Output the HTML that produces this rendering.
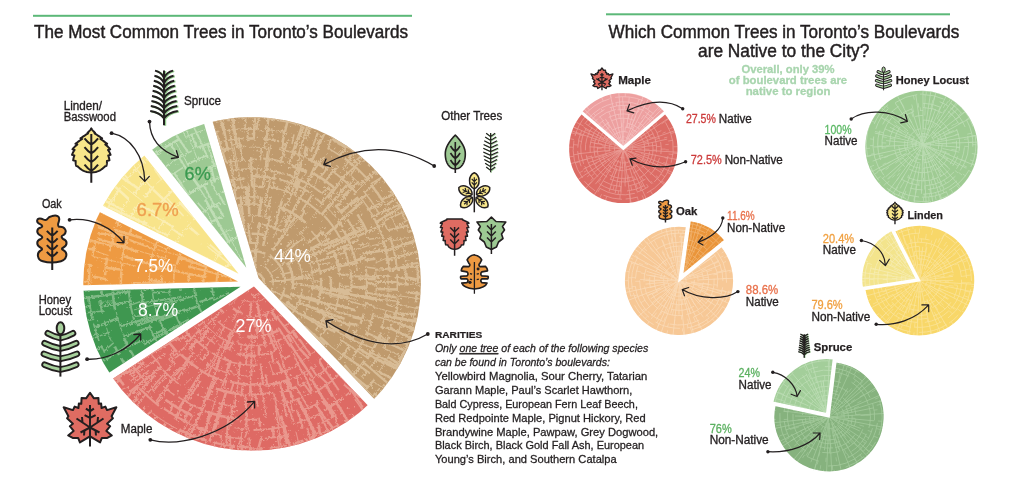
<!DOCTYPE html>
<html><head><meta charset="utf-8"><style>
html,body{margin:0;padding:0;background:#fff;width:1024px;height:482px;overflow:hidden}
svg{will-change:transform}
</style></head><body><svg width="1024" height="482" viewBox="0 0 1024 482" style="position:absolute;left:0;top:0" font-family='"Liberation Sans", sans-serif'><defs><filter id="rough" x="-5%" y="-5%" width="110%" height="110%"><feTurbulence type="fractalNoise" baseFrequency="0.45" numOctaves="2" seed="3"/><feDisplacementMap in="SourceGraphic" scale="3.5"/></filter><clipPath id="lpclip"><ellipse cx="252.1" cy="283.85" rx="168.8" ry="166.75"/></clipPath><clipPath id="ls0"><path d="M258.55,278.12L199.10,75.46L211.01,72.14L229.87,69.25L248.91,68.04L267.99,68.52L286.94,70.70L305.63,74.54L323.91,80.03L341.62,87.12L358.64,95.74L374.83,105.85L390.06,117.35L404.20,130.15L417.16,144.16L428.82,159.26L439.10,175.34L447.91,192.26L455.19,209.90L460.88,228.12L464.92,246.76L467.30,265.69L467.99,284.76L466.99,303.82L464.30,322.71L459.95,341.29L453.97,359.41L446.40,376.92L437.31,393.70L426.77,409.61L414.86,424.51L404.96,431.06Z"/></clipPath><filter id="spk0" x="0" y="0" width="100%" height="100%" color-interpolation-filters="sRGB"><feTurbulence type="fractalNoise" baseFrequency="0.3" numOctaves="3" seed="11" result="n"/><feColorMatrix in="n" type="matrix" values="0 0 0 0 0.847 0 0 0 0 0.737 0 0 0 0 0.588 10 0 0 0 -7.0" result="c"/><feComposite in="c" in2="SourceAlpha" operator="in"/></filter><clipPath id="ls1"><path d="M253.88,286.40L398.39,437.35L387.49,450.74L372.28,461.88L356.14,471.64L339.21,479.96L321.62,486.76L303.50,491.98L284.99,495.61L266.24,497.59L247.38,497.93L228.57,496.61L209.94,493.64L191.65,489.06L173.83,482.89L156.61,475.18L140.14,466.00L124.54,455.40L109.93,443.48L96.41,430.33L84.10,416.04L75.01,403.45Z"/></clipPath><filter id="spk1" x="0" y="0" width="100%" height="100%" color-interpolation-filters="sRGB"><feTurbulence type="fractalNoise" baseFrequency="0.3" numOctaves="3" seed="12" result="n"/><feColorMatrix in="n" type="matrix" values="0 0 0 0 0.918 0 0 0 0 0.596 0 0 0 0 0.557 10 0 0 0 -7.0" result="c"/><feComposite in="c" in2="SourceAlpha" operator="in"/></filter><clipPath id="ls2"><path d="M240.49,286.81L71.18,397.60L62.99,383.60L54.51,365.62L47.73,346.94L42.70,327.70L39.47,308.08L38.13,291.75Z"/></clipPath><filter id="spk2" x="0" y="0" width="100%" height="100%" color-interpolation-filters="sRGB"><feTurbulence type="fractalNoise" baseFrequency="0.3" numOctaves="3" seed="13" result="n"/><feColorMatrix in="n" type="matrix" values="0 0 0 0 0.502 0 0 0 0 0.729 0 0 0 0 0.525 10 0 0 0 -7.7" result="c"/><feComposite in="c" in2="SourceAlpha" operator="in"/></filter><clipPath id="ls3"><path d="M238.10,281.46L38.00,286.35L38.58,267.25L41.14,246.40L45.72,225.91L52.28,205.95L59.14,191.85Z"/></clipPath><filter id="spk3" x="0" y="0" width="100%" height="100%" color-interpolation-filters="sRGB"><feTurbulence type="fractalNoise" baseFrequency="0.3" numOctaves="3" seed="14" result="n"/><feColorMatrix in="n" type="matrix" values="0 0 0 0 0.957 0 0 0 0 0.725 0 0 0 0 0.467 10 0 0 0 -7.7" result="c"/><feComposite in="c" in2="SourceAlpha" operator="in"/></filter><clipPath id="ls4"><path d="M238.56,273.64L62.37,185.41L72.28,166.53L85.91,147.70L101.50,130.44L114.34,118.03Z"/></clipPath><filter id="spk4" x="0" y="0" width="100%" height="100%" color-interpolation-filters="sRGB"><feTurbulence type="fractalNoise" baseFrequency="0.3" numOctaves="3" seed="15" result="n"/><feColorMatrix in="n" type="matrix" values="0 0 0 0 0.984 0 0 0 0 0.933 0 0 0 0 0.702 10 0 0 0 -7.7" result="c"/><feComposite in="c" in2="SourceAlpha" operator="in"/></filter><clipPath id="ls5"><path d="M246.31,267.64L122.00,111.92L135.78,102.76L153.81,92.25L172.76,83.53L190.65,77.93Z"/></clipPath><filter id="spk5" x="0" y="0" width="100%" height="100%" color-interpolation-filters="sRGB"><feTurbulence type="fractalNoise" baseFrequency="0.3" numOctaves="3" seed="16" result="n"/><feColorMatrix in="n" type="matrix" values="0 0 0 0 0.753 0 0 0 0 0.871 0 0 0 0 0.714 10 0 0 0 -7.7" result="c"/><feComposite in="c" in2="SourceAlpha" operator="in"/></filter><clipPath id="rp1a"><path d="M623.30,148.90L665.27,113.05A55.20,55.20 0 1 1 581.33,113.05Z"/></clipPath><clipPath id="rp1b"><path d="M623.30,147.30L581.33,111.45A55.20,55.20 0 0 1 665.27,111.45Z"/></clipPath><clipPath id="hlclip"><circle cx="921.45" cy="146.9" r="56.1"/></clipPath><clipPath id="rp2a"><path d="M679.00,280.80L721.63,246.28A54.85,54.85 0 1 1 686.63,226.48Z"/></clipPath><clipPath id="rp2b"><path d="M682.45,274.71L690.08,220.39A54.85,54.85 0 0 1 725.07,240.19Z"/></clipPath><clipPath id="rp3a"><path d="M919.40,280.60L894.11,230.97A55.70,55.70 0 1 1 864.39,289.31Z"/></clipPath><clipPath id="rp3b"><path d="M916.99,279.37L861.98,288.09A55.70,55.70 0 0 1 891.71,229.75Z"/></clipPath><clipPath id="rp4a"><path d="M829.00,416.80L835.75,361.81A55.40,55.40 0 1 1 774.81,405.28Z"/></clipPath><clipPath id="rp4b"><path d="M826.79,413.71L772.60,402.19A55.40,55.40 0 0 1 833.54,358.72Z"/></clipPath><g id="ic_spruce"><path d="M164,70.6L164,125.3M155.00,70.60Q161.30,72.06 164,77.90M173.00,70.60Q166.70,72.06 164,77.90M154.40,75.66Q161.12,77.12 164,82.96M173.60,75.66Q166.88,77.12 164,82.96M153.80,80.72Q160.94,82.18 164,88.02M174.20,80.72Q167.06,82.18 164,88.02M153.20,85.78Q160.76,87.24 164,93.08M174.80,85.78Q167.24,87.24 164,93.08M152.60,90.84Q160.58,92.30 164,98.14M175.40,90.84Q167.42,92.30 164,98.14M152.00,95.90Q160.40,97.36 164,103.20M176.00,95.90Q167.60,97.36 164,103.20M151.40,100.96Q160.22,102.42 164,108.26M176.60,100.96Q167.78,102.42 164,108.26M150.80,106.02Q160.04,107.48 164,113.32M177.20,106.02Q167.96,107.48 164,113.32M150.20,111.08Q159.86,112.54 164,118.38M177.80,111.08Q168.14,112.54 164,118.38" transform="translate(1.2,0.5)" fill="none" stroke="#93cb8c" style="stroke-width:var(--sw,2px)"/><path d="M164,70.6L164,125.3M155.00,70.60Q161.30,72.06 164,77.90M173.00,70.60Q166.70,72.06 164,77.90M154.40,75.66Q161.12,77.12 164,82.96M173.60,75.66Q166.88,77.12 164,82.96M153.80,80.72Q160.94,82.18 164,88.02M174.20,80.72Q167.06,82.18 164,88.02M153.20,85.78Q160.76,87.24 164,93.08M174.80,85.78Q167.24,87.24 164,93.08M152.60,90.84Q160.58,92.30 164,98.14M175.40,90.84Q167.42,92.30 164,98.14M152.00,95.90Q160.40,97.36 164,103.20M176.00,95.90Q167.60,97.36 164,103.20M151.40,100.96Q160.22,102.42 164,108.26M176.60,100.96Q167.78,102.42 164,108.26M150.80,106.02Q160.04,107.48 164,113.32M177.20,106.02Q167.96,107.48 164,113.32M150.20,111.08Q159.86,112.54 164,118.38M177.80,111.08Q168.14,112.54 164,118.38" fill="none" stroke="#231f20" style="stroke-width:var(--sw,2px)" stroke-linecap="butt"/></g><g id="ic_linden"><path d="M91.30,128.40L91.58,128.95L91.97,129.50L92.41,130.05L92.89,130.61L93.40,131.16L93.93,131.71L94.47,132.26L95.04,132.81L94.57,133.36L95.40,133.91L96.25,134.46L97.10,135.02L97.95,135.57L98.80,136.12L99.65,136.67L100.49,137.22L101.33,137.77L102.16,138.32L100.39,138.87L101.20,139.43L102.00,139.98L102.79,140.53L103.57,141.08L104.33,141.63L105.07,142.18L105.80,142.73L106.51,143.28L107.19,143.84L105.26,144.39L105.91,144.94L106.53,145.49L107.13,146.04L107.70,146.59L108.25,147.14L108.77,147.69L109.27,148.25L109.74,148.80L110.18,149.35L107.99,149.90L108.38,150.45L108.74,151.00L109.07,151.55L109.37,152.10L109.64,152.66L109.89,153.21L110.13,153.76L110.37,154.31L110.59,154.86L108.20,155.41L108.40,155.96L108.58,156.51L108.75,157.06L108.91,157.62L109.05,158.17L109.18,158.72L109.29,159.27L109.38,159.82L109.45,160.37L106.91,160.92L106.94,161.47L106.96,162.03L106.95,162.58L106.92,163.13L106.87,163.68L106.79,164.23L106.68,164.78L106.55,165.33L106.38,165.88L104.82,166.44L104.31,166.99L103.76,167.54L103.16,168.09L102.50,168.64L101.76,169.19L100.94,169.74L100.00,170.30L98.90,170.85L97.56,171.40L95.76,171.95L91.30,172.50L91.30,172.50L86.84,171.95L85.04,171.40L83.70,170.85L82.60,170.30L81.66,169.74L80.84,169.19L80.10,168.64L79.44,168.09L78.84,167.54L78.29,166.99L77.78,166.44L76.22,165.88L76.05,165.33L75.92,164.78L75.81,164.23L75.73,163.68L75.68,163.13L75.65,162.58L75.64,162.03L75.66,161.47L75.69,160.92L73.15,160.37L73.22,159.82L73.31,159.27L73.42,158.72L73.55,158.17L73.69,157.62L73.85,157.06L74.02,156.51L74.20,155.96L74.40,155.41L72.01,154.86L72.23,154.31L72.47,153.76L72.71,153.21L72.96,152.66L73.23,152.10L73.53,151.55L73.86,151.00L74.22,150.45L74.61,149.90L72.42,149.35L72.86,148.80L73.33,148.25L73.83,147.69L74.35,147.14L74.90,146.59L75.47,146.04L76.07,145.49L76.69,144.94L77.34,144.39L75.41,143.84L76.09,143.28L76.80,142.73L77.53,142.18L78.27,141.63L79.03,141.08L79.81,140.53L80.60,139.98L81.40,139.43L82.21,138.87L80.44,138.32L81.27,137.77L82.11,137.22L82.95,136.67L83.80,136.12L84.65,135.57L85.50,135.02L86.35,134.46L87.20,133.91L88.03,133.36L87.56,132.81L88.13,132.26L88.67,131.71L89.20,131.16L89.71,130.61L90.19,130.05L90.63,129.50L91.02,128.95L91.30,128.40Z" fill="#f8e68a" stroke="#231f20" style="stroke-width:var(--sw,2px)" stroke-linejoin="round"/><path d="M91.3,134L91.3,182.7M84.5,138.4Q88,142.8 91.3,144.6M98.1,138.4Q94.6,142.8 91.3,144.6M84.5,147.1Q88,151.5 91.3,153.3M98.1,147.1Q94.6,151.5 91.3,153.3M84.5,155.9Q88,160.3 91.3,162.1M98.1,155.9Q94.6,160.3 91.3,162.1M84.5,164.6Q88,169.0 91.3,170.8M98.1,164.6Q94.6,169.0 91.3,170.8" fill="none" stroke="#231f20" style="stroke-width:var(--sw,2px)"/></g><g id="ic_oak" transform="translate(30,210) scale(0.1348)"><path d="M165,45 C195,35 225,45 215,80 C212,100 200,110 215,125 C260,120 280,160 250,185 C225,195 235,205 245,215 C280,225 280,265 245,280 C230,288 240,295 250,300 C285,320 270,370 230,380 C190,390 130,390 95,380 C55,370 45,320 80,300 C90,295 95,288 80,280 C45,265 45,225 80,215 C95,205 95,198 80,190 C45,175 45,140 80,130 C95,125 95,115 75,105 C40,90 50,55 85,65 C105,72 115,80 125,70 C135,55 145,48 165,45Z" fill="#ee9a42" stroke="#231f20" style="stroke-width:calc(var(--sw,2px)*7.42)" stroke-linejoin="round"/><path d="M165,130L165,445M125,155Q145,178 165,190M205,155Q185,178 165,190M125,210Q145,233 165,245M205,210Q185,233 165,245M125,260Q145,283 165,295M205,260Q185,283 165,295M125,310Q145,333 165,345M205,310Q185,333 165,345" fill="none" stroke="#231f20" style="stroke-width:calc(var(--sw,2px)*7.42)"/></g><g id="ic_hl"><ellipse cx="60.5" cy="328.2" rx="3.8" ry="6.0" fill="#a7d09c" style="stroke-width:var(--sw,2px)" stroke="#231f20"/><path d="M60.4,338.0Q54.10,336.85 47.8,333.3M60.40,338.0Q66.70,336.85 73.00,333.3M60.4,348.6Q52.50,347.10 44.6,343.2M60.40,348.6Q68.30,347.10 76.20,343.2M60.4,358.8Q52.15,357.55 43.9,353.9M60.40,358.8Q68.65,357.55 76.90,353.9M60.4,369.5Q52.50,368.30 44.6,364.7M60.40,369.5Q68.30,368.30 76.20,364.7" fill="none" stroke="#231f20" style="stroke-width:calc(var(--sw,2px)*3.3)" stroke-linecap="round"/><path d="M60.4,338.0Q54.10,336.85 47.8,333.3M60.40,338.0Q66.70,336.85 73.00,333.3M60.4,348.6Q52.50,347.10 44.6,343.2M60.40,348.6Q68.30,347.10 76.20,343.2M60.4,358.8Q52.15,357.55 43.9,353.9M60.40,358.8Q68.65,357.55 76.90,353.9M60.4,369.5Q52.50,368.30 44.6,364.7M60.40,369.5Q68.30,368.30 76.20,364.7" fill="none" stroke="#a7d09c" style="stroke-width:calc(var(--sw,2px)*1.45)" stroke-linecap="round"/><path d="M60.4,334.5L60.4,376.6" stroke="#231f20" style="stroke-width:var(--sw,2px)"/></g><g id="ic_maple"><path d="M90.00,392.76L93.92,398.34L98.43,397.95L98.72,403.83L101.17,403.54L101.56,408.04L105.29,406.57L107.05,410.10L116.36,407.26L111.56,416.28L112.93,418.24L107.05,423.72L110.19,426.17L106.37,430.98L111.85,435.48L107.35,437.93L101.86,437.93L100.09,442.44L90.49,436.56L89.51,436.56L79.91,442.44L78.14,437.93L72.65,437.93L68.15,435.48L73.63,430.98L69.81,426.17L72.95,423.72L67.07,418.24L68.44,416.28L63.64,407.26L72.95,410.10L74.71,406.57L78.44,408.04L78.83,403.54L81.28,403.83L81.57,397.95L86.08,398.34L90.00,392.76Z" fill="#df6c62" stroke="#231f20" style="stroke-width:var(--sw,2px)" stroke-linejoin="round"/><path d="M90,405L90,446.4M85.9,408.6L90,411.2L93.9,408.6M84.6,415.2L90,417.9L95.6,415.2M90,427.5L76.5,418.5M90,427.5L103.5,418.5M82.5,422.5L82,417M97.5,422.5L98,417M90,427.5L80.5,432.5M90,427.5L99.5,432.5M84.5,430.4L84,435.5M95.5,430.4L96,435.5" fill="none" stroke="#231f20" style="stroke-width:var(--sw,2px)"/></g></defs><rect x="33" y="14.8" width="379" height="2" fill="#5cb878"/><rect x="606" y="13.3" width="344" height="2" fill="#5cb878"/><text x="34.0" y="38.4" font-size="17.6" fill="#231f20" font-weight="normal" font-style="normal" text-anchor="start" textLength="374.0" lengthAdjust="spacingAndGlyphs" stroke="#231f20" stroke-width="0.45">The Most Common Trees in Toronto’s Boulevards</text><text x="608.6" y="38.4" font-size="17.6" fill="#231f20" font-weight="normal" font-style="normal" text-anchor="start" textLength="350.6" lengthAdjust="spacingAndGlyphs" stroke="#231f20" stroke-width="0.45">Which Common Trees in Toronto’s Boulevards</text><text x="698.0" y="57.3" font-size="17.6" fill="#231f20" font-weight="normal" font-style="normal" text-anchor="start" textLength="171.3" lengthAdjust="spacingAndGlyphs" stroke="#231f20" stroke-width="0.45">are Native to the City?</text><g clip-path="url(#lpclip)"><path d="M258.55,278.12L199.10,75.46L211.01,72.14L229.87,69.25L248.91,68.04L267.99,68.52L286.94,70.70L305.63,74.54L323.91,80.03L341.62,87.12L358.64,95.74L374.83,105.85L390.06,117.35L404.20,130.15L417.16,144.16L428.82,159.26L439.10,175.34L447.91,192.26L455.19,209.90L460.88,228.12L464.92,246.76L467.30,265.69L467.99,284.76L466.99,303.82L464.30,322.71L459.95,341.29L453.97,359.41L446.40,376.92L437.31,393.70L426.77,409.61L414.86,424.51L404.96,431.06Z" fill="#bf9a6d"/><path d="M258.55,278.12L199.10,75.46L211.01,72.14L229.87,69.25L248.91,68.04L267.99,68.52L286.94,70.70L305.63,74.54L323.91,80.03L341.62,87.12L358.64,95.74L374.83,105.85L390.06,117.35L404.20,130.15L417.16,144.16L428.82,159.26L439.10,175.34L447.91,192.26L455.19,209.90L460.88,228.12L464.92,246.76L467.30,265.69L467.99,284.76L466.99,303.82L464.30,322.71L459.95,341.29L453.97,359.41L446.40,376.92L437.31,393.70L426.77,409.61L414.86,424.51L404.96,431.06Z" fill="#000" filter="url(#spk0)"/><g clip-path="url(#ls0)" fill="none" stroke="#d8bc96" stroke-linecap="butt" filter="url(#rough)"><path d="M249.8,272.7A10.8,10.8 0 0 1 260.2,291.1M243.4,252.6A31.9,31.9 0 0 1 265.3,253.6M288.8,265.1A40.0,40.0 0 0 1 292.5,289.3M251.7,233.7A49.3,49.3 0 0 1 264.3,235.0M320.9,277.9A68.1,68.1 0 0 1 317.4,304.9M278.0,206.8A80.2,80.2 0 0 1 306.6,223.4M330.7,276.6A78.0,78.0 0 0 1 330.0,295.7M329.5,302.3A78.9,78.9 0 0 1 316.1,330.5M315.0,333.8A80.1,80.1 0 0 1 306.4,342.8M334.0,251.1A87.0,87.0 0 0 1 339.6,274.5M251.6,186.4A96.6,96.6 0 0 1 262.7,186.9M220.4,183.3A104.9,104.9 0 0 1 244.4,178.5M251.3,176.2A106.8,106.8 0 0 1 275.9,178.6M343.2,229.8A104.8,104.8 0 0 1 355.3,260.6M335.1,205.1A113.2,113.2 0 0 1 342.4,213.6M347.5,219.4A113.9,113.9 0 0 1 356.4,235.1M363.9,313.6A115.0,115.0 0 0 1 360.6,323.7M350.1,345.2A115.3,115.3 0 0 1 338.8,360.0M313.9,173.6A125.2,125.2 0 0 1 333.8,187.3M357.5,214.4A125.0,125.0 0 0 1 367.4,232.6M338.2,375.1A125.4,125.4 0 0 1 336.5,376.6M212.6,152.4A136.7,136.7 0 0 1 231.5,148.0M307.6,158.8A135.7,135.7 0 0 1 324.4,167.6M383.6,241.9A136.9,136.9 0 0 1 389.3,270.3M381.0,332.5A137.2,137.2 0 0 1 367.3,358.9M364.7,360.5A135.9,135.9 0 0 1 343.6,384.3M247.4,138.6A144.5,144.5 0 0 1 254.8,138.5M398.3,299.4A146.2,146.2 0 0 1 394.7,319.1M366.8,371.4A144.1,144.1 0 0 1 362.0,377.4M371.2,185.0A153.5,153.5 0 0 1 383.6,202.3M349.6,147.7A166.2,166.2 0 0 1 355.8,152.4M417.0,291.1A164.2,164.2 0 0 1 416.0,302.4M409.9,337.9A166.2,166.2 0 0 1 396.5,366.9M420.3,224.4A177.3,177.3 0 0 1 426.3,245.3M427.9,248.8A178.2,178.2 0 0 1 429.9,261.5M402.9,378.5A177.7,177.7 0 0 1 382.5,404.7M377.8,411.4A179.1,179.1 0 0 1 372.3,416.6M261.4,287.7L270.0,292.1M255.2,263.7L255.8,252.2M266.7,295.1L276.1,304.0M256.1,252.6L256.2,242.9M263.1,246.1L269.9,215.7M272.7,250.6L296.5,215.3M286.6,264.4L322.3,243.0M290.1,294.0L329.4,305.1M286.1,302.0L296.3,308.9M244.8,234.3L240.7,197.5M299.6,295.9L318.1,299.8M274.2,228.3L277.6,218.9M310.6,273.0L318.3,270.2M312.2,287.7L349.4,292.4M308.4,306.1L344.6,318.9M298.6,322.0L303.1,327.0M249.2,216.5L248.6,185.5M276.7,218.9L281.8,201.6M310.5,249.0L329.6,238.5M319.7,271.9L330.1,269.0M319.1,291.5L348.8,297.8M317.0,301.6L330.7,304.6M311.0,318.5L326.3,326.5M304.4,326.4L325.8,346.0M246.6,205.4L246.1,186.9M281.8,210.4L285.9,203.7M316.3,237.8L321.4,231.8M321.3,246.4L338.4,238.6M326.6,254.4L358.5,239.8M331.1,288.7L351.2,290.0M321.0,319.4L339.0,331.4M235.4,199.0L233.7,180.5M324.9,235.6L341.1,221.7M339.4,293.1L376.7,298.5M335.8,304.3L355.8,310.5M327.3,328.2L335.4,332.0M319.8,336.9L328.1,344.5M316.0,342.7L324.8,350.4M252.2,186.2L251.1,157.0M285.1,192.5L290.8,183.9M294.7,195.6L300.3,179.2M343.2,249.6L353.0,247.8M349.9,286.3L365.8,288.3M295.9,188.5L297.7,177.7M337.7,222.7L362.3,201.7M358.3,278.4L375.7,279.3M358.5,287.6L365.5,286.6M349.6,323.8L357.5,325.1M345.4,333.7L353.8,339.9M267.3,170.1L267.6,158.1M328.0,198.1L347.8,171.9M336.6,206.5L351.7,188.2M362.6,253.6L386.6,250.0M364.7,260.2L375.4,258.8M365.0,275.5L379.0,277.3M366.0,282.6L377.3,285.0M334.7,360.6L368.0,387.7M225.9,162.3L215.8,131.7M289.0,164.2L303.6,126.4M376.1,289.0L397.8,289.5M366.5,332.8L403.3,349.9M357.8,348.2L384.0,363.5M227.7,150.7L222.6,121.8M237.3,147.9L231.2,107.7M305.5,157.5L307.2,147.3M312.0,160.6L329.1,123.0M366.7,210.0L382.4,203.0M375.2,222.7L411.8,200.3M384.9,251.2L424.9,237.3M385.8,260.3L428.8,248.7M253.7,138.7L255.9,103.7M282.4,142.3L290.1,110.8M396.5,269.3L407.2,265.3M397.3,283.8L408.6,284.3M393.4,313.6L415.7,314.3M389.3,327.9L419.5,342.0M234.0,132.0L233.3,105.8M306.3,139.1L313.8,116.1M339.0,155.8L356.4,137.0M365.0,179.8L376.0,170.7M382.0,199.4L403.1,189.7M406.4,292.2L429.7,294.6M388.0,357.0L407.9,369.6M383.7,362.6L405.6,372.6M377.6,371.0L400.5,383.2M228.6,121.3L227.9,105.0M269.7,119.4L272.9,105.8M345.5,146.8L357.3,137.6M398.9,206.1L408.1,197.8M408.6,231.8L420.2,226.6M416.8,277.8L430.1,275.0M410.8,329.9L424.1,329.6" stroke-width="2.5"/><path d="M264.0,266.1A20.2,20.2 0 0 1 273.0,285.4M267.0,298.4A20.8,20.8 0 0 1 266.8,298.5M290.2,298.0A40.1,40.1 0 0 1 279.7,312.9M292.5,252.4A50.0,50.0 0 0 1 302.9,280.0M302.4,288.1A49.7,49.7 0 0 1 289.2,317.1M286.3,319.2A49.2,49.2 0 0 1 285.7,319.7M312.8,282.6A59.8,59.8 0 0 1 312.3,290.5M309.9,300.6A59.6,59.6 0 0 1 294.2,326.0M310.7,246.7A68.1,68.1 0 0 1 320.6,274.8M231.3,207.0A79.0,79.0 0 0 1 259.9,204.3M264.3,205.4A78.4,78.4 0 0 1 271.0,206.7M311.4,230.9A78.3,78.3 0 0 1 320.8,243.9M227.6,200.5A86.3,86.3 0 0 1 259.3,196.9M339.7,282.5A86.7,86.7 0 0 1 335.0,311.0M268.0,186.8A97.4,97.4 0 0 1 293.2,194.3M356.1,264.3A104.8,104.8 0 0 1 357.2,271.3M232.1,170.6A114.3,114.3 0 0 1 262.2,169.1M286.3,174.3A113.7,113.7 0 0 1 296.2,177.8M357.1,329.6A114.1,114.1 0 0 1 350.7,341.9M225.4,162.8A123.3,123.3 0 0 1 245.2,160.0M249.9,159.4A123.6,123.6 0 0 1 257.0,159.4M344.8,365.2A123.3,123.3 0 0 1 339.5,370.8M237.9,146.8A137.0,137.0 0 0 1 246.1,146.2M278.7,149.0A136.5,136.5 0 0 1 303.1,156.1M362.3,199.6A137.5,137.5 0 0 1 372.6,215.2M386.3,310.3A136.0,136.0 0 0 1 381.3,328.2M210.2,144.6A144.9,144.9 0 0 1 243.5,138.4M363.7,190.9A144.0,144.0 0 0 1 378.8,213.1M383.2,220.3A144.6,144.6 0 0 1 387.1,229.0M397.1,273.9A144.3,144.3 0 0 1 397.1,290.9M327.8,148.2A154.2,154.2 0 0 1 338.9,154.9M403.3,314.4A153.5,153.5 0 0 1 394.1,343.5M207.2,123.0A166.4,166.4 0 0 1 233.6,117.7M237.8,117.8A165.9,165.9 0 0 1 266.8,117.7M270.8,119.3A164.6,164.6 0 0 1 302.5,126.0M396.3,201.3A165.0,165.0 0 0 1 399.6,207.3M401.5,211.2A164.9,164.9 0 0 1 405.8,221.0M381.5,386.1A164.8,164.8 0 0 1 372.8,396.1M418.0,347.3A177.1,177.1 0 0 1 404.1,375.4M264.3,266.7L271.8,255.5M271.3,290.8L290.6,298.3M279.1,266.3L285.0,261.8M281.4,274.5L293.0,271.8M290.7,277.8L311.7,275.0M291.9,284.0L302.5,283.8M294.9,258.7L304.1,254.0M302.2,285.2L323.1,287.0M297.2,242.9L304.1,238.5M308.4,263.8L337.3,255.2M310.5,298.9L347.8,308.6M302.4,314.1L312.4,319.1M299.3,234.5L307.5,226.2M317.6,264.9L330.2,262.8M264.4,205.5L270.8,177.3M294.0,207.9L305.0,190.5M334.4,255.0L345.8,252.8M338.4,265.6L357.9,260.7M339.2,285.9L366.7,287.3M334.4,311.1L362.6,318.4M346.9,300.6L366.1,305.8M336.6,331.2L351.5,339.9M274.1,180.0L274.5,172.6M289.7,185.7L308.4,146.9M303.6,191.0L316.9,160.3M321.0,203.5L334.0,187.9M347.5,240.0L378.1,226.6M352.0,250.6L369.5,245.4M352.5,317.6L362.9,319.8M341.3,340.1L368.2,358.3M236.9,171.0L229.0,129.2M248.2,169.5L250.1,158.5M293.8,178.5L300.6,153.9M359.3,245.2L369.3,242.7M365.1,267.1L376.2,268.5M364.6,302.3L374.5,306.6M351.8,339.7L372.6,348.1M342.3,353.3L366.6,370.9M260.4,160.4L261.5,147.3M300.5,168.4L305.9,146.0M368.9,239.2L380.5,237.8M374.8,299.3L397.8,301.2M372.9,315.4L412.1,327.0M292.1,152.8L305.6,114.9M341.0,179.6L361.8,159.9M381.8,242.1L392.8,238.1M387.3,271.5L407.5,267.6M387.4,304.9L394.7,306.5M380.4,326.7L389.7,328.8M377.9,333.3L385.5,340.1M349.1,377.2L359.8,382.6M235.2,139.4L229.3,105.6M246.7,139.8L248.9,127.2M292.0,144.0L294.0,134.3M349.8,176.4L355.8,167.4M357.9,185.1L367.4,178.3M364.7,192.4L380.2,179.1M382.7,221.5L414.0,207.2M376.6,358.5L397.2,366.3M352.7,386.5L364.8,404.6M213.6,135.1L206.1,122.5M245.1,130.9L246.5,103.9M345.8,161.0L354.6,151.3M370.7,183.9L392.1,171.0M396.3,227.1L415.9,214.7M283.8,120.7L281.7,107.2M314.7,131.7L319.6,119.9M324.0,135.2L328.9,124.0M383.3,182.8L393.9,176.0M403.1,214.5L417.1,212.4M415.9,258.8L428.6,257.1M416.1,267.7L430.0,261.7M416.5,285.1L429.4,289.5" stroke-width="1.5"/><path d="M272.3,287.8A19.9,19.9 0 0 1 269.1,294.6M269.0,255.4A31.9,31.9 0 0 1 284.9,283.8M284.7,286.9A31.9,31.9 0 0 1 276.3,304.8M242.2,244.6A39.9,39.9 0 0 1 256.9,243.3M263.3,224.8A59.1,59.1 0 0 1 282.1,231.6M333.4,314.3A86.3,86.3 0 0 1 322.8,333.7M319.0,341.4A88.2,88.2 0 0 1 311.7,348.8M227.1,190.3A96.2,96.2 0 0 1 246.6,187.0M298.1,197.4A96.8,96.8 0 0 1 320.5,213.7M324.2,215.7A98.0,98.0 0 0 1 340.2,238.3M343.2,246.2A97.4,97.4 0 0 1 348.5,263.8M350.6,270.4A98.4,98.4 0 0 1 351.2,289.2M320.8,351.5A96.3,96.3 0 0 1 317.1,354.9M279.4,179.4A106.9,106.9 0 0 1 309.6,192.3M315.2,198.0A105.3,105.3 0 0 1 323.4,204.6M339.2,221.7A105.7,105.7 0 0 1 342.8,227.2M270.5,170.8A113.5,113.5 0 0 1 283.6,173.7M299.8,179.7A113.4,113.4 0 0 1 322.9,193.8M366.0,268.8A113.9,113.9 0 0 1 365.9,297.9M216.1,164.3A124.3,124.3 0 0 1 221.9,162.7M263.2,158.6A124.8,124.8 0 0 1 283.8,162.1M373.6,312.9A124.3,124.3 0 0 1 365.8,335.1M365.0,337.0A124.4,124.4 0 0 1 349.9,360.9M332.6,171.2A137.2,137.2 0 0 1 356.5,193.0M374.3,218.3A137.5,137.5 0 0 1 383.2,238.9M263.3,139.1A144.3,144.3 0 0 1 276.1,140.6M389.6,235.7A144.6,144.6 0 0 1 396.8,268.1M389.0,336.0A146.0,146.0 0 0 1 383.8,347.7M379.4,353.6A144.7,144.7 0 0 1 369.9,368.3M206.2,135.0A155.2,155.2 0 0 1 218.8,131.6M344.8,158.4A154.8,154.8 0 0 1 368.7,180.2M405.3,268.4A153.0,153.0 0 0 1 406.0,285.2M374.4,379.6A155.2,155.2 0 0 1 362.5,393.0M359.5,395.0A154.6,154.6 0 0 1 355.9,398.3M417.0,264.7A165.0,165.0 0 0 1 418.0,282.7M205.1,110.4A179.1,179.1 0 0 1 211.6,108.7M220.3,108.0A178.0,178.0 0 0 1 237.0,105.7M263.7,105.7A177.6,177.6 0 0 1 292.4,109.8M384.3,162.4A178.3,178.3 0 0 1 396.1,176.7M430.1,307.5A178.8,178.8 0 0 1 422.3,340.4M248.0,264.3L243.2,246.0M271.3,281.3L311.0,277.7M280.7,293.2L290.6,296.9M277.7,299.7L294.5,310.7M250.4,243.9L248.1,223.2M257.1,244.8L259.5,222.0M280.7,256.7L298.2,241.4M282.0,308.8L289.8,316.6M279.0,242.1L285.0,231.7M286.8,246.8L293.6,240.2M299.1,302.9L324.7,312.6M294.2,310.5L326.6,329.8M242.1,225.8L238.9,203.9M283.1,231.1L295.9,205.3M307.1,257.4L331.9,245.5M238.6,216.9L236.2,207.7M265.2,216.3L271.1,196.4M285.0,223.0L301.1,198.4M306.8,243.5L324.1,231.9M314.0,255.3L347.9,239.0M315.2,310.5L350.4,326.0M254.4,204.8L254.5,178.3M299.4,220.5L304.9,210.8M329.1,268.7L358.6,262.4M327.6,306.7L335.4,309.1M311.5,333.7L318.2,338.2M287.4,204.8L300.4,168.1M301.6,211.4L312.6,194.0M330.3,244.1L364.2,229.0M338.4,275.0L349.2,274.4M226.3,190.2L223.8,170.8M235.1,188.4L230.4,159.2M262.7,188.0L268.3,146.9M274.5,188.6L273.5,181.3M333.9,229.5L340.9,223.6M339.0,240.0L364.3,225.4M349.7,276.6L389.4,276.0M348.5,294.1L376.9,300.2M321.6,349.4L328.9,359.4M327.0,209.9L339.0,194.8M307.0,184.1L313.9,173.1M321.3,193.8L329.6,187.1M357.2,236.6L384.3,223.8M364.9,292.4L397.5,297.7M242.5,160.9L238.8,137.3M280.1,163.2L287.3,141.9M311.1,173.7L324.5,156.6M319.2,179.1L331.0,162.9M324.3,183.4L331.6,172.1M341.9,196.8L358.8,181.5M348.5,205.6L362.0,197.8M375.7,269.8L416.5,266.6M376.5,282.1L396.6,282.1M349.2,359.1L369.2,372.9M344.7,364.9L359.2,382.6M219.2,152.3L211.1,135.7M263.7,147.7L269.3,127.9M282.3,151.4L283.9,130.4M298.2,156.0L307.4,125.4M331.1,173.1L338.5,166.5M348.1,187.2L353.9,178.2M360.1,199.9L366.7,194.7M371.4,216.9L411.2,199.7M369.4,351.6L397.3,365.6M363.1,362.0L393.8,388.8M265.9,139.1L268.9,116.5M311.0,151.8L317.8,132.7M342.6,169.5L362.6,141.6M387.9,230.2L408.2,225.5M396.0,276.4L407.9,279.5M370.1,368.0L387.3,382.5M224.1,133.5L220.0,119.0M256.4,130.3L258.8,116.8M266.8,130.0L270.9,106.5M317.2,144.4L323.9,134.5M328.2,149.4L330.9,139.1M350.7,165.8L369.9,148.1M385.3,205.9L406.0,191.2M401.4,245.0L413.6,242.4M406.1,265.2L429.4,260.4M399.8,324.9L426.1,332.4M393.6,341.8L407.8,343.7M363.4,389.7L372.4,397.9M243.5,118.5L239.8,107.1M293.3,123.7L295.0,111.6M332.1,138.4L337.4,127.3M354.2,152.9L359.9,138.6M360.8,158.5L370.0,149.0M368.4,165.8L377.5,153.0M375.2,174.5L386.1,161.9M415.9,307.3L428.4,308.3M394.5,367.4L407.7,370.2M382.7,385.0L395.9,389.6M374.0,392.9L384.0,404.6" stroke-width="2.0"/><path d="M238.1,234.2A51.0,51.0 0 0 1 248.8,232.2M310.3,263.5A60.5,60.5 0 0 1 313.4,280.2M312.0,292.8A59.8,59.8 0 0 1 310.8,298.6M250.8,215.5A67.5,67.5 0 0 1 269.4,217.5M298.8,232.0A68.5,68.5 0 0 1 305.8,239.3M321.1,230.4A86.0,86.0 0 0 1 329.4,243.5M326.2,206.6A105.8,105.8 0 0 1 336.2,217.6M349.8,326.5A106.2,106.2 0 0 1 336.5,348.5M327.2,195.5A114.7,114.7 0 0 1 332.1,199.9M366.1,302.4A114.7,114.7 0 0 1 364.6,309.8M375.6,268.5A123.4,123.4 0 0 1 375.9,293.7M250.3,147.2A135.9,135.9 0 0 1 272.0,148.5M387.9,274.1A135.2,135.2 0 0 1 386.5,304.8M346.1,171.1A145.6,145.6 0 0 1 361.5,186.0M391.8,323.7A144.7,144.7 0 0 1 388.7,333.1M226.8,130.6A154.7,154.7 0 0 1 257.2,128.4M265.4,129.6A153.9,153.9 0 0 1 284.4,132.3M387.9,209.6A153.6,153.6 0 0 1 397.6,231.4M400.3,237.3A154.2,154.2 0 0 1 405.8,262.3M391.0,351.7A154.1,154.1 0 0 1 377.7,373.6M415.4,307.2A164.2,164.2 0 0 1 408.7,334.9M296.4,111.1A177.3,177.3 0 0 1 311.8,115.7M318.9,117.5A178.2,178.2 0 0 1 330.7,122.7M369.5,148.4A178.0,178.0 0 0 1 379.3,157.5M269.5,273.7L278.8,267.8M272.9,238.0L286.5,211.4M252.2,222.8L252.6,215.5M311.2,281.0L320.0,281.3M290.7,227.3L298.3,218.8M290.3,214.6L298.9,198.5M329.4,296.3L357.1,299.4M280.7,202.3L288.7,182.1M310.6,219.3L327.8,196.0M241.7,188.1L234.1,146.4M341.5,321.2L357.4,326.2M327.6,343.9L348.7,359.6M257.3,178.7L257.0,166.9M264.1,179.0L270.6,145.9M332.5,213.9L339.4,210.5M345.2,231.5L360.0,221.2M300.4,181.1L306.9,172.1M314.5,187.1L318.0,176.1M360.6,318.0L370.6,321.8M353.9,333.2L377.4,342.6M370.3,246.1L385.3,242.4M375.5,262.9L386.7,258.1M373.0,307.2L393.8,312.4M354.1,193.8L367.4,180.9M388.2,283.7L396.8,282.3M388.3,294.5L395.4,296.5M273.4,140.5L271.8,128.1M300.5,147.7L311.2,113.8M390.9,241.2L412.6,236.9M397.2,295.5L431.4,300.7M396.0,303.7L418.1,308.8M391.7,321.5L425.6,331.7M382.4,347.4L411.8,361.5M357.9,380.9L374.5,397.4M403.8,254.9L429.2,250.0M406.7,285.1L429.4,281.0M370.4,380.2L391.9,393.1M250.8,118.3L255.1,103.5M305.1,126.4L307.3,111.5M411.4,241.1L424.2,237.2M408.5,338.6L420.3,345.6M398.9,357.1L410.6,362.0M370.2,399.1L379.1,406.6" stroke-width="1.0"/><path d="M291.2,165.6A123.4,123.4 0 0 1 306.8,171.9M332.2,138.9A164.4,164.4 0 0 1 346.6,147.8M254.3,273.7L255.2,263.7M258.7,216.8L261.5,197.4M321.5,215.0L347.0,185.3M355.1,261.3L365.7,256.7M340.6,212.2L358.3,197.3M385.2,316.1L427.1,323.3M374.3,341.7L383.6,342.1M406.2,277.5L416.7,279.7M339.5,143.6L343.8,130.3M389.9,192.8L402.3,185.4M414.1,318.6L425.1,322.2" stroke-width="3.0"/></g><path d="M253.88,286.40L398.39,437.35L387.49,450.74L372.28,461.88L356.14,471.64L339.21,479.96L321.62,486.76L303.50,491.98L284.99,495.61L266.24,497.59L247.38,497.93L228.57,496.61L209.94,493.64L191.65,489.06L173.83,482.89L156.61,475.18L140.14,466.00L124.54,455.40L109.93,443.48L96.41,430.33L84.10,416.04L75.01,403.45Z" fill="#de6a64"/><path d="M253.88,286.40L398.39,437.35L387.49,450.74L372.28,461.88L356.14,471.64L339.21,479.96L321.62,486.76L303.50,491.98L284.99,495.61L266.24,497.59L247.38,497.93L228.57,496.61L209.94,493.64L191.65,489.06L173.83,482.89L156.61,475.18L140.14,466.00L124.54,455.40L109.93,443.48L96.41,430.33L84.10,416.04L75.01,403.45Z" fill="#000" filter="url(#spk1)"/><g clip-path="url(#ls1)" fill="none" stroke="#ea988e" stroke-linecap="butt" filter="url(#rough)"><path d="M261.7,291.7A12.3,12.3 0 0 1 252.1,295.3M273.0,352.6A72.4,72.4 0 0 1 259.3,355.1M290.1,355.6A81.5,81.5 0 0 1 283.8,358.5M207.4,349.5A80.6,80.6 0 0 1 196.0,340.0M191.7,338.8A82.9,82.9 0 0 1 182.1,325.9M324.8,355.2A101.8,101.8 0 0 1 318.7,360.8M228.2,382.1A102.1,102.1 0 0 1 200.1,370.4M273.2,392.6A111.5,111.5 0 0 1 250.9,394.5M161.2,349.2A113.2,113.2 0 0 1 156.2,341.6M341.2,372.4A125.6,125.6 0 0 1 315.2,392.1M257.2,419.8A136.9,136.9 0 0 1 244.3,419.6M138.2,354.4A135.2,135.2 0 0 1 137.4,353.0M287.4,425.9A147.0,147.0 0 0 1 253.5,430.0M221.8,435.8A156.0,156.0 0 0 1 208.3,432.4M189.7,423.3A153.9,153.9 0 0 1 164.0,408.6M158.9,405.9A154.8,154.8 0 0 1 140.0,388.8M234.9,446.3A164.3,164.3 0 0 1 213.3,442.5M374.0,410.0A175.5,175.5 0 0 1 352.6,427.5M346.0,432.6A176.1,176.1 0 0 1 333.2,439.8M321.2,444.4A175.2,175.2 0 0 1 303.5,450.8M133.9,411.3A175.0,175.0 0 0 1 124.7,402.1M251.3,302.8L249.7,316.5M264.5,312.5L272.4,331.6M276.7,316.6L289.0,333.0M237.8,320.2L226.1,349.5M278.3,327.5L290.3,346.4M251.6,334.8L251.3,376.5M231.3,330.7L217.1,367.0M224.6,326.4L219.8,335.6M233.5,341.5L229.2,349.3M298.6,338.3L311.2,355.7M270.8,350.7L273.6,363.6M247.4,353.7L245.8,365.3M200.0,329.4L185.2,345.3M260.6,363.5L263.1,385.0M189.9,333.7L178.3,340.5M265.5,374.4L267.6,386.3M227.8,370.8L220.9,390.5M217.7,366.9L201.6,409.7M193.5,352.1L166.6,387.1M310.5,366.5L316.7,375.8M302.9,370.7L311.7,391.3M279.8,381.5L286.5,417.0M242.9,384.0L240.9,396.4M233.7,382.8L230.5,392.7M175.3,349.8L169.4,356.1M329.2,363.4L340.8,373.9M324.6,369.3L338.8,390.3M317.9,374.4L328.2,384.3M302.7,382.1L311.4,393.8M282.1,391.5L293.6,421.6M255.2,394.4L258.0,406.6M245.6,394.2L246.6,428.0M200.7,380.4L186.0,402.5M317.0,389.7L334.7,414.1M167.7,374.0L161.7,381.7M343.9,384.6L360.1,397.4M228.3,416.0L226.3,443.9M192.4,404.8L188.1,413.3M160.8,381.4L153.0,391.3M155.0,375.2L142.0,389.5M350.6,389.6L362.8,407.3M319.2,412.6L332.5,440.4M187.1,411.6L184.3,423.0M172.7,403.5L170.3,414.1M162.7,397.0L155.4,404.2M147.9,381.3L135.5,398.5M307.3,427.8L311.8,446.5M249.3,437.5L250.8,458.8M230.1,435.5L230.2,457.7M203.0,427.9L193.2,446.8M320.1,433.7L327.6,439.6M305.6,438.8L312.3,445.8M151.6,410.9L141.9,419.8M145.4,406.2L139.7,416.4M121.3,379.4L109.9,387.0M117.2,373.6L109.0,379.7" stroke-width="2.0"/><path d="M246.3,291.6A10.9,10.9 0 0 1 243.7,288.6M242.9,313.6A32.2,32.2 0 0 1 232.9,308.2M223.7,313.2A42.1,42.1 0 0 1 217.2,305.1M278.5,330.4A53.8,53.8 0 0 1 260.8,336.2M257.8,336.5A53.7,53.7 0 0 1 247.2,336.4M255.9,355.7A72.8,72.8 0 0 1 236.6,353.9M229.1,360.7A81.2,81.2 0 0 1 223.3,358.6M285.2,381.0A103.2,103.2 0 0 1 265.3,385.5M261.7,384.1A101.5,101.5 0 0 1 230.3,381.9M198.4,368.5A101.5,101.5 0 0 1 180.8,354.3M176.8,351.9A102.7,102.7 0 0 1 166.2,337.9M306.2,382.6A112.9,112.9 0 0 1 299.5,385.9M296.4,386.8A112.5,112.5 0 0 1 280.5,392.1M243.5,394.5A111.9,111.9 0 0 1 215.9,388.5M319.2,403.0A137.0,137.0 0 0 1 306.0,409.4M237.6,418.9A136.7,136.7 0 0 1 204.9,411.0M343.2,397.6A145.8,145.8 0 0 1 324.1,410.3M192.3,415.6A145.9,145.9 0 0 1 165.4,399.7M204.0,429.9A154.9,154.9 0 0 1 196.4,427.1M303.5,440.8A165.7,165.7 0 0 1 294.6,443.4M248.8,446.9A164.0,164.0 0 0 1 236.9,446.2M206.5,440.4A164.1,164.1 0 0 1 180.6,430.3M123.8,385.2A164.7,164.7 0 0 1 115.5,373.8M267.7,458.7A176.3,176.3 0 0 1 248.0,459.2M242.4,457.4A174.7,174.7 0 0 1 230.0,456.2M192.7,446.9A174.7,174.7 0 0 1 180.2,441.8M177.7,441.0A175.0,175.0 0 0 1 169.6,436.8M257.1,302.7L265.6,346.8M271.0,310.6L276.6,319.2M254.4,316.0L255.0,327.0M256.9,324.8L257.7,335.3M268.1,332.0L275.5,349.7M259.0,345.9L258.8,355.5M247.9,345.5L245.8,353.0M209.0,328.0L203.8,335.5M290.3,344.1L311.8,376.6M205.2,334.6L199.7,342.4M299.6,348.6L308.9,358.5M277.3,360.5L282.5,372.7M240.2,361.8L238.3,374.3M209.8,351.1L201.4,360.3M284.3,369.5L291.9,389.5M178.8,337.3L167.8,342.3M318.7,360.2L324.4,370.1M286.1,379.2L288.6,389.6M259.4,384.4L262.2,394.7M216.5,378.1L206.8,399.7M202.6,370.1L179.0,408.5M311.1,378.1L333.7,417.0M289.4,388.7L293.3,402.1M226.2,391.7L213.7,433.2M161.8,346.5L124.8,370.1M232.3,405.1L230.7,426.4M222.2,402.4L209.6,441.5M161.6,366.6L129.8,392.1M315.2,403.9L325.7,419.4M304.6,408.0L314.1,435.8M297.3,410.9L301.4,422.6M281.0,415.5L292.3,454.9M259.6,417.6L260.0,426.8M209.9,411.9L202.8,440.4M202.8,408.0L185.7,445.1M143.9,361.9L130.4,375.9M336.1,402.3L351.8,427.0M283.3,425.5L286.9,443.9M272.8,426.0L273.8,437.2M135.4,368.1L108.8,382.5M326.4,419.6L332.9,428.3M318.7,422.6L319.8,434.1M261.7,436.4L258.7,447.4M139.0,387.5L132.4,394.0M127.2,371.4L106.2,381.5M352.3,414.8L357.0,422.2M344.7,419.6L350.5,427.7M336.9,425.0L343.6,433.8M293.7,442.3L297.7,452.5M261.3,447.2L258.8,457.8M241.2,446.3L243.8,457.4M232.4,445.0L230.3,455.3M224.9,443.8L223.2,455.6M214.1,441.8L213.4,454.7M180.8,429.6L173.8,438.2M165.8,422.9L161.0,430.3M157.5,416.9L148.3,424.7M131.5,392.7L124.8,399.7" stroke-width="2.5"/><path d="M266.2,296.9A19.2,19.2 0 0 1 244.6,300.3M215.2,333.8A63.3,63.3 0 0 1 198.9,315.9M231.3,350.2A70.6,70.6 0 0 1 218.4,344.5M202.1,334.8A72.6,72.6 0 0 1 192.3,322.9M308.8,341.6A80.9,80.9 0 0 1 294.0,352.8M316.5,349.7A92.1,92.1 0 0 1 300.0,362.2M249.8,376.2A93.2,93.2 0 0 1 232.1,373.8M316.3,364.6A103.2,103.2 0 0 1 288.1,380.1M216.2,402.0A124.5,124.5 0 0 1 200.4,395.9M247.1,428.9A146.0,146.0 0 0 1 234.4,427.8M177.3,429.0A164.5,164.5 0 0 1 152.3,413.1M330.9,441.1A176.3,176.3 0 0 1 324.9,444.0M295.0,453.2A175.3,175.3 0 0 1 272.8,457.2M243.7,300.2L232.5,322.0M238.6,296.6L229.5,306.1M237.5,310.2L231.6,320.3M228.9,316.2L209.5,342.1M240.5,332.4L237.5,342.5M216.1,319.8L196.2,340.1M217.5,334.4L211.6,341.0M253.9,354.2L255.9,363.9M220.4,346.3L205.0,373.4M211.1,339.3L184.7,371.9M308.6,341.7L317.7,348.3M269.5,362.4L273.5,375.1M226.2,381.3L223.7,392.8M218.3,388.9L206.2,431.5M193.0,376.7L184.0,385.2M331.6,392.9L343.0,411.6M218.4,413.9L218.7,424.7M327.9,406.2L332.1,417.1M241.4,428.0L241.7,456.4M210.7,422.1L205.6,429.2M193.1,415.5L176.7,441.1M295.9,431.5L300.3,449.6M221.3,433.8L221.3,455.1M283.9,443.5L282.9,454.3M206.1,440.4L203.2,450.7M126.5,387.5L114.0,392.8" stroke-width="1.0"/><path d="M237.5,295.8A20.1,20.1 0 0 1 235.8,293.4M276.9,306.8A33.7,33.7 0 0 1 245.8,315.9M282.6,311.9A41.4,41.4 0 0 1 260.2,323.8M291.0,320.8A53.6,53.6 0 0 1 284.4,326.4M240.0,333.5A52.2,52.2 0 0 1 217.8,321.5M297.5,327.4A62.9,62.9 0 0 1 269.2,343.7M262.8,344.8A62.6,62.6 0 0 1 237.9,343.8M233.4,343.7A63.7,63.7 0 0 1 217.8,336.2M215.1,343.6A71.4,71.4 0 0 1 206.9,337.5M257.6,365.0A82.1,82.1 0 0 1 231.4,362.2M219.9,357.1A81.2,81.2 0 0 1 211.9,353.0M298.7,364.7A93.6,93.6 0 0 1 272.2,374.6M229.2,373.6A93.7,93.7 0 0 1 206.4,364.3M178.5,339.8A93.7,93.7 0 0 1 172.9,331.5M331.9,363.9A113.0,113.0 0 0 1 309.8,380.6M308.8,394.2A124.5,124.5 0 0 1 279.5,404.6M235.6,406.8A125.0,125.0 0 0 1 218.5,403.2M178.5,383.7A125.2,125.2 0 0 1 162.7,369.8M160.4,365.6A124.1,124.1 0 0 1 146.8,347.3M202.3,409.6A136.4,136.4 0 0 1 178.3,397.1M174.5,395.1A136.8,136.8 0 0 1 163.8,386.8M352.7,389.6A145.9,145.9 0 0 1 345.7,395.7M322.8,412.2A146.9,146.9 0 0 1 292.8,424.4M145.6,381.8A145.9,145.9 0 0 1 128.4,359.0M335.7,415.4A156.1,156.1 0 0 1 321.5,423.2M289.8,434.4A155.8,155.8 0 0 1 264.9,438.4M244.0,438.8A156.1,156.1 0 0 1 224.0,436.4M339.2,424.3A165.6,165.6 0 0 1 310.3,438.3M286.9,445.4A165.9,165.9 0 0 1 269.8,448.0M262.8,448.8A166.0,166.0 0 0 1 252.8,449.0M221.4,454.5A174.4,174.4 0 0 1 200.0,449.2M163.6,433.8A175.3,175.3 0 0 1 138.7,415.9M118.6,395.8A175.5,175.5 0 0 1 102.9,373.9M267.5,322.3L278.2,348.1M222.8,310.0L198.7,332.9M284.0,324.8L299.7,348.8M277.8,339.3L281.3,349.8M241.3,344.2L240.3,354.5M224.6,339.6L207.6,376.1M204.7,321.0L197.9,326.6M279.3,349.0L285.0,369.0M293.3,353.3L302.8,374.4M219.4,357.4L215.8,368.4M316.5,349.7L346.5,382.8M250.9,375.7L249.4,396.4M239.4,373.4L236.2,396.3M208.8,363.2L204.4,373.6M186.1,346.7L168.6,359.6M296.6,375.0L298.6,385.5M250.7,384.8L252.6,409.0M188.6,360.9L177.0,380.0M181.0,353.7L170.4,361.7M170.2,343.0L150.8,353.6M295.7,386.1L307.8,407.1M273.7,393.5L281.5,427.3M262.8,393.7L266.2,417.9M235.6,392.6L235.1,407.3M180.5,367.2L170.2,378.2M174.5,362.0L146.3,394.7M165.5,353.6L153.5,361.4M290.4,402.1L292.8,412.6M275.5,405.1L281.0,447.2M173.2,378.8L155.4,402.1M156.1,360.2L136.5,373.4M168.9,388.9L159.0,395.3M148.9,370.3L134.0,383.1M248.7,427.4L244.8,437.9M139.7,374.5L130.7,381.1M354.9,399.1L367.1,416.3M335.5,414.1L336.6,423.8M277.2,435.8L280.6,454.3M240.7,436.6L236.9,455.9M191.6,423.6L183.4,442.4M145.8,394.1L132.0,412.3M361.0,406.6L368.4,416.2M327.5,429.5L334.3,436.7M312.6,436.4L319.3,444.0M272.0,445.9L269.0,456.8M173.0,425.7L163.8,433.9" stroke-width="1.5"/><path d="M292.4,330.3L297.2,338.3M287.7,335.5L291.5,341.9M230.7,360.5L227.1,371.2M196.0,340.6L189.3,350.1M325.3,383.7L332.1,395.6M297.4,398.2L315.4,433.8M321.8,399.7L333.3,413.5M301.7,419.0L301.8,428.7M180.3,408.7L175.4,419.5M251.5,447.3L246.9,459.9M137.6,398.8L129.3,404.7" stroke-width="3.0"/></g><path d="M240.49,286.81L71.18,397.60L62.99,383.60L54.51,365.62L47.73,346.94L42.70,327.70L39.47,308.08L38.13,291.75Z" fill="#3f9750"/><path d="M240.49,286.81L71.18,397.60L62.99,383.60L54.51,365.62L47.73,346.94L42.70,327.70L39.47,308.08L38.13,291.75Z" fill="#000" filter="url(#spk2)"/><g clip-path="url(#ls2)" fill="none" stroke="#80ba86" stroke-linecap="butt" filter="url(#rough)"><path d="M244.7,288.3A9.9,9.9 0 0 1 243.1,282.9M157.0,314.4A101.0,101.0 0 0 1 152.6,293.5M158.7,344.4A112.5,112.5 0 0 1 149.8,327.9M141.1,283.1A111.9,111.9 0 0 1 141.1,281.8M128.1,284.7A124.9,124.9 0 0 1 128.1,281.7M104.6,352.7A164.0,164.0 0 0 1 102.0,346.8M99.0,340.9A164.5,164.5 0 0 1 93.6,323.9M73.4,289.6A179.7,179.7 0 0 1 73.3,281.1M243.8,284.2L227.3,285.8M229.1,292.8L213.3,300.2M212.3,284.1L168.9,283.6M197.2,295.3L155.2,306.6M170.8,291.7L152.5,292.7M154.1,288.8L139.9,289.9M146.9,315.7L134.9,316.3M143.5,300.5L129.8,305.4M143.7,340.0L118.0,351.0M116.8,351.1L106.8,359.8M113.7,342.8L103.8,351.5M109.7,332.1L81.4,342.9M103.8,311.1L75.5,313.9M107.2,358.1L95.4,369.4M97.9,333.0L84.2,339.4M94.2,319.3L78.6,321.2M89.5,288.7L73.8,292.3" stroke-width="1.5"/><path d="M213.5,296.1A41.6,41.6 0 0 1 211.4,284.5M180.6,290.8A72.8,72.8 0 0 1 180.2,282.2M147.9,320.3A111.6,111.6 0 0 1 141.5,287.6M138.0,362.9A140.0,140.0 0 0 1 129.9,349.8M128.3,347.2A140.2,140.2 0 0 1 124.0,337.8M115.0,309.6A140.6,140.6 0 0 1 112.7,291.9M127.2,367.9A151.8,151.8 0 0 1 121.3,358.5M119.1,354.9A152.0,152.0 0 0 1 114.9,346.4M102.3,312.6A153.6,153.6 0 0 1 100.3,300.0M101.9,296.9A151.7,151.7 0 0 1 101.3,281.4M89.6,282.3A163.4,163.4 0 0 1 89.6,281.3M100.0,379.6A180.9,180.9 0 0 1 87.2,355.4M199.9,305.3L183.8,311.4M189.2,319.6L143.7,344.3M185.6,309.4L136.7,325.2M159.1,315.3L119.8,326.4M154.8,300.3L141.5,304.2M141.8,287.3L111.3,289.9M130.5,291.6L74.6,299.3M118.5,317.8L95.5,327.3M102.7,346.4L89.3,354.1" stroke-width="2.5"/><path d="M203.6,315.6A59.2,59.2 0 0 1 194.0,287.3M183.2,329.2A83.7,83.7 0 0 1 170.8,298.5M168.9,338.3A100.7,100.7 0 0 1 160.2,321.9M152.6,291.3A100.7,100.7 0 0 1 152.3,281.9M134.0,319.8A124.5,124.5 0 0 1 128.8,291.9M92.1,318.5A164.7,164.7 0 0 1 88.9,297.2M88.8,291.9A164.4,164.4 0 0 1 88.6,285.6M75.7,319.2A181.0,181.0 0 0 1 74.5,313.1M214.2,297.4L199.2,302.0M205.5,313.7L159.4,342.4M181.4,296.9L154.1,301.3M175.8,314.7L158.7,320.7M165.8,328.6L152.0,335.5M151.3,326.5L123.7,336.5M132.0,301.3L103.7,306.2M127.1,345.0L117.0,353.6M115.6,370.9L102.4,382.2M90.9,305.0L76.5,310.8" stroke-width="2.0"/><path d="M170.0,296.5A84.1,84.1 0 0 1 168.9,282.1M123.5,335.4A139.8,139.8 0 0 1 116.2,311.8M111.3,341.3A153.2,153.2 0 0 1 104.4,320.3M85.5,351.6A181.0,181.0 0 0 1 76.4,322.4M74.8,308.6A180.1,180.1 0 0 1 73.2,292.4M171.6,300.6L133.9,309.9M169.5,336.8L147.0,350.9M135.6,358.3L123.0,363.2M115.5,302.2L101.3,302.2M124.4,364.8L116.7,372.9" stroke-width="1.0"/><path d="M111.4,289.2A141.7,141.7 0 0 1 111.3,281.5" stroke-width="3.0"/></g><path d="M238.10,281.46L38.00,286.35L38.58,267.25L41.14,246.40L45.72,225.91L52.28,205.95L59.14,191.85Z" fill="#ee9a42"/><path d="M238.10,281.46L38.00,286.35L38.58,267.25L41.14,246.40L45.72,225.91L52.28,205.95L59.14,191.85Z" fill="#000" filter="url(#spk3)"/><g clip-path="url(#ls3)" fill="none" stroke="#f4b977" stroke-linecap="butt" filter="url(#rough)"><path d="M240.5,283.6A12.6,12.6 0 0 1 242.0,277.0M216.5,283.4A36.5,36.5 0 0 1 221.0,265.6M203.5,284.8A49.5,49.5 0 0 1 209.5,259.3M161.0,284.3A92.0,92.0 0 0 1 161.3,275.5M121.6,259.8A133.4,133.4 0 0 1 127.7,237.3M128.8,234.9A133.2,133.2 0 0 1 136.0,219.2M109.7,251.3A146.7,146.7 0 0 1 114.4,234.8M92.4,255.9A162.8,162.8 0 0 1 95.2,242.7M77.5,287.3A175.6,175.6 0 0 1 77.6,276.5M231.4,277.6L188.2,266.2M219.6,269.9L206.1,263.7M189.3,274.0L149.0,265.5M155.9,249.9L129.0,239.8M158.3,241.1L143.7,231.8M106.3,214.6L92.5,206.8" stroke-width="2.0"/><path d="M230.1,283.8A22.9,22.9 0 0 1 232.9,272.0M192.4,257.6A65.7,65.7 0 0 1 195.3,251.5M173.6,284.3A79.4,79.4 0 0 1 175.3,266.6M162.5,268.5A91.7,91.7 0 0 1 165.7,255.2M166.5,251.2A92.2,92.2 0 0 1 172.1,238.9M151.1,259.4A104.6,104.6 0 0 1 160.2,234.7M176.6,265.8L162.4,262.2M111.0,245.7L81.3,237.3M91.5,280.5L77.1,283.2M101.4,223.0L90.4,219.5" stroke-width="1.5"/><path d="M188.5,283.7A64.5,64.5 0 0 1 189.0,274.8M176.9,264.5A78.4,78.4 0 0 1 184.2,245.5M120.9,285.2A132.1,132.1 0 0 1 122.3,263.8M105.1,275.3A148.1,148.1 0 0 1 107.2,257.5M89.1,290.7A164.1,164.1 0 0 1 90.0,263.8M77.7,272.2A175.6,175.6 0 0 1 78.5,263.4M206.3,277.0L188.9,274.0M207.1,267.1L178.9,257.5M189.1,283.7L131.6,283.2M163.1,281.8L148.0,279.7M151.7,264.5L123.7,256.4M133.4,285.7L105.3,289.1M138.5,251.8L96.9,238.4M141.9,238.0L114.9,230.0M120.2,285.4L91.1,286.4M122.8,269.7L107.2,268.1M128.4,237.6L98.1,227.0M107.1,279.5L91.9,276.1M114.2,235.6L98.0,233.2M122.1,218.1L107.3,212.9M95.2,249.3L80.8,248.6" stroke-width="2.5"/><path d="M189.4,270.3A64.9,64.9 0 0 1 191.9,261.2M149.3,284.8A103.7,103.7 0 0 1 150.9,265.0M83.1,236.6A176.1,176.1 0 0 1 87.2,223.8M96.7,200.4A176.8,176.8 0 0 1 97.8,198.4M243.4,279.8L233.0,276.3M191.8,260.2L181.0,256.4M181.2,256.1L153.6,248.6M162.5,269.6L150.1,267.4M164.6,258.4L137.1,250.5M168.0,249.7L140.0,238.1M135.8,266.0L92.6,256.4M126.6,248.6L82.8,239.9M108.5,255.6L78.8,245.4M91.9,264.8L79.3,263.7" stroke-width="1.0"/><path d="M116.9,226.5A147.4,147.4 0 0 1 123.6,212.4M217.7,282.7L205.4,283.6" stroke-width="3.0"/></g><path d="M238.56,273.64L62.37,185.41L72.28,166.53L85.91,147.70L101.50,130.44L114.34,118.03Z" fill="#f8e48a"/><path d="M238.56,273.64L62.37,185.41L72.28,166.53L85.91,147.70L101.50,130.44L114.34,118.03Z" fill="#000" filter="url(#spk4)"/><g clip-path="url(#ls4)" fill="none" stroke="#fbeeb3" stroke-linecap="butt" filter="url(#rough)"><path d="M225.3,270.1A30.6,30.6 0 0 1 234.8,258.5M215.8,239.3A57.4,57.4 0 0 1 218.8,236.9M207.1,225.5A73.5,73.5 0 0 1 209.2,224.0M146.3,160.2A162.7,162.7 0 0 1 156.0,152.4M127.5,154.7A179.5,179.5 0 0 1 138.6,144.8M144.8,140.8A178.7,178.7 0 0 1 146.5,139.6M241.3,277.1L203.1,257.2M198.9,235.1L189.5,227.3M196.1,219.5L179.1,201.9M173.5,209.0L153.2,189.7M154.5,212.1L138.4,204.6M124.1,210.5L96.1,196.2M129.2,199.5L108.0,180.1M139.1,189.1L111.8,170.6M120.2,191.1L105.3,178.6M144.3,162.9L133.2,150.4" stroke-width="2.5"/><path d="M213.0,263.4A44.5,44.5 0 0 1 221.3,251.7M193.4,220.1A86.6,86.6 0 0 1 201.4,213.5M159.7,203.6A122.6,122.6 0 0 1 179.9,184.6M144.5,197.4A138.3,138.3 0 0 1 154.0,186.5M133.7,194.4A148.6,148.6 0 0 1 149.7,176.3M156.3,170.5A148.3,148.3 0 0 1 164.6,163.9M105.3,213.2A163.4,163.4 0 0 1 120.4,187.6M103.7,184.1A179.1,179.1 0 0 1 122.6,160.2M221.6,254.9L209.1,244.1M182.4,235.8L172.3,229.0M167.9,235.3L158.3,231.5M174.8,227.6L162.7,220.8M147.4,223.5L133.0,217.9M133.2,218.2L110.5,207.4M109.1,210.2L95.9,199.9M128.7,179.4L117.4,167.8" stroke-width="2.0"/><path d="M174.4,246.0A86.8,86.8 0 0 1 190.7,222.5M165.5,239.4A97.8,97.8 0 0 1 173.9,225.5M156.4,183.8A138.5,138.5 0 0 1 161.8,178.9M192.3,207.1L185.2,200.2M142.6,201.3L122.2,185.1M114.6,201.7L98.1,194.0M136.7,170.0L126.7,154.0" stroke-width="1.0"/><path d="M194.0,203.8A98.8,98.8 0 0 1 194.1,203.7M155.4,234.9A108.8,108.8 0 0 1 164.6,219.6M168.5,216.1A107.8,107.8 0 0 1 188.8,196.5M126.9,224.7A138.9,138.9 0 0 1 139.3,203.2M167.5,175.8A137.1,137.1 0 0 1 171.2,172.9M119.4,214.8A150.0,150.0 0 0 1 128.9,198.6M125.2,181.8A163.0,163.0 0 0 1 143.0,162.7M230.3,264.3L207.2,246.5M215.9,263.6L178.2,244.3M183.6,215.9L166.9,198.3M158.3,230.9L109.1,207.2M164.3,221.8L150.2,213.3M152.7,189.4L137.4,170.2M162.7,181.1L154.1,168.5" stroke-width="1.5"/></g><path d="M246.31,267.64L122.00,111.92L135.78,102.76L153.81,92.25L172.76,83.53L190.65,77.93Z" fill="#9dc993"/><path d="M246.31,267.64L122.00,111.92L135.78,102.76L153.81,92.25L172.76,83.53L190.65,77.93Z" fill="#000" filter="url(#spk5)"/><g clip-path="url(#ls5)" fill="none" stroke="#c0deb6" stroke-linecap="butt" filter="url(#rough)"><path d="M246.5,275.2A10.2,10.2 0 0 1 250.5,273.1M223.4,245.0A48.2,48.2 0 0 1 241.1,236.3M197.3,216.5A86.7,86.7 0 0 1 219.9,202.8M186.9,164.7A135.5,135.5 0 0 1 208.0,155.1M232.5,254.1L201.3,212.4M223.7,217.0L217.4,205.4M215.3,207.6L202.9,183.8M224.2,204.0L218.4,193.4M188.3,195.2L173.7,172.1M178.6,185.8L147.0,146.7M191.0,176.3L171.4,145.7M214.4,166.0L207.6,144.2M207.9,157.8L190.6,119.2M188.0,152.1L171.0,127.4" stroke-width="2.0"/><path d="M236.9,263.1A25.6,25.6 0 0 1 246.6,258.2M217.3,237.3A58.0,58.0 0 0 1 238.6,226.8M186.4,136.7A160.7,160.7 0 0 1 205.4,129.5M241.9,260.4L225.9,230.2M212.9,223.9L207.4,212.0M188.8,166.5L175.1,140.9M198.0,161.3L183.9,122.6M164.3,149.8L157.2,138.0M186.4,138.6L180.1,125.9" stroke-width="1.0"/><path d="M207.6,225.4A73.4,73.4 0 0 1 221.4,216.7M228.6,201.7A84.9,84.9 0 0 1 232.0,200.8M220.2,193.0A95.8,95.8 0 0 1 229.3,190.2M185.3,196.5A109.9,109.9 0 0 1 207.9,182.8M198.4,147.4A146.2,146.2 0 0 1 216.8,141.4M154.3,155.1A161.6,161.6 0 0 1 179.0,139.4M145.6,146.9A173.4,173.4 0 0 1 156.4,139.0M228.7,241.8L205.2,199.3M214.8,182.5L210.5,165.8M170.7,178.2L144.3,149.0M197.0,148.4L191.2,133.7" stroke-width="2.5"/><path d="M210.0,181.4A110.4,110.4 0 0 1 225.6,176.1M175.4,187.5A123.1,123.1 0 0 1 200.2,171.8M168.8,177.3A135.1,135.1 0 0 1 184.1,166.8M163.3,168.4A145.5,145.5 0 0 1 191.6,151.1M163.3,133.7A174.1,174.1 0 0 1 170.8,129.5M206.4,212.6L197.1,202.1M193.6,206.9L161.7,166.0M206.5,198.9L191.4,176.5M217.3,194.9L205.2,169.5M200.8,187.9L191.3,175.2M162.8,168.0L145.6,146.4" stroke-width="1.5"/><path d="M207.5,168.5A123.3,123.3 0 0 1 222.5,163.6" stroke-width="3.0"/></g></g><text x="274.1" y="261.8" font-size="18" fill="#fff" font-weight="normal" font-style="normal" text-anchor="start" textLength="36.7" lengthAdjust="spacingAndGlyphs">44%</text><text x="235.5" y="331.8" font-size="18" fill="#fff" font-weight="normal" font-style="normal" text-anchor="start" textLength="36.0" lengthAdjust="spacingAndGlyphs">27%</text><text x="138.0" y="316.3" font-size="18" fill="#fff" font-weight="normal" font-style="normal" text-anchor="start" textLength="40.1" lengthAdjust="spacingAndGlyphs">8.7%</text><text x="134.3" y="272.4" font-size="18" fill="#fff" font-weight="normal" font-style="normal" text-anchor="start" textLength="38.8" lengthAdjust="spacingAndGlyphs">7.5%</text><text x="136.6" y="216.0" font-size="18" fill="#efa050" font-weight="normal" font-style="normal" text-anchor="start" textLength="42.2" lengthAdjust="spacingAndGlyphs" stroke="#efa050" stroke-width="0.3">6.7%</text><text x="184.6" y="180.0" font-size="18" fill="#3a9a50" font-weight="normal" font-style="normal" text-anchor="start" textLength="26.1" lengthAdjust="spacingAndGlyphs" stroke="#3a9a50" stroke-width="0.3">6%</text><text x="184.0" y="104.8" font-size="12.5" fill="#231f20" font-weight="normal" font-style="normal" text-anchor="start" textLength="37.0" lengthAdjust="spacingAndGlyphs" stroke="#231f20" stroke-width="0.35">Spruce</text><text x="63.7" y="109.8" font-size="12.5" fill="#231f20" font-weight="normal" font-style="normal" text-anchor="start" textLength="38.3" lengthAdjust="spacingAndGlyphs" stroke="#231f20" stroke-width="0.35">Linden/</text><text x="63.7" y="121.0" font-size="12.5" fill="#231f20" font-weight="normal" font-style="normal" text-anchor="start" textLength="52.3" lengthAdjust="spacingAndGlyphs" stroke="#231f20" stroke-width="0.35">Basswood</text><text x="41.9" y="208.1" font-size="12.5" fill="#231f20" font-weight="normal" font-style="normal" text-anchor="start" textLength="19.9" lengthAdjust="spacingAndGlyphs" stroke="#231f20" stroke-width="0.35">Oak</text><text x="38.7" y="304.1" font-size="12.5" fill="#231f20" font-weight="normal" font-style="normal" text-anchor="start" textLength="32.3" lengthAdjust="spacingAndGlyphs" stroke="#231f20" stroke-width="0.35">Honey</text><text x="38.7" y="314.9" font-size="12.5" fill="#231f20" font-weight="normal" font-style="normal" text-anchor="start" textLength="33.6" lengthAdjust="spacingAndGlyphs" stroke="#231f20" stroke-width="0.35">Locust</text><text x="120.8" y="433.4" font-size="12.5" fill="#231f20" font-weight="normal" font-style="normal" text-anchor="start" textLength="31.6" lengthAdjust="spacingAndGlyphs" stroke="#231f20" stroke-width="0.35">Maple</text><text x="441.3" y="119.6" font-size="12" fill="#231f20" font-weight="normal" font-style="normal" text-anchor="start" textLength="60.9" lengthAdjust="spacingAndGlyphs" stroke="#231f20" stroke-width="0.35">Other Trees</text><text x="434.9" y="338.1" font-size="9.9" fill="#231f20" font-weight="bold" font-style="normal" text-anchor="start" textLength="47.4" lengthAdjust="spacingAndGlyphs" stroke="#231f20" stroke-width="0.2">RARITIES</text><text x="434.9" y="352.1" font-size="11.8" fill="#231f20" textLength="213.3" lengthAdjust="spacingAndGlyphs" stroke="#231f20" stroke-width="0.3"><tspan font-style="italic">Only <tspan text-decoration="underline">one tree</tspan> of each of the following species</tspan></text><text x="434.9" y="366.0" font-size="11.8" fill="#231f20" textLength="175.0" lengthAdjust="spacingAndGlyphs" stroke="#231f20" stroke-width="0.3"><tspan font-style="italic">can be found in Toronto’s boulevards:</tspan></text><text x="434.9" y="379.9" font-size="11.8" fill="#231f20" textLength="212.3" lengthAdjust="spacingAndGlyphs" stroke="#231f20" stroke-width="0.3">Yellowbird Magnolia, Sour Cherry, Tatarian</text><text x="434.9" y="393.8" font-size="11.8" fill="#231f20" textLength="197.4" lengthAdjust="spacingAndGlyphs" stroke="#231f20" stroke-width="0.3">Garann Maple, Paul’s Scarlet Hawthorn,</text><text x="434.9" y="407.7" font-size="11.8" fill="#231f20" textLength="203.0" lengthAdjust="spacingAndGlyphs" stroke="#231f20" stroke-width="0.3">Bald Cypress, European Fern Leaf Beech,</text><text x="434.9" y="421.6" font-size="11.8" fill="#231f20" textLength="210.8" lengthAdjust="spacingAndGlyphs" stroke="#231f20" stroke-width="0.3">Red Redpointe Maple, Pignut Hickory, Red</text><text x="434.9" y="435.5" font-size="11.8" fill="#231f20" textLength="223.3" lengthAdjust="spacingAndGlyphs" stroke="#231f20" stroke-width="0.3">Brandywine Maple, Pawpaw, Grey Dogwood,</text><text x="434.9" y="449.4" font-size="11.8" fill="#231f20" textLength="209.2" lengthAdjust="spacingAndGlyphs" stroke="#231f20" stroke-width="0.3">Black Birch, Black Gold Fall Ash, European</text><text x="434.9" y="463.3" font-size="11.8" fill="#231f20" textLength="181.8" lengthAdjust="spacingAndGlyphs" stroke="#231f20" stroke-width="0.3">Young’s Birch, and Southern Catalpa</text><text x="788.0" y="72.6" font-size="11" fill="#a8d5ae" font-weight="bold" font-style="normal" text-anchor="middle" textLength="93.2" lengthAdjust="spacingAndGlyphs" stroke="#a8d5ae" stroke-width="0.3">Overall, only 39%</text><text x="788.0" y="84.0" font-size="11" fill="#a8d5ae" font-weight="bold" font-style="normal" text-anchor="middle" textLength="118.3" lengthAdjust="spacingAndGlyphs" stroke="#a8d5ae" stroke-width="0.3">of boulevard trees are</text><text x="788.0" y="95.1" font-size="11" fill="#a8d5ae" font-weight="bold" font-style="normal" text-anchor="middle" textLength="84.7" lengthAdjust="spacingAndGlyphs" stroke="#a8d5ae" stroke-width="0.3">native to region</text><path d="M623.30,148.90L665.27,113.05A55.20,55.20 0 1 1 581.33,113.05Z" fill="#dc6c65"/><g clip-path="url(#rp1a)" fill="none" stroke="#eea7a1" opacity="0.8"><path d="M623.3,142.9L623.3,103.9M624.8,137.0L628.9,104.3M628.2,129.5L638.9,86.6M623.3,148.9L636.5,117.9M623.3,148.9L653.2,92.1M634.8,132.5L660.2,96.3M623.3,148.9L668.5,103.3M623.3,148.9L649.2,127.3M623.3,148.9L676.4,112.8M623.3,148.9L653.3,133.6M623.3,148.9L683.8,127.5M629.2,147.6L667.2,139.1M623.3,148.9L656.8,145.2M623.3,148.9L687.4,152.8M635.1,151.2L686.3,161.4M628.9,151.0L683.5,171.3M623.3,148.9L681.1,176.8M633.5,155.2L661.5,172.6M627.8,152.9L671.6,191.2M623.3,148.9L651.6,183.8M623.3,148.9L645.5,188.0M623.3,148.9L650.2,207.2M629.5,167.9L637.2,191.7M625.0,160.8L632.4,212.5M623.3,148.9L625.7,182.5M623.3,148.9L620.9,193.8M623.3,148.9L615.2,193.1M617.0,167.9L609.0,191.5M618.6,160.0L610.2,180.0M623.3,148.9L589.1,203.2M623.3,148.9L595.4,184.2M623.3,148.9L578.9,195.2M623.3,148.9L597.0,170.0M623.3,148.9L570.2,184.9M623.3,148.9L583.2,169.3M623.3,148.9L592.1,161.7M623.3,148.9L561.5,166.2M611.4,150.2L578.6,153.7M623.3,148.9L589.6,146.8M623.3,148.9L590.3,142.2M612.0,144.9L562.7,127.7M623.3,148.9L564.5,123.0M618.0,146.0L583.8,127.4M618.3,145.6L585.9,123.9M623.3,148.9L574.4,107.4M615.5,139.8L581.4,100.3M619.8,144.0L585.6,96.9M623.3,148.9L602.4,109.1M623.3,148.9L610.8,117.6M623.3,148.9L605.4,87.2M623.3,148.9L616.3,85.1M623.3,145.2A3.7,3.7 0 0 1 624.6,145.5M625.4,145.0A4.4,4.4 0 0 1 626.4,145.8M626.4,146.8A3.7,3.7 0 0 1 627.0,149.4M627.3,149.9A4.1,4.1 0 0 1 626.3,151.7M625.8,151.5A3.7,3.7 0 0 1 624.0,152.5M620.5,152.3A4.4,4.4 0 0 1 619.0,149.9M619.8,147.8A3.7,3.7 0 0 1 621.7,145.6M622.1,145.2A3.9,3.9 0 0 1 623.3,145.0M623.3,139.6A9.3,9.3 0 0 1 626.6,140.2M628.0,141.2A9.1,9.1 0 0 1 631.4,144.7M632.2,146.1A9.3,9.3 0 0 1 632.6,148.9M632.0,149.7A8.8,8.8 0 0 1 631.5,151.9M624.5,157.9A9.1,9.1 0 0 1 620.3,157.4M614.7,151.1A8.9,8.9 0 0 1 615.4,144.9M615.2,144.1A9.4,9.4 0 0 1 619.7,140.2M623.3,134.9A14.0,14.0 0 0 1 633.1,138.8M631.2,160.7A14.2,14.2 0 0 1 621.7,163.0M621.2,162.6A13.9,13.9 0 0 1 613.5,158.7M609.4,151.4A14.1,14.1 0 0 1 610.0,144.2M611.0,141.7A14.2,14.2 0 0 1 616.2,136.6M616.8,136.6A13.9,13.9 0 0 1 623.3,135.0M623.3,130.7A18.2,18.2 0 0 1 636.1,135.9M632.2,164.9A18.3,18.3 0 0 1 626.0,167.0M623.2,167.5A18.6,18.6 0 0 1 613.4,164.6M611.6,163.0A18.3,18.3 0 0 1 607.8,158.6M606.8,156.1A18.0,18.0 0 0 1 605.7,152.4M605.0,151.3A18.5,18.5 0 0 1 609.6,136.4M610.9,135.2A18.5,18.5 0 0 1 621.7,130.5M623.0,130.9A18.0,18.0 0 0 1 623.3,130.9M635.2,130.8A21.6,21.6 0 0 1 639.1,134.1M640.0,135.5A21.4,21.4 0 0 1 644.4,152.1M644.9,153.4A22.0,22.0 0 0 1 639.0,164.3M637.8,164.6A21.4,21.4 0 0 1 624.9,170.2M623.7,170.7A21.8,21.8 0 0 1 608.0,164.5M606.4,162.7A21.8,21.8 0 0 1 602.6,155.7M603.0,140.3A22.0,22.0 0 0 1 616.4,128.0M617.9,127.5A22.0,22.0 0 0 1 623.3,126.9M623.3,122.6A26.3,26.3 0 0 1 640.9,129.4M643.5,132.8A25.8,25.8 0 0 1 649.0,146.2M649.6,151.6A26.4,26.4 0 0 1 641.7,167.9M640.3,168.7A26.1,26.1 0 0 1 633.3,173.0M611.5,172.1A26.0,26.0 0 0 1 598.7,157.2M598.0,154.9A26.0,26.0 0 0 1 597.4,146.9M598.1,143.4A25.8,25.8 0 0 1 606.5,129.3M623.3,119.0A29.9,29.9 0 0 1 645.5,128.8M645.7,130.0A29.3,29.3 0 0 1 650.6,138.4M652.2,142.2A29.6,29.6 0 0 1 649.1,163.6M632.2,177.0A29.5,29.5 0 0 1 609.4,174.9M594.9,156.0A29.3,29.3 0 0 1 599.4,132.1M601.2,129.6A29.3,29.3 0 0 1 607.6,124.2M610.3,122.7A29.2,29.2 0 0 1 623.3,119.7M623.3,115.8A33.1,33.1 0 0 1 643.3,122.5M647.3,125.8A33.2,33.2 0 0 1 656.4,152.3M655.7,154.5A32.9,32.9 0 0 1 652.1,164.8M649.6,169.3A33.3,33.3 0 0 1 638.9,178.3M637.5,178.7A33.0,33.0 0 0 1 611.0,179.5M607.2,177.2A32.6,32.6 0 0 1 591.4,155.6M590.2,152.5A33.3,33.3 0 0 1 598.3,126.9M600.9,124.8A32.9,32.9 0 0 1 621.5,116.0M623.3,111.0A37.9,37.9 0 0 1 635.1,112.8M641.0,115.9A37.5,37.5 0 0 1 659.5,139.4M660.6,141.9A37.9,37.9 0 0 1 660.9,154.0M659.5,157.9A37.3,37.3 0 0 1 650.2,174.7M645.5,179.1A37.5,37.5 0 0 1 628.9,185.9M621.3,186.6A37.8,37.8 0 0 1 603.5,181.1M598.0,176.7A37.6,37.6 0 0 1 586.2,154.9M585.4,150.4A37.9,37.9 0 0 1 592.1,127.4M594.1,124.7A37.9,37.9 0 0 1 610.4,113.2M614.6,112.5A37.4,37.4 0 0 1 623.3,111.5M623.3,107.1A41.8,41.8 0 0 1 643.9,112.5M647.5,114.5A42.0,42.0 0 0 1 656.8,123.5M644.2,185.6A42.2,42.2 0 0 1 627.0,191.0M621.3,191.1A42.2,42.2 0 0 1 599.4,183.7M593.4,178.9A42.3,42.3 0 0 1 584.7,166.2M583.6,163.9A42.5,42.5 0 0 1 586.2,128.1M588.6,125.2A42.1,42.1 0 0 1 603.7,111.7M608.4,109.7A42.0,42.0 0 0 1 622.5,107.0M623.3,102.9A46.0,46.0 0 0 1 653.0,113.8M668.0,155.9A45.3,45.3 0 0 1 654.1,182.1M648.2,186.9A45.4,45.4 0 0 1 636.9,192.2M634.9,193.3A45.9,45.9 0 0 1 599.9,188.4M581.1,166.3A45.7,45.7 0 0 1 577.7,151.1M577.8,147.7A45.5,45.5 0 0 1 581.6,130.7M584.7,124.0A45.9,45.9 0 0 1 609.4,105.2M613.2,104.1A45.9,45.9 0 0 1 623.3,103.0M623.3,98.6A50.3,50.3 0 0 1 659.9,114.4M665.5,122.4A49.8,49.8 0 0 1 671.2,162.7M670.3,166.1A50.0,50.0 0 0 1 646.7,193.1M637.7,197.0A50.2,50.2 0 0 1 625.6,199.0M621.9,199.3A50.4,50.4 0 0 1 603.4,195.2M595.0,190.8A50.6,50.6 0 0 1 584.4,181.2M582.6,178.0A50.1,50.1 0 0 1 573.9,140.6M575.0,136.1A49.9,49.9 0 0 1 585.7,116.0M592.9,109.0A50.2,50.2 0 0 1 614.6,99.5M623.3,94.0A54.9,54.9 0 0 1 638.4,96.1M676.2,132.8A55.3,55.3 0 0 1 678.6,147.7M678.5,150.9A55.3,55.3 0 0 1 669.5,179.3M662.9,186.7A54.7,54.7 0 0 1 651.3,195.9M646.4,199.0A55.1,55.1 0 0 1 623.2,204.0M616.0,203.3A54.9,54.9 0 0 1 603.2,200.0M568.8,154.8A54.8,54.8 0 0 1 570.3,134.7M572.8,126.5A55.3,55.3 0 0 1 578.7,116.3M584.6,110.1A54.8,54.8 0 0 1 623.3,94.1M623.3,90.5A58.4,58.4 0 0 1 665.9,108.9M680.1,163.4A58.6,58.6 0 0 1 672.0,181.5M670.3,183.2A58.2,58.2 0 0 1 659.2,194.8M651.3,200.2A58.5,58.5 0 0 1 629.1,207.1M622.9,207.8A58.9,58.9 0 0 1 593.4,199.7M591.2,198.1A58.7,58.7 0 0 1 571.3,176.2M568.7,169.9A58.5,58.5 0 0 1 565.0,143.4M565.7,140.9A58.2,58.2 0 0 1 587.4,103.1M590.0,100.7A58.6,58.6 0 0 1 623.3,90.3M623.3,85.5A63.4,63.4 0 0 1 669.4,105.4M682.6,126.0A63.6,63.6 0 0 1 682.3,172.5M680.9,176.0A63.6,63.6 0 0 1 665.4,196.7M660.8,200.0A63.4,63.4 0 0 1 625.5,212.2M613.5,211.7A63.6,63.6 0 0 1 589.4,202.7M584.9,199.4A63.4,63.4 0 0 1 566.5,177.1M563.3,170.5A63.8,63.8 0 0 1 564.2,125.0M569.6,114.5A63.7,63.7 0 0 1 587.8,96.0M594.5,92.5A63.4,63.4 0 0 1 623.3,85.5" stroke-width="0.8"/><path d="M626.8,146.9L631.2,144.5M625.4,152.3L628.0,156.6M622.6,152.8L621.7,157.8M619.6,150.3L614.9,152.1M619.8,147.0L615.3,144.7M623.1,144.9L622.8,139.9M623.8,139.9L624.1,135.0M628.8,141.8L631.8,137.9M631.3,144.7L635.6,142.4M621.9,140.0L621.2,135.2M637.2,148.9L641.5,148.9M615.5,160.4L613.1,164.0M609.5,150.8L605.3,151.4M623.5,130.7L623.6,127.2M629.0,131.6L630.1,128.3M633.9,134.1L635.9,131.2M639.6,140.9L642.8,139.3M641.5,147.7L645.0,147.4M640.9,153.4L644.3,154.3M633.7,163.9L635.6,166.8M620.7,166.9L620.2,170.4M606.0,154.6L602.7,155.7M605.3,146.3L601.8,145.8M607.7,139.4L604.7,137.6M617.3,131.7L616.1,128.4M624.9,127.2L625.2,122.8M641.1,136.5L644.8,134.0M644.2,142.9L648.4,141.6M645.0,149.1L649.5,149.2M644.2,154.7L648.5,155.9M642.4,159.3L646.3,161.5M616.8,169.6L615.4,173.9M611.1,166.9L608.6,170.5M605.2,160.9L601.5,163.4M602.7,155.7L598.4,157.1M601.6,148.7L597.1,148.7M602.1,144.1L597.8,143.1M603.8,139.2L599.9,137.3M615.9,128.5L614.4,124.3M629.6,123.5L630.4,120.3M635.2,125.6L636.8,122.6M639.6,128.4L641.6,125.8M646.0,162.0L648.9,163.6M639.6,169.4L641.7,172.0M628.0,174.7L628.6,177.9M608.3,170.3L606.3,173.0M598.3,156.6L595.1,157.6M597.2,151.1L593.9,151.4M597.6,143.9L594.3,143.3M605.8,129.5L603.5,127.0M610.2,126.2L608.5,123.3M629.6,120.1L630.3,116.8M637.6,123.1L639.2,120.1M643.4,127.3L645.7,124.8M646.6,130.8L649.3,128.8M650.8,138.2L654.0,137.0M652.8,150.0L656.2,150.1M633.6,176.5L634.8,179.7M628.8,177.9L629.4,181.2M624.1,178.4L624.2,181.8M597.3,162.8L594.3,164.4M594.9,140.9L591.6,140.0M607.6,123.9L605.8,121.0M623.9,116.0L624.0,111.3M641.7,121.7L644.4,117.7M647.6,126.7L651.1,123.5M654.8,139.6L659.4,138.2M656.1,146.7L660.8,146.4M653.1,162.9L657.3,164.9M641.1,176.6L643.7,180.5M624.9,181.7L625.2,186.5M620.0,181.6L619.5,186.3M597.6,169.4L593.9,172.4M592.7,161.0L588.3,162.8M591.3,156.3L586.6,157.3M593.3,135.5L588.9,133.6M598.2,127.6L594.6,124.6M605.3,121.4L602.7,117.4M618.0,116.4L617.2,111.8M626.1,111.4L626.4,106.9M632.7,112.5L633.9,108.1M638.5,114.5L640.3,110.3M643.3,117.0L645.7,113.2M649.8,122.2L653.0,119.0M653.6,126.5L657.2,123.8M657.2,132.5L661.3,130.6M660.9,149.1L665.5,149.1M657.7,164.1L661.8,166.0M646.7,178.3L649.6,181.9M640.5,182.4L642.6,186.4M636.0,184.3L637.5,188.6M630.8,185.8L631.7,190.2M620.8,186.4L620.5,191.0M614.2,185.4L613.1,189.8M600.8,179.1L598.1,182.7M594.6,173.3L591.2,176.2M587.1,159.0L582.7,160.2M589.8,131.8L585.7,129.8M594.3,124.9L590.9,122.0M606.4,115.3L604.4,111.2M625.4,106.8L625.5,103.3M631.0,107.4L631.6,104.0M648.5,115.1L650.5,112.3M655.7,121.9L658.3,119.7M662.5,133.3L665.7,132.0M664.0,138.0L667.3,137.1M665.3,144.7L668.7,144.3M665.5,149.8L668.9,149.9M664.6,157.6L667.9,158.4M663.3,162.4L666.5,163.5M660.3,169.2L663.3,170.9M655.9,175.6L658.6,177.8M650.7,180.9L652.9,183.6M646.5,184.1L648.3,187.0M639.7,187.7L641.1,190.9M618.5,190.8L618.2,194.2M593.1,178.3L590.6,180.7M589.9,174.6L587.2,176.8M587.0,170.4L584.0,172.1M581.4,153.4L577.9,153.7M581.8,141.5L578.4,140.8M583.2,135.9L579.9,134.9M594.3,118.3L591.9,115.8M620.9,106.8L620.7,103.4M623.9,103.3L623.9,98.7M639.6,106.3L641.2,102.0M652.1,113.5L655.0,110.0M661.5,123.9L665.3,121.4M668.2,141.1L672.8,140.3M668.6,154.0L673.2,154.5M666.5,163.7L670.8,165.2M661.2,174.3L665.0,176.9M629.4,194.1L630.0,198.7M620.2,194.4L619.9,199.0M600.1,188.2L597.8,192.2M591.6,181.7L588.4,185.0M583.2,170.7L579.2,172.9M579.5,161.7L575.1,163.0M578.0,154.2L573.4,154.8M577.9,145.0L573.3,144.6M580.0,134.6L575.6,133.2M583.7,126.2L579.7,123.9M606.2,106.6L604.4,102.4M614.4,104.2L613.5,99.7M620.1,103.4L619.8,98.8M624.2,98.7L624.3,93.9M631.8,99.4L632.6,94.6M638.8,101.1L640.3,96.5M647.2,104.7L649.5,100.5M651.6,107.4L654.3,103.4M655.6,110.5L658.7,106.8M661.6,116.5L665.3,113.3M665.2,121.2L669.2,118.5M669.4,128.9L673.8,127.0M671.1,133.5L675.7,132.0M673.5,146.8L678.3,146.6M673.3,153.1L678.2,153.5M667.6,172.5L671.9,174.8M662.0,180.9L665.7,184.0M650.5,191.1L653.1,195.2M642.2,195.4L644.1,199.9M637.3,197.1L638.7,201.8M629.9,198.7L630.5,203.5M606.8,196.3L605.2,200.9M601.6,194.2L599.5,198.6M573.6,156.3L568.8,157.0M573.1,147.3L568.3,147.1M574.0,139.5L569.2,138.6M575.4,134.0L570.7,132.5M577.3,128.9L572.8,126.9M579.7,124.1L575.4,121.7M586.1,115.2L582.5,111.9M591.8,109.8L588.7,106.1M612.7,99.8L611.7,95.1M625.8,93.9L625.9,90.4M635.8,95.3L636.6,91.9M641.3,96.9L642.4,93.5M647.1,99.3L648.6,96.1M654.3,103.4L656.3,100.5M664.9,112.8L667.5,110.5M669.0,118.1L671.9,116.2M672.2,123.6L675.3,122.0M674.5,128.7L677.8,127.4M676.9,136.5L680.4,135.7M677.9,141.8L681.4,141.4M678.4,149.0L681.9,149.0M676.2,164.1L679.6,165.0M671.5,175.4L674.6,177.1M666.4,183.2L669.1,185.4M636.8,202.3L637.7,205.7M631.7,203.3L632.2,206.8M622.1,203.9L622.0,207.5M605.5,201.0L604.4,204.3M596.0,196.7L594.3,199.8M572.6,170.3L569.3,171.6M570.1,162.9L566.6,163.8M568.6,154.9L565.1,155.3M581.7,112.9L579.0,110.6M594.3,102.1L592.4,99.1M602.1,98.1L600.8,94.8M610.8,95.3L610.0,91.9M620.4,93.9L620.3,90.4M625.0,90.3L625.1,85.2M641.4,93.2L642.9,88.3M657.1,101.1L660.1,96.9M670.5,114.2L674.7,111.1M674.0,119.5L678.5,117.0M678.1,128.2L682.9,126.4M681.9,147.7L687.0,147.6M669.4,185.1L673.4,188.2M664.3,190.7L668.0,194.4M658.1,196.0L661.1,200.2M652.2,199.9L654.7,204.4M647.3,202.3L649.4,207.0M633.7,206.5L634.6,211.6M617.6,207.2L617.1,212.3M610.2,206.0L609.0,211.0M600.4,202.8L598.4,207.6M583.8,192.1L580.3,196.0M573.1,179.0L568.6,181.7M566.8,164.3L561.8,165.7M564.8,151.1L559.6,151.3M565.9,137.1L560.9,136.0M575.5,115.1L571.2,112.1M578.4,111.3L574.4,108.0M581.8,107.6L578.1,104.0M588.6,101.7L585.5,97.6M593.9,98.2L591.3,93.8M603.2,93.9L601.4,89.0M609.0,92.1L607.8,87.1M616.7,90.7L616.1,85.6" stroke-width="0.7"/></g><path d="M623.30,147.30L581.33,111.45A55.20,55.20 0 0 1 665.27,111.45Z" fill="#eda0a0"/><g clip-path="url(#rp1b)" fill="none" stroke="#f6c8c6" opacity="0.8"><path d="M618.4,143.8L571.0,110.0M623.3,147.3L577.4,102.4M615.8,138.0L602.2,121.0M623.3,147.3L605.3,118.8M620.9,141.8L609.8,116.4M623.3,147.3L607.6,85.0M623.3,147.3L618.0,83.3M623.3,147.3L623.0,102.3M626.5,127.6L628.6,114.0M628.8,128.1L632.6,114.9M623.3,147.3L646.7,87.5M623.3,147.3L652.8,90.3M623.3,147.3L649.7,110.9M627.3,142.8L665.7,99.1M637.5,133.3L669.0,102.2M623.3,147.3L674.4,108.4M621.6,143.3A4.4,4.4 0 0 1 624.2,143.0M624.6,143.8A3.7,3.7 0 0 1 626.3,145.1M617.7,143.3A6.8,6.8 0 0 1 620.8,140.9M621.2,140.7A6.9,6.9 0 0 1 626.7,141.3M627.9,142.0A7.0,7.0 0 0 1 629.0,143.2M614.7,141.2A10.6,10.6 0 0 1 621.0,137.0M622.0,136.9A10.5,10.5 0 0 1 624.5,136.8M625.7,137.4A10.2,10.2 0 0 1 631.6,141.4M610.6,138.2A15.7,15.7 0 0 1 619.0,132.2M619.7,132.0A15.7,15.7 0 0 1 627.7,132.2M629.8,133.7A15.1,15.1 0 0 1 635.6,138.5M612.8,129.9A20.3,20.3 0 0 1 621.4,127.1M625.4,127.0A20.4,20.4 0 0 1 637.1,132.2M638.6,134.2A20.1,20.1 0 0 1 639.7,135.6M603.4,133.1A24.4,24.4 0 0 1 609.6,127.1M627.3,123.2A24.4,24.4 0 0 1 639.3,128.9M599.8,130.5A28.9,28.9 0 0 1 609.1,122.1M611.8,120.6A29.0,29.0 0 0 1 634.4,120.5M638.0,122.0A29.2,29.2 0 0 1 647.1,130.3M596.0,127.9A33.5,33.5 0 0 1 604.0,120.0M608.7,117.4A33.3,33.3 0 0 1 629.8,114.6M592.1,125.1A38.3,38.3 0 0 1 597.7,118.8M598.9,117.4A38.6,38.6 0 0 1 615.7,109.5M617.6,109.8A38.0,38.0 0 0 1 638.0,112.3M644.4,115.7A38.0,38.0 0 0 1 654.3,125.2M589.0,122.8A42.2,42.2 0 0 1 604.4,109.6M609.6,107.7A41.9,41.9 0 0 1 643.8,110.7M644.8,111.8A41.5,41.5 0 0 1 657.1,123.2M586.6,121.1A45.1,45.1 0 0 1 600.0,108.7M601.6,107.9A45.0,45.0 0 0 1 613.5,103.4M615.6,102.5A45.5,45.5 0 0 1 639.2,104.7M640.9,105.7A45.1,45.1 0 0 1 653.4,113.7M659.5,120.4A45.1,45.1 0 0 1 660.0,121.1M582.3,118.1A50.3,50.3 0 0 1 609.7,98.8M615.2,97.4A50.6,50.6 0 0 1 642.9,100.6M619.0,92.9A54.6,54.6 0 0 1 643.7,96.7M650.7,100.1A54.5,54.5 0 0 1 660.3,107.3M664.4,110.6A55.1,55.1 0 0 1 668.2,115.3M574.1,112.2A60.4,60.4 0 0 1 616.5,87.2M659.1,98.6A60.4,60.4 0 0 1 672.5,112.2M571.6,110.4A63.5,63.5 0 0 1 598.9,88.7" stroke-width="0.8"/><path d="M620.1,144.9L617.7,143.0M622.9,143.3L622.6,140.2M626.3,144.7L628.7,142.7M615.0,141.1L610.9,138.0M628.3,138.3L630.8,133.8M624.9,131.9L625.4,127.2M631.5,134.2L634.0,130.1M622.1,127.1L621.9,123.1M627.1,127.5L627.9,123.5M631.6,128.9L633.2,125.2M639.0,134.6L642.1,132.1M604.2,132.5L600.5,129.7M609.7,127.3L607.1,123.4M623.9,123.1L624.0,118.5M632.0,124.7L633.6,120.4M638.1,128.2L640.9,124.5M641.4,131.2L644.8,128.1M619.3,118.8L618.6,114.3M628.3,118.9L629.1,114.5M633.9,120.5L635.5,116.3M640.2,123.9L642.8,120.3M597.8,125.8L594.1,122.6M603.1,120.8L600.1,116.9M610.7,116.5L608.8,111.9M620.7,114.1L620.3,109.2M633.1,115.5L634.6,110.7M641.2,119.2L643.9,115.0M648.5,125.5L652.3,122.3M612.0,110.7L611.0,107.4M619.2,109.3L618.8,105.7M624.5,109.1L624.6,105.5M633.1,110.3L634.0,106.9M638.2,112.1L639.5,108.8M649.7,119.6L652.1,117.0M591.5,120.2L589.0,118.1M595.7,115.9L593.6,113.4M602.4,111.1L600.7,108.3M616.6,106.0L616.1,102.8M629.9,106.0L630.4,102.8M654.7,119.7L657.1,117.5M588.5,118.6L584.3,115.1M622.7,102.2L622.7,96.8M628.7,102.5L629.3,97.1M637.3,104.4L639.0,99.3M642.3,106.4L644.6,101.5M647.7,109.4L650.7,104.8M584.4,115.1L581.1,112.4M589.4,109.8L586.5,106.7M603.2,101.0L601.5,97.0M611.4,98.2L610.4,94.0M625.2,96.8L625.4,92.5M650.2,104.5L652.4,100.9M658.0,110.5L660.9,107.4M662.2,115.1L665.5,112.4M580.2,113.5L576.0,110.1M600.2,97.6L597.9,92.7M604.7,95.8L602.8,90.7M612.1,93.7L611.0,88.4M619.7,92.6L619.4,87.3M634.4,93.6L635.5,88.4M642.5,96.0L644.4,90.9M590.1,97.1L588.4,94.4M598.2,92.6L596.9,89.7M605.5,89.8L604.6,86.7M614.2,87.8L613.7,84.7M639.0,89.2L639.9,86.1M646.4,91.7L647.6,88.8M654.9,96.1L656.6,93.3M660.1,99.7L662.1,97.2M666.5,105.4L668.8,103.1" stroke-width="0.7"/></g><path d="M623.30,148.90L665.27,113.05A55.20,55.20 0 1 1 581.33,113.05Z" fill="none" stroke="#fff" stroke-width="2.0"/><path d="M623.30,147.30L581.33,111.45A55.20,55.20 0 0 1 665.27,111.45Z" fill="none" stroke="#fff" stroke-width="2.0"/><circle cx="921.45" cy="146.9" r="56.1" fill="#9fcb93"/><g clip-path="url(#hlclip)" fill="none" stroke="#c6e2bf" opacity="0.8"><path d="M923.0,132.2L923.0,74.2M923.9,138.3L933.2,74.9M927.8,124.8L939.9,76.3M923.0,144.2L935.6,109.2M923.0,144.2L953.3,81.1M934.1,127.6L961.9,86.0M926.8,139.5L966.9,89.7M931.4,135.6L957.7,108.8M932.5,136.9L978.6,101.6M933.5,138.4L984.3,110.3M941.5,136.6L957.4,130.0M923.0,144.2L958.9,134.4M923.0,144.2L992.1,133.1M935.0,143.7L993.0,141.6M923.0,144.2L960.1,147.3M942.5,148.5L959.3,152.2M923.0,144.2L987.8,170.8M923.0,144.2L966.3,168.3M923.0,144.2L954.1,164.7M923.0,144.2L950.2,169.6M930.9,153.2L969.1,196.8M923.0,144.2L944.3,174.7M923.0,144.2L941.7,176.3M925.6,149.6L944.1,189.1M926.6,155.6L944.3,210.9M923.0,144.2L934.7,213.2M923.3,150.2L926.7,214.1M923.0,144.2L921.4,193.8M920.0,164.0L912.5,213.4M917.8,163.5L904.7,211.8M923.0,144.2L896.8,209.1M923.0,144.2L886.7,204.0M911.2,160.3L881.7,200.7M923.0,144.2L888.1,179.4M907.9,157.3L885.6,176.8M923.0,144.2L881.1,170.7M905.4,153.7L861.4,177.4M911.6,148.0L875.9,159.8M923.0,144.2L854.6,158.9M917.0,144.5L873.5,147.0M923.0,144.2L886.0,140.6M917.2,142.8L874.7,133.0M923.0,144.2L888.5,130.3M923.0,144.2L889.9,127.2M906.2,133.4L881.3,117.3M908.0,131.0L870.4,98.0M910.4,128.7L899.5,115.4M923.0,144.2L895.2,103.1M923.0,144.2L890.2,82.4M923.0,144.2L911.5,108.8M923.0,144.2L915.8,95.1M923.0,140.3A3.9,3.9 0 0 1 923.8,140.4M924.6,140.4A4.2,4.2 0 0 1 925.7,141.0M925.9,141.7A3.9,3.9 0 0 1 926.6,142.8M926.6,146.3A4.1,4.1 0 0 1 924.8,147.9M924.1,148.2A4.2,4.2 0 0 1 923.2,148.4M919.7,146.2A3.8,3.8 0 0 1 919.2,144.0M919.3,143.6A3.8,3.8 0 0 1 920.9,141.0M921.2,140.7A4.0,4.0 0 0 1 923.0,140.2M923.0,136.4A7.8,7.8 0 0 1 927.2,137.7M930.4,142.9A7.5,7.5 0 0 1 929.3,148.2M924.2,151.8A7.7,7.7 0 0 1 922.4,151.9M921.4,151.3A7.2,7.2 0 0 1 918.6,150.0M917.3,149.4A7.7,7.7 0 0 1 915.3,143.9M915.9,143.6A7.1,7.1 0 0 1 916.6,141.1M916.3,140.6A7.6,7.6 0 0 1 918.0,138.5M918.6,137.7A7.8,7.8 0 0 1 922.0,136.4M922.6,136.4A7.8,7.8 0 0 1 923.0,136.4M923.0,133.5A10.7,10.7 0 0 1 929.5,135.7M931.3,136.5A11.4,11.4 0 0 1 934.1,142.0M930.9,151.9A11.0,11.0 0 0 1 923.8,155.2M922.5,155.6A11.4,11.4 0 0 1 915.3,152.6M914.6,150.8A10.6,10.6 0 0 1 912.4,144.1M911.6,143.6A11.4,11.4 0 0 1 914.6,136.5M916.7,135.5A10.8,10.8 0 0 1 919.9,133.9M921.3,133.4A10.9,10.9 0 0 1 923.0,133.3M923.0,128.6A15.6,15.6 0 0 1 930.4,130.4M932.1,131.5A15.6,15.6 0 0 1 936.7,136.7M937.6,137.4A16.1,16.1 0 0 1 938.3,149.3M936.6,151.5A15.5,15.5 0 0 1 927.7,158.9M926.7,159.3A15.5,15.5 0 0 1 922.4,159.7M921.0,159.7A15.6,15.6 0 0 1 910.6,153.8M910.0,153.3A15.9,15.9 0 0 1 908.1,149.7M907.7,147.7A15.7,15.7 0 0 1 907.6,141.4M907.9,140.6A15.6,15.6 0 0 1 914.6,131.1M915.7,130.4A15.6,15.6 0 0 1 920.3,128.8M938.5,133.0A19.1,19.1 0 0 1 941.7,140.3M942.1,144.2A19.1,19.1 0 0 1 935.9,158.2M933.7,159.5A18.6,18.6 0 0 1 923.9,162.8M920.4,163.1A19.1,19.1 0 0 1 907.5,155.4M906.5,152.4A18.5,18.5 0 0 1 904.8,141.0M905.0,138.3A18.9,18.9 0 0 1 908.4,132.2M923.0,120.0A24.2,24.2 0 0 1 941.0,127.9M943.0,131.2A23.9,23.9 0 0 1 946.7,147.0M946.0,151.0A24.0,24.0 0 0 1 938.9,162.2M936.5,164.1A24.0,24.0 0 0 1 923.1,168.2M920.5,168.3A24.2,24.2 0 0 1 903.2,158.1M901.6,155.6A24.3,24.3 0 0 1 898.8,146.4M938.5,119.7A29.1,29.1 0 0 1 949.9,133.1M947.9,157.8A28.4,28.4 0 0 1 934.8,170.1M930.7,171.6A28.5,28.5 0 0 1 909.3,169.2M904.9,166.7A28.8,28.8 0 0 1 899.6,161.1M898.7,159.8A28.8,28.8 0 0 1 894.8,150.5M894.7,149.1A28.7,28.7 0 0 1 900.2,126.9M915.2,116.5A28.8,28.8 0 0 1 923.0,115.4M956.5,140.7A33.7,33.7 0 0 1 950.0,164.3M889.5,145.1A33.5,33.5 0 0 1 894.4,126.7M898.2,121.8A33.4,33.4 0 0 1 904.0,116.8M905.1,115.7A33.7,33.7 0 0 1 913.5,111.9M920.1,110.5A33.8,33.8 0 0 1 923.0,110.4M923.0,107.5A36.7,36.7 0 0 1 942.3,113.0M956.5,129.1A36.7,36.7 0 0 1 959.1,150.8M957.7,156.3A36.8,36.8 0 0 1 952.6,166.0M948.5,170.6A36.7,36.7 0 0 1 939.9,176.8M938.1,177.5A36.6,36.6 0 0 1 908.1,177.6M897.5,117.3A37.1,37.1 0 0 1 912.1,108.7M923.0,103.3A40.9,40.9 0 0 1 940.4,107.2M947.8,111.1A41.4,41.4 0 0 1 958.9,123.7M964.4,147.4A41.5,41.5 0 0 1 956.4,168.9M954.1,171.8A41.6,41.6 0 0 1 925.6,185.7M919.7,185.3A41.2,41.2 0 0 1 901.1,179.1M882.2,148.7A41.0,41.0 0 0 1 891.7,117.7M939.6,101.7A45.6,45.6 0 0 1 948.4,106.3M950.1,107.7A45.5,45.5 0 0 1 965.1,127.0M967.8,136.0A45.5,45.5 0 0 1 960.2,170.5M955.4,176.2A45.5,45.5 0 0 1 927.9,189.5M922.7,189.9A45.7,45.7 0 0 1 909.9,188.0M880.6,160.0A45.3,45.3 0 0 1 879.8,130.6M882.6,124.4A45.0,45.0 0 0 1 898.7,106.3M923.0,94.6A49.6,49.6 0 0 1 943.7,99.1M950.6,103.2A49.4,49.4 0 0 1 961.7,113.5M966.7,120.2A49.9,49.9 0 0 1 972.8,146.7M957.1,180.7A50.0,50.0 0 0 1 923.2,194.2M883.9,175.3A49.9,49.9 0 0 1 873.7,136.5M875.8,128.9A49.6,49.6 0 0 1 888.1,108.9M895.2,102.7A49.9,49.9 0 0 1 917.2,94.6M920.1,94.2A50.1,50.1 0 0 1 923.0,94.1M923.0,90.8A53.4,53.4 0 0 1 944.9,95.5M951.2,99.2A53.1,53.1 0 0 1 973.1,126.7M975.2,135.3A53.0,53.0 0 0 1 970.8,167.0M969.0,170.1A52.8,52.8 0 0 1 948.9,190.2M946.8,191.6A53.0,53.0 0 0 1 921.8,197.2M919.1,197.0A53.0,53.0 0 0 1 881.8,177.5M874.2,124.0A52.9,52.9 0 0 1 888.0,104.6M923.0,86.7A57.5,57.5 0 0 1 955.2,96.5M962.3,103.0A56.9,56.9 0 0 1 979.9,144.4M979.4,152.3A56.9,56.9 0 0 1 975.7,165.7M971.1,175.4A57.4,57.4 0 0 1 939.9,199.0M929.5,201.2A57.3,57.3 0 0 1 914.3,200.9M905.9,198.6A57.0,57.0 0 0 1 886.9,188.3M879.0,180.6A57.2,57.2 0 0 1 870.2,166.2M867.4,156.1A56.8,56.8 0 0 1 878.1,109.4M884.5,101.7A57.3,57.3 0 0 1 923.0,86.9M923.0,81.9A62.3,62.3 0 0 1 967.0,100.2M973.3,108.6A61.6,61.6 0 0 1 984.6,141.8M985.2,145.6A62.2,62.2 0 0 1 978.8,171.9M977.0,174.4A61.8,61.8 0 0 1 951.4,199.1M944.7,202.6A62.3,62.3 0 0 1 916.5,206.2M908.7,204.5A62.0,62.0 0 0 1 885.6,193.7M883.0,191.6A62.0,62.0 0 0 1 873.8,181.9M867.0,171.3A62.2,62.2 0 0 1 860.9,140.9M862.3,132.6A61.8,61.8 0 0 1 891.1,91.3M894.2,89.1A62.2,62.2 0 0 1 908.8,83.7M956.1,86.6A66.4,66.4 0 0 1 980.3,110.6M982.5,114.5A66.5,66.5 0 0 1 988.5,155.9M985.2,166.5A66.1,66.1 0 0 1 972.4,188.2M969.7,191.7A66.6,66.6 0 0 1 920.4,210.8M912.7,209.9A66.5,66.5 0 0 1 897.8,205.8M894.0,204.2A66.6,66.6 0 0 1 873.5,188.8M891.6,85.7A66.4,66.4 0 0 1 919.6,77.9M923.0,74.1A70.1,70.1 0 0 1 951.0,79.9M960.9,85.4A69.9,69.9 0 0 1 988.6,120.0M991.6,132.1A69.6,69.6 0 0 1 983.3,178.9M978.9,186.1A69.9,69.9 0 0 1 952.7,207.4M945.0,210.5A69.8,69.8 0 0 1 911.0,213.0M906.5,212.2A69.9,69.9 0 0 1 868.6,188.1M861.5,177.4A69.9,69.9 0 0 1 857.1,121.0M912.7,75.0A70.0,70.0 0 0 1 923.0,74.2" stroke-width="0.8"/><path d="M923.1,140.2L923.1,136.7M927.0,143.9L930.5,143.6M920.2,147.0L917.7,149.5M922.2,140.3L921.5,136.9M923.0,136.7L923.0,133.2M930.5,144.2L934.0,144.3M924.8,151.5L925.7,154.9M916.8,148.4L913.9,150.4M915.5,144.2L912.0,144.2M922.7,136.7L922.6,133.2M932.0,137.9L935.8,135.1M933.0,148.7L937.3,150.6M922.6,155.2L922.4,159.9M918.0,154.0L915.9,158.2M914.4,137.4L910.7,134.5M923.2,128.5L923.3,125.4M928.3,129.4L929.4,126.5M935.1,134.2L937.4,132.2M937.7,138.8L940.6,137.7M938.7,143.5L941.8,143.4M934.9,154.5L937.2,156.5M925.0,159.8L925.4,162.8M916.4,158.4L915.2,161.3M910.3,153.4L907.8,155.2M907.8,148.1L904.8,148.9M910.1,135.2L907.6,133.5M914.4,131.1L912.8,128.5M923.2,125.4L923.3,120.3M932.2,127.8L934.7,123.4M937.8,132.7L941.9,129.5M941.2,139.6L946.2,138.4M941.8,143.9L946.9,143.8M940.7,150.4L945.5,152.1M936.9,156.9L940.6,160.3M912.0,159.4L909.0,163.5M906.6,153.3L902.1,155.8M904.7,148.2L899.7,149.3M908.0,133.0L903.9,129.9M931.2,121.8L932.8,117.2M942.3,130.1L946.2,127.2M944.8,134.3L949.2,132.3M945.4,152.5L950.0,154.2M943.4,156.7L947.5,159.2M939.2,161.8L942.5,165.4M931.7,166.5L933.4,171.0M923.1,168.1L923.1,173.0M908.8,163.4L905.9,167.3M903.4,157.8L899.4,160.6M901.1,153.8L896.6,155.7M900.2,137.2L895.5,135.7M902.1,132.6L897.8,130.3M911.9,123.0L909.6,118.7M924.8,115.5L925.1,110.6M937.1,119.1L939.4,114.8M949.2,132.4L953.7,130.4M951.7,142.5L956.6,142.2M951.3,149.3L956.1,150.2M944.2,163.6L947.8,166.9M938.4,168.5L941.0,172.6M922.4,173.0L922.2,177.8M899.3,160.5L895.3,163.3M894.7,139.1L889.9,138.3M899.5,127.6L895.5,124.8M904.9,121.9L901.8,118.1M913.2,117.2L911.5,112.6M925.0,110.6L925.2,107.4M931.1,111.5L931.9,108.4M938.8,114.5L940.4,111.7M951.4,126.1L954.1,124.4M955.3,134.8L958.4,133.9M956.5,147.4L959.7,147.7M939.0,173.8L940.5,176.6M932.2,176.6L933.1,179.7M923.5,177.9L923.6,181.1M908.9,174.8L907.6,177.7M900.5,169.2L898.3,171.6M889.4,145.9L886.2,146.0M891.6,132.0L888.7,130.8M896.5,123.4L894.0,121.5M899.7,119.9L897.4,117.6M905.8,115.3L904.1,112.5M913.7,111.9L912.8,108.8M920.5,110.6L920.3,107.4M924.4,107.4L924.5,103.0M930.9,108.2L931.9,103.9M938.6,110.8L940.5,106.8M942.8,113.1L945.1,109.4M948.0,117.1L951.0,113.9M954.3,124.7L958.0,122.4M954.3,163.7L958.0,166.0M944.5,174.2L947.0,177.8M936.7,178.4L938.4,182.5M931.0,180.2L932.0,184.5M919.1,180.9L918.7,185.2M912.4,179.5L911.1,183.7M903.9,175.7L901.6,179.5M899.7,172.8L897.0,176.2M890.6,161.7L886.7,163.8M888.2,156.3L884.0,157.8M886.3,147.7L881.9,148.1M886.2,143.0L881.8,142.8M886.7,137.5L882.4,136.7M888.8,130.5L884.7,128.9M912.9,108.7L911.8,104.5M918.7,107.6L918.2,103.2M924.9,103.0L925.1,98.9M932.0,103.9L932.9,100.0M943.1,108.1L945.0,104.6M951.3,114.1L954.0,111.2M955.9,119.3L959.1,116.8M958.9,123.8L962.4,121.8M964.0,139.4L968.0,138.9M964.2,146.3L968.3,146.5M961.3,159.5L965.1,161.0M954.8,170.4L958.0,173.0M943.8,179.8L945.9,183.3M939.6,182.0L941.2,185.7M932.8,184.3L933.7,188.2M924.6,185.4L924.8,189.5M916.3,184.9L915.7,188.9M904.3,181.0L902.5,184.6M898.8,177.6L896.4,180.9M895.1,174.6L892.3,177.6M888.9,167.4L885.6,169.7M886.2,162.9L882.6,164.7M883.2,155.2L879.3,156.2M881.8,146.0L877.7,146.1M883.4,132.8L879.4,131.7M889.1,120.7L885.7,118.4M894.8,114.1L892.1,111.1M904.2,107.5L902.3,103.9M925.0,98.9L925.2,94.6M933.7,100.2L934.7,95.9M945.8,105.0L948.0,101.3M951.8,109.2L954.6,105.9M958.2,115.7L961.6,113.0M967.2,134.2L971.5,133.2M968.3,142.4L972.6,142.3M963.2,165.2L967.0,167.2M958.5,172.3L962.0,175.0M939.2,186.5L940.8,190.6M929.8,189.0L930.4,193.3M916.3,189.0L915.7,193.3M902.2,184.5L900.2,188.4M890.6,175.9L887.5,179.0M884.5,168.1L880.8,170.4M879.2,132.5L875.0,131.4M884.8,119.8L881.1,117.5M888.6,114.7L885.3,111.8M902.1,104.0L900.1,100.1M914.3,99.7L913.4,95.5M926.1,94.6L926.3,91.1M948.8,101.7L950.6,98.7M955.3,106.4L957.5,103.8M962.1,113.6L964.8,111.4M966.2,119.7L969.2,118.0M972.0,135.9L975.4,135.3M972.7,144.7L976.2,144.7M971.8,153.5L975.2,154.2M970.1,159.9L973.4,161.0M962.8,173.9L965.6,176.0M942.8,189.8L944.2,193.0M935.6,192.3L936.4,195.6M929.6,193.4L930.0,196.9M924.2,193.9L924.3,197.4M906.0,190.9L904.8,194.2M897.7,187.0L896.0,190.0M889.4,180.8L887.1,183.4M885.1,176.3L882.4,178.6M880.4,169.8L877.4,171.6M875.9,160.0L872.6,161.1M874.2,153.7L870.8,154.3M873.3,145.6L869.9,145.7M873.6,139.3L870.1,138.9M888.6,108.4L886.2,105.9M927.1,91.2L927.4,87.2M934.1,92.2L935.0,88.3M940.5,94.0L941.8,90.2M947.3,96.9L949.1,93.3M953.6,100.7L955.9,97.4M962.8,108.9L965.8,106.2M975.2,154.1L979.2,154.9M972.4,163.7L976.2,165.2M969.1,170.7L972.6,172.7M956.7,185.3L959.3,188.4M950.9,189.4L953.0,192.9M946.4,191.9L948.2,195.6M940.1,194.5L941.4,198.4M935.2,196.0L936.1,199.9M928.7,197.1L929.1,201.1M923.6,197.4L923.6,201.4M914.5,196.7L913.8,200.7M904.5,194.1L903.1,197.9M900.1,192.2L898.4,195.9M886.4,182.8L883.7,185.8M880.7,176.3L877.4,178.8M877.8,172.1L874.3,174.3M874.1,165.2L870.4,166.8M871.1,155.7L867.1,156.6M870.0,148.2L865.9,148.5M874.6,122.3L870.9,120.6M879.4,113.7L876.1,111.4M884.8,107.2L881.9,104.4M903.3,94.8L901.8,91.0M911.6,92.3L910.8,88.3M924.6,87.0L924.8,82.3M932.9,87.8L933.7,83.2M938.4,89.1L939.7,84.6M951.1,94.4L953.5,90.3M963.1,103.4L966.5,100.1M969.2,110.5L973.1,107.7M973.6,117.5L977.8,115.3M975.7,121.9L980.0,120.1M979.6,135.5L984.2,134.8M980.1,140.8L984.8,140.5M980.0,149.2L984.7,149.6M979.3,154.3L984.0,155.1M960.6,187.3L963.7,190.9M952.4,193.3L954.8,197.3M939.5,199.0L940.8,203.5M930.4,200.9L931.0,205.6M907.1,199.2L905.7,203.7M901.6,197.3L899.9,201.7M894.8,194.0L892.5,198.1M880.3,182.3L876.8,185.5M872.0,170.2L867.9,172.4M868.7,162.2L864.2,163.7M867.0,155.8L862.4,156.7M866.1,149.8L861.4,150.3M865.8,145.1L861.1,145.1M866.0,138.8L861.3,138.4M866.8,133.7L862.1,132.8M868.7,126.1L864.2,124.7M876.3,111.1L872.5,108.4M879.4,107.2L875.8,104.1M884.1,102.2L880.9,98.8M904.0,90.2L902.5,85.8M912.3,88.0L911.4,83.4M924.9,82.3L925.1,77.9M947.4,87.3L949.2,83.2M960.1,94.6L962.8,91.1M969.3,103.0L972.6,100.1M975.4,111.2L979.1,108.8M980.0,119.9L984.1,118.2M982.6,127.4L986.9,126.2M984.8,140.3L989.2,140.1M984.7,149.9L989.1,150.3M976.1,176.0L979.9,178.3M972.4,181.5L976.0,184.2M961.2,192.9L964.0,196.4M944.8,202.2L946.4,206.3M937.9,204.3L939.0,208.6M932.9,205.3L933.6,209.7M925.2,206.1L925.3,210.5M915.5,205.7L915.0,210.1M894.8,199.3L892.8,203.3M887.6,195.0L885.1,198.7M882.6,191.1L879.7,194.5M875.6,184.1L872.2,186.9M872.6,180.1L868.9,182.7M869.1,174.6L865.2,176.8M866.6,169.7L862.5,171.6M864.2,163.6L860.0,165.0M861.9,154.1L857.5,154.8M866.6,118.7L862.5,116.9M869.4,113.2L865.5,111.0M878.9,100.7L875.8,97.6M892.6,90.3L890.4,86.4M898.4,87.4L896.6,83.3M905.3,84.9L904.0,80.6M922.1,82.3L922.0,77.8M926.0,77.9L926.2,74.3M932.4,78.5L932.9,74.9M948.1,82.8L949.4,79.4M952.5,84.7L954.1,81.5M967.6,95.1L970.1,92.4M971.2,98.5L973.8,96.1M979.0,108.5L982.0,106.6M985.0,120.6L988.4,119.3M989.3,141.0L992.9,140.8M989.3,146.4L992.9,146.5M988.9,151.9L992.5,152.3M964.7,195.8L967.0,198.6M958.7,200.2L960.6,203.2M953.6,203.1L955.3,206.3M940.2,208.3L941.1,211.8M924.8,210.5L924.9,214.1M915.0,210.1L914.6,213.7M906.5,208.5L905.6,212.0M900.7,206.7L899.5,210.1M891.2,202.4L889.5,205.6M884.5,198.2L882.4,201.1M879.5,194.3L877.2,197.1M873.6,188.5L870.9,190.9M868.5,182.0L865.5,184.1M863.3,173.3L860.1,174.9M860.2,165.5L856.7,166.7M858.2,158.7L854.7,159.5M857.5,133.4L854.0,132.9M859.4,125.4L855.9,124.3M861.8,118.4L858.5,117.0M864.9,112.1L861.8,110.4M899.0,82.3L897.7,79.0M905.5,80.2L904.5,76.7M911.5,78.8L910.9,75.3M918.2,78.0L918.0,74.4" stroke-width="0.7"/></g><path d="M679.00,280.80L721.63,246.28A54.85,54.85 0 1 1 686.63,226.48Z" fill="#f7c896"/><g clip-path="url(#rp2a)" fill="none" stroke="#fbe0c0" opacity="0.8"><path d="M679.0,274.8L679.0,247.1M679.8,268.8L682.2,236.0M680.5,275.0L689.9,237.3M679.0,280.8L701.0,220.6M687.4,262.6L705.8,222.6M679.0,280.8L712.1,225.9M679.0,280.8L706.7,245.5M683.3,276.6L724.5,235.6M679.0,280.8L704.8,259.2M688.8,273.8L715.6,254.8M679.0,280.8L719.0,260.5M679.0,280.8L721.0,264.9M684.9,279.6L741.8,268.0M699.0,279.9L743.0,277.8M690.9,282.3L712.4,285.0M679.0,280.8L741.4,295.3M698.1,286.7L740.3,299.7M679.0,280.8L737.4,307.3M679.0,280.8L716.1,306.1M679.0,280.8L725.3,325.1M683.0,285.3L701.4,305.9M690.1,297.4L697.7,308.8M679.0,280.8L706.1,338.9M683.0,292.1L690.3,312.5M679.0,280.8L696.1,342.6M679.0,280.8L685.5,344.6M679.0,286.8L679.0,314.5M676.8,300.7L672.0,344.5M679.0,280.8L670.7,313.4M679.0,280.8L658.1,341.4M679.0,280.8L652.2,339.0M679.0,280.8L656.4,319.6M679.0,280.8L651.3,316.1M670.6,289.4L655.5,304.9M670.0,288.7L630.8,323.0M679.0,280.8L650.6,298.8M679.0,280.8L648.5,295.0M660.3,288.0L619.2,303.8M667.3,283.4L616.4,294.5M667.1,282.0L645.5,284.1M679.0,280.8L645.3,280.5M679.0,280.8L645.9,274.8M667.5,277.4L646.7,271.4M660.4,273.3L619.5,256.9M679.0,280.8L622.9,249.9M679.0,280.8L626.8,243.5M679.0,280.8L629.9,239.5M666.0,265.6L637.2,232.2M667.1,264.7L640.9,229.2M676.0,275.6L662.0,251.8M679.0,280.8L661.6,239.4M674.1,261.4L663.4,218.6M679.0,280.8L669.0,217.5M679.0,280.8L673.8,216.9M679.0,276.7A4.1,4.1 0 0 1 680.1,276.8M680.4,276.9A4.2,4.2 0 0 1 682.8,279.0M683.0,281.7A4.1,4.1 0 0 1 682.2,283.5M681.7,283.8A4.1,4.1 0 0 1 679.3,284.8M678.6,285.0A4.2,4.2 0 0 1 676.0,283.7M675.9,283.1A3.9,3.9 0 0 1 675.3,281.9M675.4,281.7A3.7,3.7 0 0 1 675.3,280.6M675.3,280.2A3.7,3.7 0 0 1 676.4,278.1M676.3,277.4A4.3,4.3 0 0 1 677.8,276.6M678.1,276.8A4.1,4.1 0 0 1 679.0,276.7M679.0,273.3A7.5,7.5 0 0 1 682.3,274.1M683.2,274.9A7.3,7.3 0 0 1 685.1,276.8M685.2,277.3A7.1,7.1 0 0 1 686.0,282.0M686.3,282.4A7.5,7.5 0 0 1 683.1,287.1M682.1,287.4A7.3,7.3 0 0 1 679.8,288.1M671.3,279.8A7.8,7.8 0 0 1 674.4,274.5M679.0,269.4A11.4,11.4 0 0 1 683.6,270.3M685.0,270.6A11.8,11.8 0 0 1 690.4,277.6M688.7,287.4A11.8,11.8 0 0 1 681.7,292.3M681.1,292.2A11.6,11.6 0 0 1 673.0,290.7M672.3,290.2A11.6,11.6 0 0 1 670.4,288.5M669.1,286.5A11.5,11.5 0 0 1 668.0,277.7M668.6,275.9A11.5,11.5 0 0 1 676.0,269.7M677.3,269.4A11.5,11.5 0 0 1 679.0,269.3M679.0,265.3A15.5,15.5 0 0 1 687.0,267.5M688.7,268.3A15.9,15.9 0 0 1 692.9,273.2M693.3,274.3A15.7,15.7 0 0 1 694.3,277.5M694.4,279.9A15.5,15.5 0 0 1 692.2,288.9M690.5,291.5A15.7,15.7 0 0 1 685.2,295.2M683.0,295.8A15.6,15.6 0 0 1 670.5,293.9M669.8,293.2A15.4,15.4 0 0 1 663.7,282.6M663.6,281.8A15.5,15.5 0 0 1 664.6,275.1M665.2,272.8A16.0,16.0 0 0 1 675.1,265.3M679.0,261.5A19.3,19.3 0 0 1 693.3,267.9M697.5,276.1A19.1,19.1 0 0 1 698.1,281.4M691.3,295.7A19.3,19.3 0 0 1 675.7,299.8M675.1,299.4A18.9,18.9 0 0 1 665.9,294.5M660.6,278.2A18.6,18.6 0 0 1 662.3,272.6M670.7,264.1A18.6,18.6 0 0 1 674.8,262.6M678.4,261.5A19.3,19.3 0 0 1 679.0,261.5M679.0,256.6A24.2,24.2 0 0 1 687.6,258.2M688.7,258.5A24.3,24.3 0 0 1 700.1,268.7M702.0,272.7A24.4,24.4 0 0 1 703.4,279.6M703.3,282.3A24.4,24.4 0 0 1 699.8,293.5M686.7,303.5A24.0,24.0 0 0 1 670.4,303.2M666.6,301.4A24.1,24.1 0 0 1 660.1,295.8M657.4,292.7A24.7,24.7 0 0 1 655.2,274.3M656.4,271.1A24.6,24.6 0 0 1 667.8,258.9M669.4,258.4A24.4,24.4 0 0 1 679.0,256.4M679.0,251.1A29.7,29.7 0 0 1 688.2,252.6M689.8,253.3A29.5,29.5 0 0 1 698.1,258.3M706.4,269.8A29.5,29.5 0 0 1 706.7,291.0M705.6,293.1A29.3,29.3 0 0 1 697.8,303.3M694.1,306.2A29.6,29.6 0 0 1 671.2,309.3M666.8,308.0A29.9,29.9 0 0 1 651.9,293.3M650.4,287.9A29.5,29.5 0 0 1 649.8,277.2M670.3,252.4A29.7,29.7 0 0 1 679.0,251.1M679.0,246.0A34.8,34.8 0 0 1 700.0,253.0M714.1,278.5A35.2,35.2 0 0 1 705.5,304.0M703.7,305.1A34.6,34.6 0 0 1 686.4,314.6M683.1,315.4A34.8,34.8 0 0 1 661.4,310.9M658.5,309.1A34.9,34.9 0 0 1 644.6,286.6M644.0,281.7A35.0,35.0 0 0 1 646.1,268.8M665.8,248.7A34.7,34.7 0 0 1 679.0,246.1M679.0,242.0A38.8,38.8 0 0 1 696.6,246.2M709.6,257.0A38.7,38.7 0 0 1 717.1,287.7M715.2,295.4A39.1,39.1 0 0 1 693.3,317.2M649.7,306.9A39.3,39.3 0 0 1 639.7,280.5M656.0,249.9A38.5,38.5 0 0 1 679.0,242.3M679.0,236.7A44.1,44.1 0 0 1 704.3,244.6M709.5,249.2A43.9,43.9 0 0 1 722.9,281.2M722.7,287.3A44.2,44.2 0 0 1 705.6,316.1M699.4,320.0A44.2,44.2 0 0 1 669.7,324.0M663.4,321.6A43.7,43.7 0 0 1 647.8,311.4M646.5,310.5A44.1,44.1 0 0 1 635.3,286.2M635.5,278.7A43.5,43.5 0 0 1 638.1,265.8M679.0,233.1A47.7,47.7 0 0 1 706.3,241.7M711.2,245.8A47.5,47.5 0 0 1 726.5,282.7M725.8,291.1A48.0,48.0 0 0 1 710.8,316.7M709.4,317.8A47.9,47.9 0 0 1 687.0,328.0M679.9,328.3A47.5,47.5 0 0 1 655.4,322.0M649.0,317.3A47.3,47.3 0 0 1 633.3,292.8M632.4,289.5A47.4,47.4 0 0 1 638.0,256.9M638.8,254.5A48.0,48.0 0 0 1 646.0,245.9M649.0,243.6A47.7,47.7 0 0 1 679.0,233.1M679.0,229.9A50.9,50.9 0 0 1 700.0,234.4M728.8,290.7A50.8,50.8 0 0 1 725.0,302.2M723.2,305.8A50.8,50.8 0 0 1 691.5,330.0M653.6,324.7A50.7,50.7 0 0 1 634.6,305.3M630.7,296.0A50.7,50.7 0 0 1 631.9,262.0M651.4,238.2A50.8,50.8 0 0 1 679.0,230.0M679.0,224.3A56.5,56.5 0 0 1 716.5,238.6M733.5,295.2A56.4,56.4 0 0 1 715.7,323.6M712.9,325.2A55.9,55.9 0 0 1 668.4,335.7M666.5,335.2A55.8,55.8 0 0 1 632.5,311.7M629.2,307.6A56.6,56.6 0 0 1 625.1,263.5M663.9,227.1A55.8,55.8 0 0 1 679.0,225.0M679.0,220.4A60.4,60.4 0 0 1 706.8,227.2M716.2,232.9A60.6,60.6 0 0 1 728.7,246.0M739.5,279.7A60.6,60.6 0 0 1 735.4,302.8M630.7,318.0A61.0,61.0 0 0 1 619.0,269.8M621.8,261.2A60.4,60.4 0 0 1 642.0,233.0M652.7,226.3A60.5,60.5 0 0 1 679.0,220.3" stroke-width="0.8"/><path d="M679.2,276.8L679.3,273.4M682.9,280.0L686.3,279.3M682.5,282.8L685.5,284.5M676.3,283.8L674.0,286.3M675.8,278.4L673.0,276.4M679.6,273.4L679.9,269.2M685.1,276.6L688.6,274.2M686.1,283.0L690.1,284.2M680.9,288.0L681.9,292.1M675.7,287.5L673.9,291.3M671.8,282.7L667.7,283.8M673.4,275.9L670.2,273.2M686.6,271.9L689.3,268.8M689.6,276.0L693.4,274.4M690.6,281.8L694.7,282.2M680.5,292.4L681.0,296.5M676.0,292.1L674.9,296.1M670.0,288.2L666.8,290.9M669.2,274.5L665.7,272.3M680.1,265.0L680.3,261.9M694.2,276.4L697.2,275.5M694.5,283.8L697.6,284.4M691.9,290.0L694.4,291.8M672.3,295.1L671.0,298.0M666.2,290.0L663.6,291.9M664.0,285.7L661.0,286.6M663.3,278.7L660.2,278.3M680.1,261.9L680.4,256.5M692.9,267.9L696.9,264.2M697.2,275.6L702.4,274.2M697.7,284.0L703.0,284.9M695.6,290.0L700.3,292.6M690.1,296.2L693.2,300.6M681.9,299.5L682.7,304.9M661.3,287.7L656.3,289.6M660.1,280.2L654.7,280.0M662.4,271.6L657.7,269.0M666.6,266.5L663.0,262.4M672.4,263.1L670.5,258.0M677.7,261.9L677.3,256.5M680.0,256.5L680.2,251.2M685.7,257.4L687.2,252.3M701.3,271.0L706.1,268.8M703.2,277.9L708.5,277.3M703.2,283.3L708.5,283.9M701.6,289.8L706.6,291.8M696.3,297.9L700.1,301.6M692.5,301.0L695.5,305.5M677.3,305.1L676.9,310.4M671.3,303.9L669.6,308.9M666.5,301.7L663.7,306.2M660.2,296.3L656.1,299.7M657.2,291.7L652.5,294.1M655.3,286.3L650.1,287.5M654.7,281.6L649.3,281.8M655.1,276.3L649.8,275.3M658.2,268.2L653.6,265.5M668.9,258.6L666.7,253.8M686.3,252.0L687.6,247.0M703.2,263.7L707.5,260.7M707.2,271.6L712.1,270.0M705.8,293.6L710.4,295.9M701.9,299.7L705.9,303.0M688.8,308.8L690.5,313.7M673.5,310.0L672.5,315.0M668.0,308.3L666.0,313.1M662.2,305.2L659.2,309.5M656.0,299.5L652.0,302.8M652.2,293.4L647.5,295.7M649.4,279.3L644.2,279.1M660.0,258.0L656.7,254.0M664.7,254.8L662.2,250.3M671.6,252.1L670.3,247.0M681.5,246.0L681.8,242.0M690.9,248.0L692.3,244.3M696.9,250.9L699.0,247.5M701.0,253.8L703.6,250.7M707.5,260.7L710.8,258.4M713.3,274.9L717.3,274.2M713.6,284.6L717.6,285.1M711.1,294.3L714.8,295.9M707.7,300.6L711.0,302.9M701.9,307.1L704.5,310.1M697.5,310.3L699.7,313.7M681.4,315.6L681.6,319.6M662.2,311.3L660.3,314.9M644.2,279.7L640.1,279.5M644.9,273.7L640.9,272.9M648.0,264.8L644.5,263.0M680.9,242.0L681.2,237.0M701.7,249.3L704.6,245.2M710.8,258.4L714.9,255.6M714.0,263.9L718.5,261.7M716.9,272.2L721.7,271.1M716.7,290.5L721.5,291.7M713.5,298.8L717.9,301.1M700.6,313.2L703.3,317.3M693.5,316.9L695.4,321.5M687.6,318.7L688.7,323.6M674.9,319.5L674.3,324.4M665.3,317.2L663.6,321.8M656.6,312.6L653.7,316.6M645.3,300.1L641.0,302.6M640.1,281.3L635.2,281.3M641.1,272.0L636.3,270.9M643.4,265.1L638.9,263.1M647.4,258.1L643.4,255.2M653.2,251.8L649.9,248.0M658.4,247.8L655.7,243.6M664.4,244.8L662.5,240.2M671.9,242.6L671.0,237.7M680.8,237.0L680.9,233.2M689.2,238.2L690.1,234.5M706.2,246.4L708.5,243.4M712.6,252.6L715.5,250.2M721.6,270.6L725.3,269.8M722.8,278.6L726.6,278.4M721.8,290.2L725.5,291.1M719.3,298.1L722.8,299.6M716.6,303.3L719.9,305.3M706.7,314.8L709.1,317.7M687.2,323.9L687.9,327.6M668.5,323.3L667.5,327.0M658.6,319.6L656.8,323.0M653.1,316.2L650.9,319.3M645.0,308.4L642.0,310.8M637.5,294.9L633.9,296.1M635.5,286.3L631.7,286.8M635.3,277.8L631.5,277.5M638.2,264.8L634.6,263.4M646.9,251.0L644.1,248.4M656.0,243.5L654.0,240.2M665.3,239.2L664.1,235.5M674.5,237.2L674.1,233.4M682.8,233.3L683.1,230.2M690.6,234.6L691.4,231.6M703.6,240.0L705.3,237.4M720.5,257.5L723.3,255.9M723.1,262.7L726.0,261.5M724.4,295.1L727.4,296.1M706.5,319.7L708.3,322.2M698.1,324.4L699.4,327.3M690.3,327.1L691.0,330.1M682.4,328.3L682.6,331.4M658.9,324.0L657.6,326.9M647.2,316.3L645.1,318.6M633.6,295.3L630.6,296.3M631.9,288.2L628.8,288.7M631.4,277.9L628.3,277.7M634.3,264.2L631.4,263.1M637.7,257.0L635.0,255.4M648.5,244.2L646.5,241.8M678.5,233.2L678.4,230.0M689.9,231.2L691.0,225.9M701.2,235.1L703.5,230.2M714.1,244.1L717.8,240.2M717.4,247.5L721.5,244.0M721.6,253.1L726.1,250.2M724.2,257.7L729.0,255.2M729.0,272.1L734.4,271.1M728.7,291.1L734.0,292.2M727.0,297.5L732.1,299.3M722.6,306.9L727.2,309.6M712.5,319.0L716.1,323.1M691.3,330.1L692.6,335.3M683.3,331.4L683.8,336.8M667.7,330.3L666.5,335.6M649.1,321.8L645.9,326.2M628.7,287.8L623.3,288.5M628.2,280.7L622.8,280.7M629.1,271.7L623.7,270.7M633.0,259.2L628.1,256.9M642.5,245.5L638.6,241.7M662.2,232.9L660.4,227.8M697.3,227.7L698.8,223.4M704.0,230.4L706.0,226.4M714.6,237.4L717.5,233.8M720.3,242.6L723.6,239.6M729.9,256.9L734.0,254.9M732.2,262.6L736.5,261.1M733.7,267.8L738.1,266.7M734.9,275.0L739.4,274.5M735.2,283.1L739.7,283.3M734.5,289.9L739.0,290.6M733.3,295.2L737.7,296.3M728.2,307.9L732.2,310.1M722.6,316.2L726.2,319.1M717.8,321.4L721.0,324.7M712.3,326.1L714.9,329.8M690.0,335.9L690.9,340.4M665.7,335.4L664.6,339.8M656.7,332.4L654.9,336.6M647.8,327.5L645.2,331.3M641.0,322.2L637.9,325.6M636.5,317.6L633.1,320.6M630.6,309.4L626.7,311.7M628.1,304.6L624.0,306.6M626.0,299.6L621.7,301.1M622.8,280.4L618.3,280.4M623.8,270.4L619.3,269.5M624.9,265.5L620.5,264.3M626.6,260.4L622.4,258.8M634.3,246.7L630.7,243.9M652.3,231.4L650.1,227.4M660.4,227.8L658.9,223.5M668.3,225.6L667.4,221.2M678.5,224.6L678.5,220.1" stroke-width="0.7"/></g><path d="M682.45,274.71L690.08,220.39A54.85,54.85 0 0 1 725.07,240.19Z" fill="#ea953a"/><g clip-path="url(#rp2b)" fill="none" stroke="#f3bd80" opacity="0.8"><path d="M682.4,274.7L685.8,210.7M682.4,274.7L695.4,211.9M685.9,263.2L700.7,213.3M682.4,274.7L705.4,214.9M682.4,274.7L702.0,234.3M682.4,274.7L719.2,222.2M696.5,260.4L727.3,228.9M682.4,274.7L707.7,252.5M682.4,274.7L709.4,254.6M684.2,271.5A3.7,3.7 0 0 1 685.5,272.7M682.9,266.0A8.7,8.7 0 0 1 689.4,269.4M683.1,261.8A12.9,12.9 0 0 1 692.2,266.2M692.9,267.6A12.6,12.6 0 0 1 692.9,267.7M683.3,258.3A16.5,16.5 0 0 1 687.3,259.0M689.6,260.0A16.3,16.3 0 0 1 696.0,265.6M683.6,253.5A21.2,21.2 0 0 1 691.1,255.3M692.6,255.8A21.4,21.4 0 0 1 698.9,261.0M683.8,248.8A25.9,25.9 0 0 1 694.7,251.9M697.9,253.6A26.2,26.2 0 0 1 704.2,260.1M684.0,244.8A29.9,29.9 0 0 1 690.7,245.9M691.8,246.4A29.8,29.8 0 0 1 704.2,254.4M684.3,239.5A35.2,35.2 0 0 1 694.1,241.5M695.6,242.1A35.2,35.2 0 0 1 707.4,249.9M710.6,253.4A35.3,35.3 0 0 1 711.7,255.0M684.8,230.6A44.1,44.1 0 0 1 712.8,242.7M715.8,245.9A44.0,44.0 0 0 1 718.9,250.1M685.0,226.9A47.9,47.9 0 0 1 705.1,232.6M709.8,235.2A48.0,48.0 0 0 1 722.3,247.9M685.1,223.3A51.5,51.5 0 0 1 715.3,235.1M720.8,240.6A51.3,51.3 0 0 1 725.0,246.0M685.4,218.7A56.1,56.1 0 0 1 725.6,238.8M729.0,243.0A56.3,56.3 0 0 1 729.1,243.2M685.6,214.3A60.5,60.5 0 0 1 722.4,229.2M724.4,232.0A59.9,59.9 0 0 1 732.1,241.2" stroke-width="0.8"/><path d="M682.8,270.7L683.3,266.1M683.1,266.1L683.4,261.9M683.5,261.9L683.8,258.7M684.5,258.8L685.2,253.7M692.8,262.4L696.1,258.5M683.6,253.5L683.8,248.9M685.9,249.1L686.4,245.0M692.1,250.7L693.6,246.9M697.1,253.4L699.5,250.1M701.7,257.5L704.8,254.7M684.0,244.8L684.3,239.5M691.2,246.1L692.8,241.0M698.7,249.6L701.6,245.1M705.2,255.2L709.2,251.8M685.2,239.6L685.6,235.2M690.6,240.4L691.6,236.1M695.7,242.1L697.4,238.0M704.3,247.1L707.0,243.6M691.2,236.0L692.2,231.8M705.5,242.5L708.0,239.0M711.9,248.2L715.1,245.3M686.0,230.9L686.3,226.9M697.0,233.2L698.3,229.5M704.9,236.9L707.0,233.5M718.4,249.4L721.6,247.1M698.8,229.7L700.0,226.4M706.1,233.0L707.8,230.0M718.3,242.9L720.9,240.6M688.5,223.7L689.0,219.1M697.0,225.4L698.3,221.0M703.5,227.8L705.3,223.6M708.1,230.1L710.4,226.2M688.5,219.1L689.0,214.9M695.8,220.3L696.8,216.3M702.6,222.5L704.1,218.6M723.2,236.3L726.2,233.5M727.1,240.9L730.4,238.4" stroke-width="0.7"/></g><path d="M679.00,280.80L721.63,246.28A54.85,54.85 0 1 1 686.63,226.48Z" fill="none" stroke="#fff" stroke-width="1.5"/><path d="M682.45,274.71L690.08,220.39A54.85,54.85 0 0 1 725.07,240.19Z" fill="none" stroke="#fff" stroke-width="1.5"/><path d="M919.40,280.60L894.11,230.97A55.70,55.70 0 1 1 864.39,289.31Z" fill="#f8d768"/><g clip-path="url(#rp3a)" fill="none" stroke="#fbe7a6" opacity="0.8"><path d="M919.4,260.6L919.4,246.6M919.4,280.6L922.8,246.8M919.4,280.6L926.9,247.4M923.9,269.5L936.5,238.6M925.2,270.1L950.5,223.9M919.4,280.6L947.8,245.2M933.3,266.2L964.3,234.0M919.4,280.6L967.5,237.3M929.0,273.4L955.7,253.4M919.4,280.6L975.5,248.3M919.4,280.6L977.9,253.0M919.4,280.6L952.2,271.5M919.4,280.6L953.1,276.3M919.4,280.6L953.4,280.4M939.4,282.0L983.9,285.1M931.1,283.1L982.7,294.0M938.0,287.9L979.6,304.4M924.8,283.3L977.2,309.8M919.4,280.6L947.8,299.3M928.7,288.2L954.4,309.4M927.2,289.7L941.6,306.4M919.4,280.6L952.6,336.2M926.9,299.1L943.6,340.6M919.4,280.6L933.6,343.7M919.4,280.6L923.3,345.2M919.1,286.6L916.7,345.2M918.2,286.5L906.9,344.1M915.4,291.9L908.2,312.7M911.2,298.8L892.9,339.6M919.4,280.6L902.0,309.8M919.4,280.6L880.0,331.9M910.8,289.0L873.1,325.8M914.5,284.0L891.5,300.1M902.0,290.5L863.1,312.5M908.2,284.9L877.1,296.9M913.6,282.3L857.3,298.6M919.4,280.6L886.1,287.3M919.4,280.6L854.7,282.7M919.4,280.6L874.4,274.5M907.8,277.4L857.1,263.2M908.3,276.0L877.5,263.2M919.4,280.6L864.2,246.8M904.4,267.4L893.9,258.1M919.4,280.6L897.4,254.6M919.4,280.6L884.2,226.3M911.1,262.4L892.7,221.7M919.4,280.6L897.5,219.7M919.4,280.6L905.3,217.4M919.4,280.6L914.3,235.5M921.3,277.3A3.8,3.8 0 0 1 922.3,278.2M922.7,278.6A3.9,3.9 0 0 1 923.2,281.5M923.2,282.0A4.0,4.0 0 0 1 922.2,283.4M918.5,284.7A4.2,4.2 0 0 1 917.4,284.3M915.6,281.3A3.8,3.8 0 0 1 915.6,279.9M915.4,279.4A4.2,4.2 0 0 1 917.2,277.1M917.6,276.7A4.3,4.3 0 0 1 918.6,276.4M919.2,276.2A4.4,4.4 0 0 1 919.4,276.2M919.4,272.7A7.9,7.9 0 0 1 922.0,273.2M923.2,273.4A8.2,8.2 0 0 1 926.8,277.2M927.1,277.9A8.2,8.2 0 0 1 927.6,280.9M927.1,281.4A7.7,7.7 0 0 1 924.8,286.1M916.0,287.9A8.1,8.1 0 0 1 912.0,284.0M913.0,275.8A8.0,8.0 0 0 1 915.0,273.9M916.3,273.5A7.7,7.7 0 0 1 919.4,272.9M927.1,271.8A11.7,11.7 0 0 1 930.5,276.8M930.8,278.9A11.5,11.5 0 0 1 930.1,284.9M929.3,285.9A11.2,11.2 0 0 1 925.8,289.8M925.3,290.3A11.3,11.3 0 0 1 918.3,291.9M916.5,291.4A11.2,11.2 0 0 1 911.3,288.4M910.1,287.5A11.6,11.6 0 0 1 907.8,280.4M908.3,279.3A11.2,11.2 0 0 1 911.9,272.3M919.4,264.4A16.2,16.2 0 0 1 930.5,268.8M931.6,269.7A16.4,16.4 0 0 1 935.8,281.5M935.3,283.5A16.2,16.2 0 0 1 934.3,287.0M932.9,289.4A16.2,16.2 0 0 1 923.6,296.2M920.3,297.1A16.5,16.5 0 0 1 915.1,296.5M912.1,295.6A16.6,16.6 0 0 1 904.2,287.4M903.0,279.6A16.5,16.5 0 0 1 905.6,271.6M911.9,266.2A16.2,16.2 0 0 1 916.1,264.8M917.9,264.5A16.2,16.2 0 0 1 919.4,264.4M919.4,258.7A21.9,21.9 0 0 1 932.3,262.8M933.3,264.2A21.5,21.5 0 0 1 937.1,268.3M940.6,284.0A21.5,21.5 0 0 1 933.4,296.9M933.2,298.0A22.2,22.2 0 0 1 929.0,300.6M928.1,300.6A21.8,21.8 0 0 1 921.6,302.3M911.2,301.0A22.0,22.0 0 0 1 900.8,292.3M897.2,282.4A22.2,22.2 0 0 1 899.1,271.4M900.7,269.0A22.0,22.0 0 0 1 904.8,264.2M917.6,258.5A22.2,22.2 0 0 1 919.4,258.4M919.4,255.2A25.4,25.4 0 0 1 930.7,257.9M931.7,258.6A25.2,25.2 0 0 1 944.1,275.8M935.3,300.6A25.6,25.6 0 0 1 921.2,306.1M916.7,305.8A25.4,25.4 0 0 1 908.3,303.4M905.3,301.6A25.3,25.3 0 0 1 894.5,285.1M894.4,281.1A25.1,25.1 0 0 1 895.4,273.4M896.2,270.1A25.5,25.5 0 0 1 906.0,258.9M907.6,258.1A25.4,25.4 0 0 1 916.0,255.5M919.1,255.0A25.6,25.6 0 0 1 919.4,255.0M919.4,251.2A29.4,29.4 0 0 1 926.5,252.1M939.5,259.0A29.6,29.6 0 0 1 946.5,268.8M946.0,294.3A29.9,29.9 0 0 1 932.6,307.5M929.5,308.7A29.9,29.9 0 0 1 920.7,310.5M919.3,310.4A29.8,29.8 0 0 1 909.7,308.8M906.5,307.4A29.7,29.7 0 0 1 893.0,294.4M889.8,275.3A30.1,30.1 0 0 1 894.8,263.3M914.3,251.5A29.5,29.5 0 0 1 919.4,251.1M938.1,251.5A34.6,34.6 0 0 1 953.2,273.2M927.3,314.7A35.0,35.0 0 0 1 913.0,315.0M907.1,313.3A34.9,34.9 0 0 1 891.6,301.8M888.7,297.4A35.0,35.0 0 0 1 885.3,288.2M885.1,284.1A34.4,34.4 0 0 1 887.6,267.5M906.3,248.9A34.3,34.3 0 0 1 919.4,246.3M919.4,242.3A38.3,38.3 0 0 1 943.2,250.5M957.6,285.7A38.5,38.5 0 0 1 953.8,298.0M951.0,302.2A38.2,38.2 0 0 1 933.1,316.3M927.6,318.3A38.6,38.6 0 0 1 898.4,313.0M892.3,308.2A38.7,38.7 0 0 1 884.0,296.3M882.1,290.8A38.7,38.7 0 0 1 880.8,282.8M887.4,258.8A38.7,38.7 0 0 1 904.2,245.0M908.5,243.8A38.4,38.4 0 0 1 919.4,242.2M919.4,238.8A41.8,41.8 0 0 1 929.5,240.0M958.2,264.1A42.2,42.2 0 0 1 961.4,277.1M961.6,279.6A42.2,42.2 0 0 1 951.1,308.5M948.7,311.0A42.2,42.2 0 0 1 924.8,322.4M917.1,322.4A41.9,41.9 0 0 1 908.0,320.9M900.7,318.8A42.5,42.5 0 0 1 881.3,299.5M880.4,296.9A42.3,42.3 0 0 1 877.5,274.8M877.6,272.8A42.6,42.6 0 0 1 880.6,263.0M884.9,256.1A42.3,42.3 0 0 1 897.5,244.4M954.2,248.6A47.3,47.3 0 0 1 966.6,278.0M966.4,283.3A47.1,47.1 0 0 1 948.0,318.0M941.5,321.8A46.7,46.7 0 0 1 914.5,327.1M911.0,327.3A47.5,47.5 0 0 1 894.2,320.9M889.1,316.3A46.9,46.9 0 0 1 873.1,287.8M872.5,284.2A47.1,47.1 0 0 1 878.5,257.2M882.8,251.3A46.9,46.9 0 0 1 898.4,238.7M902.8,236.1A47.5,47.5 0 0 1 919.4,233.1M945.4,235.7A51.9,51.9 0 0 1 954.8,242.7M961.1,249.4A52.1,52.1 0 0 1 971.5,281.1M970.8,289.1A52.1,52.1 0 0 1 962.7,309.6M958.3,315.0A51.9,51.9 0 0 1 948.9,323.3M946.7,324.6A51.8,51.8 0 0 1 919.2,332.4M910.7,331.9A52.0,52.0 0 0 1 879.7,314.3M868.6,270.7A51.8,51.8 0 0 1 875.2,253.6M876.6,250.6A52.2,52.2 0 0 1 890.7,237.0M898.6,232.9A52.1,52.1 0 0 1 910.3,229.3M919.4,224.6A56.0,56.0 0 0 1 941.8,229.3M974.6,276.5A55.3,55.3 0 0 1 973.9,290.1M973.2,293.0A55.2,55.2 0 0 1 967.2,308.3M964.9,312.6A55.6,55.6 0 0 1 929.5,335.3M919.3,336.2A55.6,55.6 0 0 1 907.2,334.9M905.1,334.0A55.3,55.3 0 0 1 871.1,307.5M866.6,297.3A55.4,55.4 0 0 1 866.3,265.0M867.0,262.9A55.3,55.3 0 0 1 889.6,233.9M891.5,232.6A55.5,55.5 0 0 1 919.4,225.1M919.4,220.4A60.2,60.2 0 0 1 936.5,222.9M944.0,225.7A60.1,60.1 0 0 1 976.7,262.4M977.3,265.0A60.0,60.0 0 0 1 978.7,289.4M976.9,296.5A59.7,59.7 0 0 1 970.1,312.1M967.6,316.1A59.9,59.9 0 0 1 939.3,337.1M929.0,339.6A59.7,59.7 0 0 1 889.1,332.1M880.9,326.5A59.9,59.9 0 0 1 859.7,285.8M859.2,277.9A60.3,60.3 0 0 1 873.8,241.2M919.4,216.0A64.6,64.6 0 0 1 945.0,221.3M955.2,226.3A65.0,65.0 0 0 1 979.7,256.3M982.1,264.1A64.9,64.9 0 0 1 972.9,317.3M969.2,322.2A64.8,64.8 0 0 1 919.9,345.4M913.1,344.9A64.6,64.6 0 0 1 880.1,331.9M875.0,327.3A64.4,64.4 0 0 1 855.3,287.5M900.3,218.9A64.6,64.6 0 0 1 919.4,216.0" stroke-width="0.8"/><path d="M922.5,278.1L925.7,275.6M918.5,284.5L917.6,288.5M915.6,281.9L911.8,283.3M917.4,277.1L915.4,273.6M919.5,272.5L919.6,269.2M923.6,273.7L925.4,270.9M926.4,276.7L929.3,275.0M927.3,282.4L930.5,283.2M922.2,288.2L923.3,291.3M917.3,288.4L916.4,291.6M913.2,285.8L910.7,287.9M911.4,279.6L908.1,279.1M919.8,269.2L920.0,264.2M930.7,281.7L935.8,282.2M929.6,285.6L934.2,287.8M926.5,289.5L929.6,293.5M910.0,287.0L905.8,289.8M908.9,276.2L904.3,274.3M914.0,270.6L911.6,266.1M920.4,264.2L920.8,258.8M927.2,266.2L929.8,261.4M931.2,269.2L935.1,265.4M935.5,277.2L940.8,276.0M935.8,281.4L941.2,281.7M933.9,288.3L938.7,290.9M906.8,291.1L902.6,294.6M907.6,269.2L903.7,265.4M914.6,264.9L913.0,259.7M935.2,265.5L937.8,263.0M938.3,269.7L941.4,267.8M940.9,277.0L944.5,276.4M940.8,284.8L944.4,285.5M939.1,289.9L942.4,291.5M927.2,301.0L928.5,304.4M907.5,298.9L905.6,302.0M902.8,294.8L900.1,297.1M899.3,289.1L895.9,290.5M902.6,266.7L899.8,264.4M917.5,258.8L917.2,255.3M921.1,255.2L921.4,251.0M928.0,256.6L929.4,252.7M943.9,273.7L948.0,272.5M944.8,281.6L949.0,281.8M944.0,287.1L948.1,288.2M935.9,299.9L938.7,303.1M930.2,303.6L932.0,307.5M925.3,305.3L926.3,309.5M910.2,304.3L908.7,308.3M898.4,294.9L894.9,297.3M896.3,270.0L892.4,268.3M898.6,266.0L895.1,263.6M901.5,262.5L898.5,259.5M908.5,257.6L906.7,253.8M915.0,255.5L914.3,251.4M925.4,251.5L926.4,246.6M938.8,258.2L942.1,254.4M943.9,263.9L948.1,261.1M946.2,268.0L950.8,265.8M948.7,275.7L953.6,274.8M948.7,285.4L953.6,286.2M944.6,296.3L948.8,298.9M940.1,301.8L943.6,305.4M935.2,305.7L937.9,309.9M926.3,309.5L927.5,314.3M921.6,310.2L921.9,315.2M912.5,309.4L911.3,314.3M907.8,307.9L905.9,312.5M902.8,305.2L900.0,309.3M893.1,294.3L888.6,296.6M900.2,257.9L897.0,254.1M925.8,246.5L926.5,242.8M930.7,247.8L931.9,244.3M938.2,251.4L940.2,248.3M946.9,259.5L949.9,257.2M950.7,265.7L954.1,264.1M953.8,284.8L957.6,285.3M946.3,302.5L949.2,304.8M942.5,306.4L945.1,309.2M934.3,311.9L935.9,315.3M913.5,314.8L912.8,318.5M893.5,303.7L890.7,306.2M889.3,297.9L886.1,299.8M886.3,290.9L882.7,292.0M889.7,262.7L886.5,260.8M894.8,256.2L892.1,253.6M908.7,247.6L907.5,244.0M915.9,246.1L915.5,242.4M921.4,242.2L921.6,238.5M930.8,243.9L931.9,240.3M946.9,253.7L949.5,251.1M954.6,265.1L958.0,263.6M947.7,306.7L950.4,309.2M936.1,315.2L937.7,318.6M927.0,318.3L927.8,322.0M917.5,319.0L917.3,322.7M909.0,317.6L908.0,321.2M903.5,315.6L901.9,319.0M898.2,312.7L896.2,315.8M893.4,308.9L890.8,311.6M889.2,304.3L886.2,306.6M884.7,297.1L881.3,298.7M881.6,287.7L877.9,288.4M881.9,272.1L878.3,271.2M884.8,263.8L881.4,262.2M890.4,255.4L887.6,252.9M893.8,251.9L891.3,249.1M905.6,244.7L904.2,241.2M912.2,242.8L911.5,239.2M917.9,242.2L917.7,238.4M925.6,238.9L926.3,234.0M937.8,242.6L940.0,238.2M943.8,246.2L946.6,242.1M952.6,254.6L956.5,251.5M957.5,262.5L962.0,260.4M960.5,271.1L965.3,270.0M961.4,276.4L966.3,275.9M961.5,282.6L966.5,282.8M952.7,306.6L956.6,309.6M949.1,310.6L952.6,314.1M937.9,318.5L940.1,322.9M915.0,322.6L914.5,327.5M907.9,321.2L906.6,326.0M898.9,317.5L896.5,321.8M890.8,311.6L887.4,315.2M886.1,306.6L882.2,309.6M881.1,298.2L876.6,300.3M877.5,285.7L872.6,286.3M886.0,254.8L882.1,251.8M891.9,248.6L888.7,244.8M898.7,243.8L896.3,239.5M904.6,241.1L902.9,236.4M918.4,238.4L918.3,233.5M919.5,233.5L919.5,228.6M931.5,235.0L932.7,230.4M941.6,239.0L943.9,234.8M956.4,251.4L960.2,248.4M960.4,257.4L964.6,255.0M962.9,262.4L967.3,260.5M965.3,269.9L970.0,268.8M966.3,275.5L971.1,275.0M966.5,282.7L971.3,283.0M965.3,291.1L970.0,292.2M964.0,295.7L968.6,297.3M957.2,308.7L961.1,311.6M943.4,321.1L945.9,325.3M902.5,324.6L900.7,329.1M896.2,321.6L893.8,325.8M889.5,317.0L886.4,320.8M885.6,313.5L882.2,316.9M877.3,301.9L873.0,304.1M872.5,285.7L867.7,286.2M872.6,275.1L867.8,274.6M873.6,269.4L868.9,268.3M876.2,261.7L871.8,259.7M879.8,255.0L875.8,252.4M885.1,248.3L881.6,244.9M891.7,242.5L888.9,238.5M897.6,238.8L895.3,234.6M915.4,233.6L915.0,228.8M921.2,228.7L921.3,225.0M931.1,230.0L932.0,226.4M945.3,235.6L947.1,232.4M955.6,243.3L958.2,240.7M969.2,265.8L972.7,264.7M970.3,270.4L973.9,269.6M971.1,286.2L974.7,286.5M964.3,306.8L967.4,308.6M961.7,310.8L964.7,312.9M951.2,321.7L953.4,324.6M942.7,327.1L944.3,330.3M937.3,329.4L938.5,332.8M930.3,331.4L931.1,335.0M914.1,332.3L913.7,335.9M907.8,331.3L907.0,334.8M890.9,324.0L888.9,327.1M886.2,320.5L883.8,323.3M879.1,313.4L876.2,315.6M871.0,299.4L867.6,300.8M867.4,280.4L863.8,280.4M868.5,270.3L864.9,269.6M877.6,249.7L874.7,247.5M891.0,237.1L889.0,234.0M913.1,229.0L912.7,225.4M927.7,225.6L928.4,221.3M933.7,226.9L934.9,222.6M948.0,232.9L950.2,229.1M974.6,273.7L978.9,273.2M974.3,289.4L978.7,290.1M970.7,302.1L974.8,303.8M966.2,310.6L969.9,313.0M961.2,317.3L964.5,320.2M935.9,333.7L937.2,337.9M920.4,336.2L920.5,340.6M910.7,335.5L910.0,339.9M895.9,331.0L894.0,335.0M888.9,327.1L886.5,330.8M881.9,321.6L878.9,324.9M872.2,309.9L868.4,312.2M868.1,302.1L864.1,303.8M865.7,294.9L861.4,296.0M864.3,288.3L860.0,289.0M863.9,283.1L859.4,283.3M864.0,276.4L859.6,276.0M867.9,259.7L863.8,258.0M870.2,254.7L866.3,252.6M887.0,235.4L884.4,231.9M891.4,232.6L889.2,228.8M899.6,228.6L898.0,224.5M906.5,226.5L905.5,222.2M912.4,225.4L911.8,221.1M924.3,220.8L924.7,216.1M930.4,221.6L931.2,217.0M936.0,222.9L937.3,218.4M940.6,224.4L942.2,220.1M947.7,227.7L949.9,223.6M956.0,233.1L958.9,229.4M960.1,236.5L963.2,233.0M971.2,250.3L975.2,247.9M974.3,256.3L978.5,254.4M976.8,263.0L981.3,261.7M978.2,268.5L982.8,267.6M978.9,288.5L983.5,289.2M977.1,297.0L981.6,298.3M975.4,302.2L979.8,303.9M968.6,314.9L972.5,317.6M964.0,320.8L967.5,323.9M959.8,324.9L963.0,328.4M951.9,331.1L954.4,335.0M929.0,339.8L929.8,344.5M917.4,340.6L917.2,345.3M911.8,340.1L911.2,344.8M901.7,337.9L900.3,342.4M881.9,327.4L879.0,331.1M869.7,314.3L865.9,316.9M866.4,308.8L862.3,311.0M864.2,304.2L859.9,306.1M860.2,290.3L855.6,291.1M859.9,272.6L855.3,272.0M860.9,267.2L856.3,266.2M863.7,258.3L859.3,256.6M870.4,246.0L866.6,243.3M878.9,236.3L875.7,232.9M891.7,227.4L889.6,223.2M900.9,223.5L899.5,219.0M909.9,221.3L909.1,216.7M917.6,220.6L917.5,215.9" stroke-width="0.7"/></g><path d="M916.99,279.37L861.98,288.09A55.70,55.70 0 0 1 891.71,229.75Z" fill="#f3e48c"/><g clip-path="url(#rp3b)" fill="none" stroke="#f8efbc" opacity="0.8"><path d="M917.0,279.4L854.2,295.0M917.0,279.4L852.9,288.5M917.0,279.4L852.3,278.4M917.0,279.4L852.8,271.4M897.6,274.6L872.9,268.6M917.0,279.4L885.0,267.8M917.0,279.4L886.8,263.6M900.8,267.6L889.4,259.4M902.2,265.9L869.1,235.9M908.9,270.5L894.0,254.3M913.4,274.6L878.3,227.5M906.5,262.4L883.0,224.3M914.3,274.0L887.6,221.7M913.2,280.3A3.9,3.9 0 0 1 913.2,278.6M913.5,277.9A3.8,3.8 0 0 1 915.5,275.9M909.5,281.2A7.7,7.7 0 0 1 909.4,277.9M909.0,277.5A8.2,8.2 0 0 1 909.8,275.4M911.3,274.6A7.5,7.5 0 0 1 914.2,272.4M905.8,282.2A11.6,11.6 0 0 1 906.0,275.7M901.7,283.2A15.8,15.8 0 0 1 901.7,275.6M902.4,272.8A16.0,16.0 0 0 1 904.9,268.8M897.3,284.3A20.3,20.3 0 0 1 896.9,276.6M904.3,263.2A20.5,20.5 0 0 1 909.3,260.3M895.4,266.6A25.1,25.1 0 0 1 902.1,259.2M904.7,257.5A25.1,25.1 0 0 1 907.6,256.1M887.9,286.6A30.0,30.0 0 0 1 888.0,271.6M889.8,266.2A30.2,30.2 0 0 1 905.7,251.4M884.2,268.5A34.5,34.5 0 0 1 892.9,254.7M896.4,252.0A34.2,34.2 0 0 1 902.6,248.3M879.1,288.8A39.1,39.1 0 0 1 883.3,259.5M887.8,253.5A39.0,39.0 0 0 1 902.4,243.2M875.2,289.8A43.1,43.1 0 0 1 879.5,258.3M880.8,255.4A43.4,43.4 0 0 1 900.7,239.1M870.9,290.9A47.5,47.5 0 0 1 871.3,266.4M866.5,292.0A52.0,52.0 0 0 1 867.6,263.0M870.3,257.0A51.8,51.8 0 0 1 897.4,231.4M861.3,293.3A57.4,57.4 0 0 1 859.7,276.2M860.2,270.2A57.5,57.5 0 0 1 866.1,252.6M868.8,247.7A57.7,57.7 0 0 1 889.5,228.7M858.1,294.1A60.7,60.7 0 0 1 859.2,260.9M863.6,250.7A60.6,60.6 0 0 1 875.7,235.0M881.7,229.7A60.9,60.9 0 0 1 894.2,222.9" stroke-width="0.8"/><path d="M913.1,280.0L909.3,280.7M914.7,276.1L912.4,273.0M909.3,280.9L905.4,281.6M911.5,273.7L908.8,270.9M905.4,281.6L901.4,282.4M905.5,276.9L901.5,276.0M909.6,270.2L907.0,267.0M901.4,282.2L897.0,283.0M902.0,274.1L897.8,272.6M905.8,268.1L902.7,264.9M897.2,284.1L892.5,285.3M896.7,278.5L891.8,278.3M898.4,271.0L894.0,269.0M901.5,266.2L897.8,263.0M905.3,262.8L902.5,258.8M892.2,284.0L887.3,284.9M892.1,275.4L887.2,274.7M895.2,266.8L890.9,264.3M898.7,262.0L895.1,258.6M902.3,258.9L899.3,254.9M906.5,256.5L904.4,252.0M887.6,286.1L883.7,287.0M886.8,279.5L882.8,279.5M887.1,274.9L883.2,274.3M892.3,262.0L889.0,259.7M898.3,255.7L895.9,252.5M903.8,252.2L902.1,248.6M886.2,264.6L881.8,262.4M888.7,260.2L884.7,257.4M892.4,255.7L888.8,252.3M900.3,249.5L898.0,245.3M878.5,272.9L874.2,272.2M897.7,245.4L895.6,241.6M874.1,286.2L870.1,286.9M873.6,279.4L869.5,279.4M873.9,274.0L869.8,273.5M874.7,269.4L870.8,268.5M882.5,252.9L879.3,250.5M889.4,245.8L886.9,242.6M895.7,241.5L893.7,237.9M870.9,290.7L866.3,291.8M869.8,284.7L865.1,285.2M869.5,278.1L864.8,278.0M871.9,264.5L867.4,263.1M883.0,246.2L879.6,243.0M890.0,240.3L887.3,236.4M865.8,289.5L860.7,290.5M864.8,281.2L859.7,281.3M865.0,275.1L859.8,274.7M867.9,261.7L863.0,259.9M870.5,255.7L865.9,253.3M881.7,240.9L878.2,237.1M886.4,237.1L883.3,232.9M891.1,234.0L888.6,229.6M860.5,269.5L857.3,268.9M862.8,260.7L859.7,259.6M867.1,251.2L864.2,249.6M870.7,245.5L868.1,243.6M883.3,233.0L881.4,230.3" stroke-width="0.7"/></g><path d="M919.40,280.60L894.11,230.97A55.70,55.70 0 1 1 864.39,289.31Z" fill="none" stroke="#fff" stroke-width="2.0"/><path d="M916.99,279.37L861.98,288.09A55.70,55.70 0 0 1 891.71,229.75Z" fill="none" stroke="#fff" stroke-width="2.0"/><path d="M829.00,416.80L835.75,361.81A55.40,55.40 0 1 1 774.81,405.28Z" fill="#86b27e"/><g clip-path="url(#rp4a)" fill="none" stroke="#acd0a5" opacity="0.8"><path d="M829.0,404.8L829.0,352.2M829.0,416.8L834.6,371.9M834.6,397.6L847.1,354.8M829.0,416.8L855.9,358.1M832.3,411.8L847.6,388.4M833.1,412.4L872.9,369.4M843.7,403.2L876.4,372.9M829.0,416.8L879.3,376.3M846.0,406.2L883.9,382.7M834.5,414.5L888.5,391.6M840.5,413.3L890.8,397.8M840.8,414.4L873.4,407.9M829.0,416.8L893.5,412.9M835.0,417.3L874.1,420.8M829.0,416.8L892.4,429.1M847.8,423.7L860.9,428.5M829.0,416.8L859.8,431.0M829.0,416.8L866.8,441.7M838.1,424.6L877.9,459.0M837.4,425.4L874.1,463.0M836.3,426.4L849.6,443.8M829.0,416.8L862.7,471.9M831.3,422.3L853.7,476.5M832.5,428.3L838.9,449.3M831.7,428.5L843.3,479.8M829.3,422.8L832.2,481.3M828.7,422.8L826.2,481.3M829.0,416.8L824.4,450.4M829.0,416.8L811.9,479.1M829.0,416.8L812.8,459.1M819.4,434.3L807.3,456.5M817.5,433.1L791.8,469.6M816.3,432.2L787.8,466.6M829.0,416.8L803.2,438.9M829.0,416.8L774.4,451.4M829.0,416.8L771.2,445.6M823.3,418.5L785.7,429.9M823.1,418.1L765.8,430.4M829.0,416.8L764.8,423.7M817.0,416.5L795.0,416.0M829.0,416.8L784.1,411.0M829.0,416.8L766.7,399.7M810.5,409.2L787.1,399.7M811.3,407.5L771.8,386.8M829.0,416.8L791.5,391.5M829.0,416.8L796.1,385.7M816.9,400.9L808.5,389.7M829.0,416.8L812.4,387.2M829.0,416.8L804.3,357.1M827.2,411.1L809.2,355.3M829.0,416.8L820.0,352.8M829.0,416.8L825.4,352.3M829.0,412.5A4.3,4.3 0 0 1 831.6,413.4M833.0,416.1A4.0,4.0 0 0 1 832.5,418.8M830.9,420.1A3.8,3.8 0 0 1 830.0,420.4M826.0,419.7A4.2,4.2 0 0 1 825.1,418.3M825.1,417.6A4.0,4.0 0 0 1 825.2,415.8M825.4,415.6A3.9,3.9 0 0 1 825.7,414.7M825.7,414.3A4.2,4.2 0 0 1 828.5,412.6M828.7,412.9A3.9,3.9 0 0 1 829.0,412.9M829.0,408.6A8.2,8.2 0 0 1 834.2,410.4M835.3,411.2A8.4,8.4 0 0 1 837.4,416.2M837.2,416.6A8.2,8.2 0 0 1 835.5,421.9M834.7,422.7A8.2,8.2 0 0 1 831.7,424.6M826.9,424.4A7.9,7.9 0 0 1 824.9,423.5M824.4,423.3A8.0,8.0 0 0 1 821.3,418.9M821.6,413.1A8.3,8.3 0 0 1 825.4,409.3M825.9,409.2A8.2,8.2 0 0 1 829.0,408.6M829.0,405.2A11.6,11.6 0 0 1 832.6,405.7M833.2,406.3A11.3,11.3 0 0 1 836.6,408.4M837.5,409.4A11.3,11.3 0 0 1 838.9,411.3M840.2,419.0A11.4,11.4 0 0 1 837.5,424.4M836.2,426.2A11.8,11.8 0 0 1 828.4,428.6M826.4,427.9A11.5,11.5 0 0 1 819.1,422.5M818.5,421.1A11.4,11.4 0 0 1 817.6,417.3M817.8,415.6A11.3,11.3 0 0 1 820.4,409.5M828.5,405.6A11.2,11.2 0 0 1 829.0,405.6M829.0,401.2A15.6,15.6 0 0 1 840.7,406.5M841.9,408.5A15.4,15.4 0 0 1 844.3,417.7M844.0,419.9A15.3,15.3 0 0 1 838.6,428.8M837.8,429.2A15.2,15.2 0 0 1 833.9,431.2M818.4,427.7A15.2,15.2 0 0 1 815.4,423.7M814.2,422.2A15.7,15.7 0 0 1 813.3,416.7M829.0,397.5A19.3,19.3 0 0 1 843.0,403.6M845.4,406.2A19.5,19.5 0 0 1 848.5,418.1M848.6,420.4A20.0,20.0 0 0 1 845.2,428.5M843.1,430.2A19.4,19.4 0 0 1 832.5,435.9M830.9,436.0A19.3,19.3 0 0 1 815.9,430.9M814.7,429.9A19.4,19.4 0 0 1 809.6,416.2M809.9,412.4A19.6,19.6 0 0 1 812.3,406.5M813.7,404.5A19.6,19.6 0 0 1 821.1,398.9M829.0,393.1A23.7,23.7 0 0 1 839.2,395.4M842.6,397.7A23.5,23.5 0 0 1 852.1,412.7M852.1,414.8A23.2,23.2 0 0 1 851.1,424.0M849.9,427.0A23.2,23.2 0 0 1 839.8,437.4M835.5,439.2A23.3,23.3 0 0 1 819.9,438.3M815.6,436.2A23.5,23.5 0 0 1 807.3,425.9M806.3,423.4A23.6,23.6 0 0 1 805.4,418.1M805.7,414.4A23.5,23.5 0 0 1 811.3,401.4M813.5,398.7A23.8,23.8 0 0 1 829.0,393.0M829.0,390.2A26.6,26.6 0 0 1 838.0,391.8M854.5,408.1A26.9,26.9 0 0 1 855.8,414.8M855.9,418.9A27.0,27.0 0 0 1 854.3,426.1M840.3,441.1A26.8,26.8 0 0 1 818.8,441.6M817.6,441.1A26.9,26.9 0 0 1 809.3,435.1M806.2,431.0A26.9,26.9 0 0 1 802.2,419.3M802.4,415.0A26.7,26.7 0 0 1 812.3,396.0M829.0,385.6A31.2,31.2 0 0 1 848.0,392.0M855.1,434.5A31.5,31.5 0 0 1 835.2,447.7M833.1,447.9A31.4,31.4 0 0 1 819.2,446.6M813.5,444.5A31.8,31.8 0 0 1 800.4,430.6M802.4,399.8A31.5,31.5 0 0 1 819.7,386.7M825.4,385.3A31.7,31.7 0 0 1 829.0,385.1M829.0,380.5A36.3,36.3 0 0 1 840.8,382.5M862.8,429.3A36.1,36.1 0 0 1 842.1,450.4M839.2,451.6A36.3,36.3 0 0 1 822.2,452.4M815.5,450.1A35.9,35.9 0 0 1 802.7,441.3M801.5,440.3A36.1,36.1 0 0 1 793.0,413.8M793.4,410.8A36.1,36.1 0 0 1 795.5,403.4M797.9,398.7A36.0,36.0 0 0 1 816.8,382.9M822.5,380.8A36.6,36.6 0 0 1 829.0,380.2M851.5,382.2A41.3,41.3 0 0 1 868.2,403.9M868.9,405.8A41.4,41.4 0 0 1 868.9,427.9M866.6,433.8A41.3,41.3 0 0 1 851.5,451.4M806.0,451.1A41.3,41.3 0 0 1 791.5,434.0M789.4,429.1A41.4,41.4 0 0 1 791.6,398.9M829.0,371.5A45.3,45.3 0 0 1 849.3,376.3M854.0,378.9A45.4,45.4 0 0 1 870.1,397.6M872.6,403.4A45.6,45.6 0 0 1 874.5,420.4M872.5,428.1A45.0,45.0 0 0 1 867.7,439.8M866.4,441.9A45.1,45.1 0 0 1 847.6,457.8M818.5,461.0A45.4,45.4 0 0 1 807.1,456.5M789.2,437.6A44.9,44.9 0 0 1 784.2,420.9M783.9,411.9A45.4,45.4 0 0 1 787.5,398.4M789.3,394.9A45.4,45.4 0 0 1 802.8,379.8M829.0,367.9A48.9,48.9 0 0 1 862.3,381.0M877.4,423.0A48.8,48.8 0 0 1 863.5,451.2M861.8,453.5A49.2,49.2 0 0 1 828.1,466.0M791.6,448.8A49.2,49.2 0 0 1 779.9,413.1M781.0,407.8A48.8,48.8 0 0 1 804.3,374.7M807.6,372.4A49.3,49.3 0 0 1 829.0,367.5M829.0,363.2A53.6,53.6 0 0 1 859.6,372.8M879.5,400.5A53.1,53.1 0 0 1 878.9,435.0M875.7,441.8A53.0,53.0 0 0 1 866.7,454.0M864.1,456.5A53.0,53.0 0 0 1 845.5,467.2M778.1,402.2A52.9,52.9 0 0 1 789.6,381.5M793.4,377.3A53.2,53.2 0 0 1 822.7,364.0M825.2,363.4A53.5,53.5 0 0 1 829.0,363.3M829.0,360.1A56.7,56.7 0 0 1 870.5,378.2M876.2,385.0A56.9,56.9 0 0 1 885.6,422.5M875.8,448.2A56.4,56.4 0 0 1 845.7,470.7M839.1,472.6A56.7,56.7 0 0 1 812.8,471.1M778.4,391.7A56.5,56.5 0 0 1 811.4,363.1M829.0,355.0A61.8,61.8 0 0 1 875.3,375.9M877.1,378.4A61.6,61.6 0 0 1 890.0,408.7M890.8,411.8A62.0,62.0 0 0 1 882.1,448.9M879.3,452.9A62.0,62.0 0 0 1 841.8,477.4M830.1,478.6A61.8,61.8 0 0 1 792.9,467.0M768.2,429.2A62.0,62.0 0 0 1 768.7,402.2M769.5,399.7A61.9,61.9 0 0 1 796.8,364.0M802.4,361.2A61.7,61.7 0 0 1 829.0,355.1" stroke-width="0.8"/><path d="M829.2,412.8L829.3,408.5M833.0,417.2L837.2,417.7M826.1,419.6L823.0,422.5M826.6,413.6L824.0,410.2M829.0,408.5L829.1,405.4M837.0,414.5L840.0,413.7M832.0,424.5L833.2,427.5M820.8,415.6L817.7,415.1M825.0,409.5L823.5,406.8M829.3,405.4L829.4,401.5M840.4,416.1L844.3,415.9M832.9,427.6L834.2,431.2M823.0,426.6L821.0,429.9M817.7,414.9L813.9,414.3M828.3,405.4L828.0,401.5M829.2,401.5L829.2,397.2M841.2,407.5L844.6,405.0M843.9,413.3L848.1,412.4M844.1,419.2L848.4,419.9M834.9,431.0L836.5,434.9M826.1,431.9L825.3,436.1M814.5,421.8L810.5,423.3M813.9,414.4L809.6,413.7M815.5,409.6L811.7,407.6M818.0,406.1L814.9,403.1M830.4,397.2L830.6,393.3M837.5,399.1L839.3,395.6M845.9,406.9L849.4,404.9M848.2,420.7L852.1,421.5M841.2,432.2L843.6,435.3M837.1,434.6L838.8,438.3M829.5,436.4L829.6,440.4M824.2,435.8L823.3,439.7M810.2,422.3L806.4,423.4M809.6,413.7L805.7,413.1M811.9,407.2L808.5,405.2M819.3,399.8L817.3,396.3M827.4,397.3L827.1,393.3M829.8,393.2L829.9,390.2M847.2,401.9L849.6,400.0M852.5,418.2L855.5,418.4M851.1,425.0L853.9,426.1M847.7,431.2L850.1,433.0M844.0,435.0L845.9,437.3M835.6,439.4L836.5,442.3M829.0,440.4L829.0,443.4M817.1,437.2L815.6,439.8M812.7,433.8L810.6,436.0M806.1,422.2L803.1,422.9M811.8,400.7L809.6,398.6M815.3,397.7L813.5,395.2M828.9,393.2L828.9,390.2M829.9,390.2L830.1,385.3M845.1,395.7L848.1,391.8M851.1,402.0L855.2,399.3M854.1,408.1L858.8,406.5M855.5,414.6L860.4,414.2M838.6,441.6L840.4,446.2M830.6,443.3L830.9,448.3M821.6,442.3L820.3,447.1M815.0,439.4L812.4,443.6M809.3,434.7L805.7,438.0M805.2,428.6L800.7,430.8M802.5,419.4L797.6,419.9M803.0,411.2L798.2,410.1M816.4,393.4L814.1,389.0M820.6,391.6L819.1,386.9M829.1,385.3L829.2,380.6M837.7,386.5L839.0,382.0M848.6,392.1L851.5,388.4M857.3,402.9L861.5,400.9M860.5,415.6L865.2,415.4M859.4,425.0L864.0,426.3M850.0,440.3L853.1,443.9M845.8,443.5L848.3,447.4M838.6,446.8L840.0,451.3M829.5,448.3L829.6,453.0M805.4,437.6L801.8,440.8M799.1,426.8L794.7,428.3M798.0,411.3L793.3,410.5M804.4,397.1L800.7,394.2M818.4,387.1L816.8,382.7M825.8,385.4L825.3,380.8M831.1,380.6L831.3,375.8M838.4,381.8L839.6,377.2M859.5,397.2L863.5,394.6M865.2,415.4L870.0,415.2M861.6,432.5L866.0,434.6M853.9,443.1L857.2,446.6M844.4,449.6L846.4,454.0M819.9,451.9L818.7,456.5M811.8,448.7L809.5,452.9M800.4,439.1L796.7,442.1M794.5,428.0L790.0,429.5M795.2,403.8L790.7,402.1M803.4,391.2L800.0,387.8M823.1,381.1L822.3,376.3M831.8,375.9L832.0,371.7M839.3,377.1L840.4,373.0M853.3,383.7L855.8,380.4M858.9,388.7L861.9,385.8M869.2,425.0L873.3,425.8M867.7,430.4L871.7,431.8M865.2,436.0L869.0,438.0M862.1,441.0L865.5,443.5M858.6,445.2L861.7,448.1M847.2,453.6L849.1,457.4M835.9,457.3L836.6,461.4M826.1,457.7L825.8,461.9M808.1,452.1L805.9,455.7M803.8,449.2L801.2,452.5M797.5,443.2L794.3,445.9M794.3,438.6L790.7,440.9M788.0,419.3L783.8,419.5M788.3,411.9L784.1,411.4M790.6,402.4L786.6,400.9M792.6,397.9L788.9,395.9M801.0,386.8L798.1,383.7M808.3,381.4L806.2,377.7M815.1,378.2L813.7,374.2M821.9,376.4L821.1,372.2M832.9,371.7L833.2,367.9M838.6,372.6L839.5,368.9M846.0,374.9L847.5,371.4M853.4,378.7L855.4,375.5M860.3,384.1L863.0,381.4M867.6,393.2L870.8,391.2M873.8,410.2L877.5,409.7M860.7,449.1L863.4,451.8M818.1,460.7L817.2,464.4M812.2,458.8L810.8,462.3M804.6,454.9L802.5,458.1M789.0,438.0L785.6,439.7M787.0,433.7L783.5,435.1M786.3,402.0L782.7,400.7M789.6,394.5L786.3,392.6M792.7,389.8L789.7,387.5M796.3,385.5L793.6,382.9M806.0,377.8L804.1,374.6M813.3,374.4L812.0,370.8M819.8,372.5L819.0,368.8M845.8,370.7L847.2,366.7M854.1,374.7L856.3,371.0M871.4,392.2L875.1,390.1M874.8,399.1L878.7,397.6M876.7,405.3L880.8,404.3M877.9,421.0L882.1,421.3M876.6,428.6L880.7,429.6M874.0,436.2L877.9,437.9M869.6,444.3L873.1,446.7M865.9,449.1L869.1,451.9M859.9,454.9L862.5,458.2M854.6,458.7L856.8,462.3M832.4,465.7L832.7,470.0M820.8,465.2L820.1,469.3M816.0,464.1L814.9,468.2M790.7,447.5L787.4,450.1M786.2,440.8L782.5,442.9M783.3,434.6L779.3,436.1M780.6,424.9L776.4,425.5M781.8,403.4L777.7,402.3M783.6,398.2L779.7,396.6M799.1,378.0L796.5,374.6M810.0,371.6L808.4,367.7M832.1,363.6L832.3,360.3M839.3,364.5L840.0,361.3M847.9,367.0L849.0,363.9M856.3,371.0L858.0,368.2M864.3,376.9L866.5,374.4M871.3,384.4L873.9,382.4M874.9,389.7L877.7,388.0M880.1,401.7L883.3,400.8M882.0,411.1L885.3,410.7M881.8,424.1L885.1,424.6M880.9,429.0L884.1,429.7M867.6,453.6L870.0,455.9M864.0,457.0L866.2,459.5M856.1,462.7L857.8,465.5M834.2,469.8L834.5,473.1M823.6,469.8L823.3,473.1M817.4,468.8L816.7,472.0M779.7,437.0L776.6,438.3M776.9,428.1L773.7,428.8M775.8,419.4L772.5,419.6M776.1,410.4L772.8,410.0M777.4,403.4L774.2,402.5M781.9,392.0L778.9,390.4M788.4,382.3L785.8,380.2M795.0,375.7L792.9,373.2M812.4,366.2L811.3,363.0M839.4,361.2L840.3,356.2M858.6,368.5L861.2,364.2M862.7,371.3L865.7,367.2M869.0,376.8L872.6,373.2M875.8,384.9L880.0,382.1M882.6,398.7L887.4,397.0M884.4,428.4L889.4,429.4M879.8,441.8L884.3,444.1M875.1,449.7L879.2,452.6M871.2,454.5L875.0,457.9M837.5,472.8L838.3,477.8M788.1,455.9L784.4,459.4M779.3,443.8L774.8,446.2M776.2,437.3L771.5,439.2M773.0,425.1L768.0,425.8M772.4,415.3L767.3,415.1M773.5,405.5L768.6,404.5M775.3,398.9L770.5,397.3M783.2,383.5L779.1,380.5M792.7,373.4L789.4,369.5M799.9,368.3L797.2,363.9M819.9,360.9L819.1,355.9" stroke-width="0.7"/></g><path d="M826.79,413.71L772.60,402.19A55.40,55.40 0 0 1 833.54,358.72Z" fill="#a3ce9a"/><g clip-path="url(#rp4b)" fill="none" stroke="#c3e1bb" opacity="0.8"><path d="M826.8,413.7L781.9,408.2M807.4,408.7L783.0,402.3M808.4,405.8L767.4,388.2M826.8,413.7L788.9,388.9M826.8,413.7L779.3,369.9M826.8,413.7L784.7,364.7M826.8,413.7L802.7,375.4M824.0,408.4L805.9,373.5M826.8,413.7L801.3,354.4M823.4,402.2L808.6,351.7M826.8,413.7L820.7,380.3M826.8,413.7L823.2,379.9M826.8,413.7L829.9,349.2M830.6,394.1L838.9,350.3M823.2,413.3A3.6,3.6 0 0 1 824.0,411.5M824.3,410.9A3.7,3.7 0 0 1 825.3,410.3M825.8,409.8A4.0,4.0 0 0 1 827.6,409.8M818.1,412.6A8.8,8.8 0 0 1 820.7,407.4M822.2,406.3A8.8,8.8 0 0 1 825.0,405.1M813.8,412.1A13.1,13.1 0 0 1 815.0,408.1M822.4,400.8A13.6,13.6 0 0 1 828.1,400.2M808.4,411.5A18.5,18.5 0 0 1 813.1,401.3M814.5,400.2A18.3,18.3 0 0 1 820.4,396.6M822.4,396.0A18.2,18.2 0 0 1 829.1,395.6M830.5,395.6A18.5,18.5 0 0 1 830.6,395.6M810.6,397.5A22.9,22.9 0 0 1 827.4,390.8M799.1,410.3A27.9,27.9 0 0 1 810.8,390.9M812.1,390.4A27.5,27.5 0 0 1 828.9,386.3M793.8,409.6A33.3,33.3 0 0 1 796.7,399.5M809.8,385.5A32.9,32.9 0 0 1 833.6,381.5M788.8,409.0A38.3,38.3 0 0 1 798.4,388.0M799.8,387.1A37.9,37.9 0 0 1 809.5,380.0M811.7,378.6A38.2,38.2 0 0 1 834.7,376.3M783.3,408.4A43.8,43.8 0 0 1 791.5,387.7M793.8,384.9A43.8,43.8 0 0 1 807.0,374.7M812.9,372.3A43.7,43.7 0 0 1 834.1,370.7M779.7,407.9A47.4,47.4 0 0 1 788.9,385.2M807.6,370.2A47.6,47.6 0 0 1 818.1,367.0M824.8,366.6A47.2,47.2 0 0 1 836.6,367.6M774.2,407.2A53.0,53.0 0 0 1 791.5,374.2M799.1,368.5A53.0,53.0 0 0 1 829.7,360.8M837.3,362.4A52.4,52.4 0 0 1 837.7,362.5M769.1,406.6A58.1,58.1 0 0 1 780.4,378.7M785.1,374.3A57.4,57.4 0 0 1 824.0,356.4M832.2,356.4A57.6,57.6 0 0 1 838.8,357.4M764.5,406.1A62.7,62.7 0 0 1 778.0,374.3" stroke-width="0.8"/><path d="M822.8,413.2L818.0,412.5M827.0,409.7L827.2,404.9M822.0,406.3L819.6,402.5M813.7,411.4L808.6,410.5M823.5,400.8L822.2,395.8M808.5,411.1L804.4,410.5M811.1,403.9L807.6,401.7M829.4,395.4L830.0,391.3M804.5,409.4L799.7,408.5M817.8,392.9L815.8,388.4M803.3,399.4L798.7,396.6M806.9,394.6L803.1,390.9M823.7,386.3L823.0,381.0M832.1,386.7L833.2,381.4M794.5,407.6L789.4,406.6M797.1,399.4L792.5,397.2M816.5,382.5L814.9,377.6M824.9,380.9L824.6,375.7M831.7,381.2L832.5,376.1M789.3,407.3L783.9,406.4M793.2,395.8L788.4,393.3M800.0,386.7L796.2,382.9M810.8,379.2L808.5,374.3M783.7,408.3L779.9,407.8M785.1,401.4L781.5,400.4M793.8,385.5L790.9,383.0M811.9,372.9L810.6,369.4M828.8,370.3L828.9,366.5M835.4,371.1L836.2,367.4M780.2,406.2L774.8,405.3M781.6,400.2L776.3,398.6M783.7,394.5L778.7,392.3M787.8,387.1L783.3,384.0M793.1,380.7L789.2,376.8M806.6,371.0L804.3,366.1M828.3,366.5L828.4,361.0M775.0,403.8L770.1,402.8M777.0,396.6L772.1,395.0M780.8,388.1L776.3,385.6M784.5,382.3L780.4,379.2M793.3,373.0L790.1,369.1M812.6,363.0L811.2,358.1M818.9,361.6L818.2,356.6M834.2,361.5L834.9,356.5M769.9,403.9L764.7,403.1M771.8,395.9L766.9,394.3M779.8,380.1L775.6,377.1M789.2,369.8L785.8,365.9M799.2,362.9L796.7,358.4M804.6,360.4L802.6,355.6M827.2,355.9L827.3,350.7M836.7,356.8L837.6,351.7" stroke-width="0.7"/></g><path d="M829.00,416.80L835.75,361.81A55.40,55.40 0 1 1 774.81,405.28Z" fill="none" stroke="#fff" stroke-width="1.6"/><path d="M826.79,413.71L772.60,402.19A55.40,55.40 0 0 1 833.54,358.72Z" fill="none" stroke="#fff" stroke-width="1.6"/><text x="618.2" y="83.8" font-size="11.6" fill="#231f20" font-weight="bold" font-style="normal" text-anchor="start" textLength="32.8" lengthAdjust="spacingAndGlyphs" stroke="#231f20" stroke-width="0.25">Maple</text><text x="676.0" y="215.3" font-size="11.6" fill="#231f20" font-weight="bold" font-style="normal" text-anchor="start" textLength="21.4" lengthAdjust="spacingAndGlyphs" stroke="#231f20" stroke-width="0.25">Oak</text><text x="895.7" y="83.8" font-size="11.6" fill="#231f20" font-weight="bold" font-style="normal" text-anchor="start" textLength="73.3" lengthAdjust="spacingAndGlyphs" stroke="#231f20" stroke-width="0.25">Honey Locust</text><text x="907.4" y="218.9" font-size="11.6" fill="#231f20" font-weight="bold" font-style="normal" text-anchor="start" textLength="35.6" lengthAdjust="spacingAndGlyphs" stroke="#231f20" stroke-width="0.25">Linden</text><text x="813.7" y="350.7" font-size="11.6" fill="#231f20" font-weight="bold" font-style="normal" text-anchor="start" textLength="38.6" lengthAdjust="spacingAndGlyphs" stroke="#231f20" stroke-width="0.25">Spruce</text><text x="685.9" y="122.8" font-size="12" fill="#cc3b3b" font-weight="normal" font-style="normal" text-anchor="start" textLength="30.0" lengthAdjust="spacingAndGlyphs" stroke="#cc3b3b" stroke-width="0.3">27.5%</text><text x="718.8" y="122.8" font-size="12" fill="#231f20" font-weight="normal" font-style="normal" text-anchor="start" textLength="33.0" lengthAdjust="spacingAndGlyphs" stroke="#231f20" stroke-width="0.35">Native</text><text x="690.8" y="164.4" font-size="12" fill="#cc3b3b" font-weight="normal" font-style="normal" text-anchor="start" textLength="30.9" lengthAdjust="spacingAndGlyphs" stroke="#cc3b3b" stroke-width="0.3">72.5%</text><text x="724.7" y="164.4" font-size="12" fill="#231f20" font-weight="normal" font-style="normal" text-anchor="start" textLength="58.0" lengthAdjust="spacingAndGlyphs" stroke="#231f20" stroke-width="0.35">Non-Native</text><text x="727.1" y="220.4" font-size="12" fill="#e8704a" font-weight="normal" font-style="normal" text-anchor="start" textLength="27.6" lengthAdjust="spacingAndGlyphs" stroke="#e8704a" stroke-width="0.3">11.6%</text><text x="727.1" y="231.6" font-size="12" fill="#231f20" font-weight="normal" font-style="normal" text-anchor="start" textLength="58.0" lengthAdjust="spacingAndGlyphs" stroke="#231f20" stroke-width="0.35">Non-Native</text><text x="745.8" y="294.2" font-size="12" fill="#e8704a" font-weight="normal" font-style="normal" text-anchor="start" textLength="32.4" lengthAdjust="spacingAndGlyphs" stroke="#e8704a" stroke-width="0.3">88.6%</text><text x="745.8" y="305.7" font-size="12" fill="#231f20" font-weight="normal" font-style="normal" text-anchor="start" textLength="32.9" lengthAdjust="spacingAndGlyphs" stroke="#231f20" stroke-width="0.35">Native</text><text x="824.6" y="133.6" font-size="12" fill="#5bb865" font-weight="normal" font-style="normal" text-anchor="start" textLength="27.0" lengthAdjust="spacingAndGlyphs" stroke="#5bb865" stroke-width="0.3">100%</text><text x="824.6" y="144.8" font-size="12" fill="#231f20" font-weight="normal" font-style="normal" text-anchor="start" textLength="32.9" lengthAdjust="spacingAndGlyphs" stroke="#231f20" stroke-width="0.35">Native</text><text x="822.8" y="242.8" font-size="12" fill="#f0a040" font-weight="normal" font-style="normal" text-anchor="start" textLength="31.3" lengthAdjust="spacingAndGlyphs" stroke="#f0a040" stroke-width="0.3">20.4%</text><text x="822.8" y="254.2" font-size="12" fill="#231f20" font-weight="normal" font-style="normal" text-anchor="start" textLength="33.1" lengthAdjust="spacingAndGlyphs" stroke="#231f20" stroke-width="0.35">Native</text><text x="811.4" y="309.4" font-size="12" fill="#f0a040" font-weight="normal" font-style="normal" text-anchor="start" textLength="31.3" lengthAdjust="spacingAndGlyphs" stroke="#f0a040" stroke-width="0.3">79.6%</text><text x="811.4" y="320.8" font-size="12" fill="#231f20" font-weight="normal" font-style="normal" text-anchor="start" textLength="58.9" lengthAdjust="spacingAndGlyphs" stroke="#231f20" stroke-width="0.35">Non-Native</text><text x="738.6" y="377.4" font-size="12" fill="#5bb060" font-weight="normal" font-style="normal" text-anchor="start" textLength="21.4" lengthAdjust="spacingAndGlyphs" stroke="#5bb060" stroke-width="0.3">24%</text><text x="738.6" y="388.9" font-size="12" fill="#231f20" font-weight="normal" font-style="normal" text-anchor="start" textLength="32.9" lengthAdjust="spacingAndGlyphs" stroke="#231f20" stroke-width="0.35">Native</text><text x="709.7" y="432.8" font-size="12" fill="#5bb060" font-weight="normal" font-style="normal" text-anchor="start" textLength="22.0" lengthAdjust="spacingAndGlyphs" stroke="#5bb060" stroke-width="0.3">76%</text><text x="709.7" y="444.3" font-size="12" fill="#231f20" font-weight="normal" font-style="normal" text-anchor="start" textLength="59.0" lengthAdjust="spacingAndGlyphs" stroke="#231f20" stroke-width="0.35">Non-Native</text><use href="#ic_spruce"/><use href="#ic_linden"/><use href="#ic_oak"/><use href="#ic_hl"/><use href="#ic_maple"/><path d="M455.30,135.20L455.80,135.62L456.23,136.04L456.64,136.47L457.03,136.89L457.41,137.31L457.78,137.73L458.14,138.16L458.50,138.58L458.84,139.00L459.18,139.42L459.51,139.85L459.84,140.27L460.15,140.69L460.46,141.11L460.76,141.54L461.05,141.96L461.33,142.38L461.61,142.80L461.87,143.23L462.13,143.65L462.38,144.07L462.62,144.50L462.85,144.92L463.07,145.34L463.28,145.76L463.49,146.19L463.68,146.61L463.86,147.03L464.03,147.45L464.19,147.88L464.34,148.30L464.48,148.72L464.61,149.14L464.73,149.56L464.84,149.99L464.93,150.41L465.02,150.83L465.09,151.25L465.16,151.68L465.21,152.10L465.25,152.52L465.28,152.94L465.29,153.37L465.30,153.79L465.30,154.21L465.29,154.63L465.28,155.06L465.26,155.48L465.23,155.90L465.20,156.32L465.16,156.75L465.12,157.17L465.06,157.59L465.00,158.01L464.92,158.44L464.84,158.86L464.75,159.28L464.65,159.70L464.54,160.13L464.42,160.55L464.29,160.97L464.15,161.40L463.99,161.82L463.82,162.24L463.63,162.66L463.43,163.09L463.22,163.51L462.98,163.93L462.73,164.35L462.45,164.78L462.15,165.20L461.82,165.62L461.45,166.04L461.05,166.47L460.59,166.89L460.08,167.31L459.47,167.73L458.74,168.16L457.75,168.58L455.30,169.00L455.30,169.00L452.85,168.58L451.86,168.16L451.13,167.73L450.52,167.31L450.01,166.89L449.55,166.47L449.15,166.04L448.78,165.62L448.45,165.20L448.15,164.78L447.87,164.35L447.62,163.93L447.38,163.51L447.17,163.09L446.97,162.66L446.78,162.24L446.61,161.82L446.45,161.40L446.31,160.97L446.18,160.55L446.06,160.13L445.95,159.70L445.85,159.28L445.76,158.86L445.68,158.44L445.60,158.01L445.54,157.59L445.48,157.17L445.44,156.75L445.40,156.32L445.37,155.90L445.34,155.48L445.32,155.06L445.31,154.63L445.30,154.21L445.30,153.79L445.31,153.37L445.32,152.94L445.35,152.52L445.39,152.10L445.44,151.68L445.51,151.25L445.58,150.83L445.67,150.41L445.76,149.99L445.87,149.56L445.99,149.14L446.12,148.72L446.26,148.30L446.41,147.88L446.57,147.45L446.74,147.03L446.92,146.61L447.11,146.19L447.32,145.76L447.53,145.34L447.75,144.92L447.98,144.50L448.22,144.07L448.47,143.65L448.73,143.23L448.99,142.80L449.27,142.38L449.55,141.96L449.84,141.54L450.14,141.11L450.45,140.69L450.76,140.27L451.09,139.85L451.42,139.42L451.76,139.00L452.10,138.58L452.46,138.16L452.82,137.73L453.19,137.31L453.57,136.89L453.96,136.47L454.37,136.04L454.80,135.62L455.30,135.20Z" fill="#9dc993" stroke="#231f20" stroke-width="1.6" stroke-linejoin="round"/><path d="M455.3,142L455.3,173M450.5,146Q452.5,149.5 455.3,151.5M460.1,146Q458.1,149.5 455.3,151.5M450.5,153Q452.5,156.5 455.3,158.5M460.1,153Q458.1,156.5 455.3,158.5M450.5,160Q452.5,163.5 455.3,165.5M460.1,160Q458.1,163.5 455.3,165.5" fill="none" stroke="#231f20" stroke-width="1.6"/><path d="M490.6,133L490.6,172.2M486.14,133.20L490.6,136.60L495.06,133.20M485.10,136.95L490.6,140.35L496.10,136.95M484.22,140.70L490.6,144.10L496.98,140.70M483.58,144.45L490.6,147.85L497.62,144.45M483.24,148.20L490.6,151.60L497.96,148.20M483.24,151.95L490.6,155.35L497.96,151.95M483.58,155.70L490.6,159.10L497.62,155.70M484.22,159.45L490.6,162.85L496.98,159.45M485.10,163.20L490.6,166.60L496.10,163.20M486.14,166.95L490.6,170.35L495.06,166.95" transform="translate(0.7,0.6)" fill="none" stroke="#9fcf97" stroke-width="1.1"/><path d="M490.6,133L490.6,172.2M486.14,133.20L490.6,136.60L495.06,133.20M485.10,136.95L490.6,140.35L496.10,136.95M484.22,140.70L490.6,144.10L496.98,140.70M483.58,144.45L490.6,147.85L497.62,144.45M483.24,148.20L490.6,151.60L497.96,148.20M483.24,151.95L490.6,155.35L497.96,151.95M483.58,155.70L490.6,159.10L497.62,155.70M484.22,159.45L490.6,162.85L496.98,159.45M485.10,163.20L490.6,166.60L496.10,163.20M486.14,166.95L490.6,170.35L495.06,166.95" fill="none" stroke="#231f20" stroke-width="1.1"/><g transform="translate(474.30,188.90) rotate(0)"><path d="M0,0 C6.75,-3.24 5.94,-13.77 0,-16.20 C-5.94,-13.77 -6.75,-3.24 0,0Z" fill="#f8e68a" stroke="#231f20" stroke-width="1.5" stroke-linejoin="round"/><path d="M0,0L0,-11.66M-2.6,-10.04L0,-7.29L2.6,-10.04M-2.6,-6.48L0,-3.73L2.6,-6.48" fill="none" stroke="#231f20" stroke-width="1.2"/></g><g transform="translate(472.09,194.53) rotate(-62)"><path d="M0,0 C6.38,-3.00 5.61,-12.75 0,-15.00 C-5.61,-12.75 -6.38,-3.00 0,0Z" fill="#f8e68a" stroke="#231f20" stroke-width="1.5" stroke-linejoin="round"/><path d="M0,0L0,-10.80M-2.6,-9.30L0,-6.75L2.6,-9.30M-2.6,-6.00L0,-3.45L2.6,-6.00" fill="none" stroke="#231f20" stroke-width="1.2"/></g><g transform="translate(476.51,194.53) rotate(62)"><path d="M0,0 C6.38,-3.00 5.61,-12.75 0,-15.00 C-5.61,-12.75 -6.38,-3.00 0,0Z" fill="#f8e68a" stroke="#231f20" stroke-width="1.5" stroke-linejoin="round"/><path d="M0,0L0,-10.80M-2.6,-9.30L0,-6.75L2.6,-9.30M-2.6,-6.00L0,-3.45L2.6,-6.00" fill="none" stroke="#231f20" stroke-width="1.2"/></g><g transform="translate(472.38,197.31) rotate(-130)"><path d="M0,0 C6.38,-3.00 5.61,-12.75 0,-15.00 C-5.61,-12.75 -6.38,-3.00 0,0Z" fill="#f8e68a" stroke="#231f20" stroke-width="1.5" stroke-linejoin="round"/><path d="M0,0L0,-10.80M-2.6,-9.30L0,-6.75L2.6,-9.30M-2.6,-6.00L0,-3.45L2.6,-6.00" fill="none" stroke="#231f20" stroke-width="1.2"/></g><g transform="translate(476.22,197.31) rotate(130)"><path d="M0,0 C6.38,-3.00 5.61,-12.75 0,-15.00 C-5.61,-12.75 -6.38,-3.00 0,0Z" fill="#f8e68a" stroke="#231f20" stroke-width="1.5" stroke-linejoin="round"/><path d="M0,0L0,-10.80M-2.6,-9.30L0,-6.75L2.6,-9.30M-2.6,-6.00L0,-3.45L2.6,-6.00" fill="none" stroke="#231f20" stroke-width="1.2"/></g><path d="M474.3,188.7L474.3,212.3" stroke="#231f20" stroke-width="1.5"/><path d="M461.92,219.00L462.33,219.25L462.75,219.50L462.51,219.75L463.04,220.01L463.58,220.26L464.11,220.51L464.64,220.76L465.17,221.01L465.71,221.26L466.24,221.52L466.77,221.77L467.30,222.02L467.83,222.27L468.37,222.52L468.65,222.78L468.77,223.03L468.88,223.28L467.00,223.53L467.11,223.78L467.23,224.03L467.34,224.28L467.45,224.54L467.57,224.79L467.68,225.04L467.79,225.29L467.90,225.54L468.01,225.79L468.12,226.05L468.23,226.30L468.33,226.55L468.44,226.80L468.54,227.05L468.65,227.31L468.75,227.56L466.85,227.81L466.95,228.06L467.05,228.31L467.15,228.56L467.25,228.81L467.34,229.07L467.44,229.32L467.53,229.57L467.62,229.82L467.72,230.07L467.81,230.32L467.89,230.58L467.98,230.83L468.07,231.08L468.15,231.33L468.23,231.58L468.32,231.84L466.40,232.09L466.48,232.34L466.55,232.59L466.63,232.84L466.70,233.09L466.77,233.34L466.85,233.60L466.91,233.85L466.98,234.10L467.05,234.35L467.11,234.60L467.17,234.85L467.23,235.11L467.29,235.36L467.35,235.61L467.40,235.86L467.46,236.11L465.51,236.36L465.55,236.62L465.60,236.87L465.64,237.12L465.69,237.37L465.73,237.62L465.76,237.88L465.80,238.13L465.83,238.38L465.86,238.63L465.88,238.88L465.91,239.13L465.93,239.38L465.95,239.64L465.96,239.89L465.98,240.14L465.98,240.39L463.99,240.64L463.99,240.89L463.99,241.15L463.99,241.40L463.98,241.65L463.97,241.90L463.95,242.15L463.93,242.41L463.90,242.66L463.87,242.91L463.83,243.16L463.79,243.41L463.75,243.66L463.69,243.91L463.63,244.17L463.57,244.42L463.50,244.67L461.41,244.92L461.33,245.17L461.23,245.42L461.12,245.68L461.00,245.93L460.87,246.18L460.72,246.43L460.56,246.68L460.44,246.94L460.12,247.19L459.78,247.44L459.41,247.69L459.01,247.94L458.56,248.19L458.04,248.44L457.42,248.70L456.60,248.95L454.60,249.20L454.60,249.20L452.60,248.95L451.78,248.70L451.16,248.44L450.64,248.19L450.19,247.94L449.79,247.69L449.42,247.44L449.08,247.19L448.76,246.94L448.64,246.68L448.48,246.43L448.33,246.18L448.20,245.93L448.08,245.68L447.97,245.42L447.87,245.17L447.79,244.92L445.70,244.67L445.63,244.42L445.57,244.17L445.51,243.91L445.45,243.66L445.41,243.41L445.37,243.16L445.33,242.91L445.30,242.66L445.27,242.41L445.25,242.15L445.23,241.90L445.22,241.65L445.21,241.40L445.21,241.15L445.21,240.89L445.21,240.64L443.22,240.39L443.22,240.14L443.24,239.89L443.25,239.64L443.27,239.38L443.29,239.13L443.32,238.88L443.34,238.63L443.37,238.38L443.40,238.13L443.44,237.88L443.47,237.62L443.51,237.37L443.56,237.12L443.60,236.87L443.65,236.62L443.69,236.36L441.74,236.11L441.80,235.86L441.85,235.61L441.91,235.36L441.97,235.11L442.03,234.85L442.09,234.60L442.15,234.35L442.22,234.10L442.29,233.85L442.35,233.60L442.43,233.34L442.50,233.09L442.57,232.84L442.65,232.59L442.72,232.34L442.80,232.09L440.88,231.84L440.97,231.58L441.05,231.33L441.13,231.08L441.22,230.83L441.31,230.58L441.39,230.32L441.48,230.07L441.58,229.82L441.67,229.57L441.76,229.32L441.86,229.07L441.95,228.81L442.05,228.56L442.15,228.31L442.25,228.06L442.35,227.81L440.45,227.56L440.55,227.31L440.66,227.05L440.76,226.80L440.87,226.55L440.97,226.30L441.08,226.05L441.19,225.79L441.30,225.54L441.41,225.29L441.52,225.04L441.63,224.79L441.75,224.54L441.86,224.28L441.97,224.03L442.09,223.78L442.20,223.53L440.32,223.28L440.43,223.03L440.55,222.78L440.83,222.52L441.37,222.27L441.90,222.02L442.43,221.77L442.96,221.52L443.49,221.26L444.03,221.01L444.56,220.76L445.09,220.51L445.62,220.26L446.16,220.01L446.69,219.75L446.45,219.50L446.87,219.25L447.29,219.00Z" fill="#df6c62" stroke="#231f20" stroke-width="1.6" stroke-linejoin="round"/><path d="M454.6,227L454.6,255.7M450.2,227.5L454.6,232L459,227.5M450.2,233.5L454.6,238L459,233.5M450.2,239.5L454.6,244L459,239.5" fill="none" stroke="#231f20" stroke-width="1.5"/><path d="M491.4,217.2 L496,221.5 L505.8,222 L502.5,226.5 L504.5,230 L501.5,234 L503,238.5 L498.5,242 L496.5,247 L491.4,249.5 L486.3,247 L484.3,242 L479.8,238.5 L481.3,234 L478.3,230 L480.3,226.5 L477,222 L486.8,221.5 Z" fill="#9dc993" stroke="#231f20" stroke-width="1.6" stroke-linejoin="round"/><path d="M491.4,224L491.4,254M487,225.5L491.4,230L495.8,225.5M487,231.5L491.4,236L495.8,231.5M487,237.5L491.4,242L495.8,237.5" fill="none" stroke="#231f20" stroke-width="1.5"/><g transform="translate(455,250) scale(0.0995)"><path d="M195,50C232,54 258,78 268,100L250,134Q230,150 252,168L306,164C322,180 328,198 326,210L270,220Q248,240 270,260L332,264C336,276 334,284 328,290L270,290Q248,309 270,328L322,332C314,356 290,382 195,392C100,382 76,356 68,332L120,328Q142,309 120,290L62,290C56,284 54,276 58,264L120,260Q142,240 120,220L64,210C62,198 68,180 84,164L138,168Q160,150 140,134L122,100C132,78 158,54 195,48Z" fill="#ee9a42" stroke="#231f20" stroke-width="17" stroke-linejoin="round"/><path d="M195,120L195,440M150,238L172,243M218,243L240,238M150,292L172,298M218,298L240,292" fill="none" stroke="#231f20" stroke-width="13"/><circle cx="232" cy="190" r="15" fill="#231f20"/><circle cx="150" cy="325" r="17" fill="#231f20"/></g><use href="#ic_maple" style="--sw:3.2px" transform="translate(590.40,67.50) scale(0.4158,0.4138) translate(-62.20,-391.70)"/><use href="#ic_oak" style="--sw:3.2px" transform="translate(658.20,200.10) scale(0.4510,0.4121) translate(-36.10,-215.40)"/><use href="#ic_hl" style="--sw:2.3px" transform="translate(875.80,67.00) scale(0.4317,0.4296) translate(-42.40,-322.30)"/><use href="#ic_linden" style="--sw:3.2px" transform="translate(886.90,201.80) scale(0.4271,0.4069) translate(-72.40,-127.40)"/><use href="#ic_spruce" style="--sw:3.2px" transform="translate(798.00,333.90) scale(0.4301,0.4322) translate(-149.60,-70.00)"/><path d="M149.5,121.6C150,140 160,151 178.4,157.3M176.4,150.7L178.4,157.3M171.4,158.5L178.4,157.3" fill="none" stroke="#231f20" stroke-width="1.3" stroke-linecap="round" stroke-linejoin="round"/><circle cx="149.5" cy="121.6" r="1.9" fill="#231f20"/><path d="M111.6,133.2C130,137 144,155 144.8,181.4M139.9,176.4L144.8,181.4M149.3,176.4L144.8,181.4" fill="none" stroke="#231f20" stroke-width="1.3" stroke-linecap="round" stroke-linejoin="round"/><circle cx="111.6" cy="133.2" r="1.9" fill="#231f20"/><path d="M69.6,219.8C92,217 112,228 124,242.8M124,236.4L124,242.8M117.1,242.3L124,242.8" fill="none" stroke="#231f20" stroke-width="1.3" stroke-linecap="round" stroke-linejoin="round"/><circle cx="69.6" cy="219.8" r="1.9" fill="#231f20"/><path d="M87.1,359.2C106,360 127,351 140.7,334M133.9,334.5L140.7,334M140.7,340.2L140.7,334" fill="none" stroke="#231f20" stroke-width="1.3" stroke-linecap="round" stroke-linejoin="round"/><circle cx="87.1" cy="359.2" r="1.9" fill="#231f20"/><path d="M150.3,439.8C178,447 226,436 254.6,401.4M247.5,402L254.6,401.4M254.6,407.9L254.6,401.4" fill="none" stroke="#231f20" stroke-width="1.3" stroke-linecap="round" stroke-linejoin="round"/><circle cx="150.3" cy="439.8" r="1.9" fill="#231f20"/><path d="M434.2,166C398.33,144.6 361.53,144.13 323.8,164.6M326,159L323.8,164.6M330.3,166.3L323.8,164.6" fill="none" stroke="#231f20" stroke-width="1.3" stroke-linecap="round" stroke-linejoin="round"/><circle cx="434.2" cy="166" r="1.9" fill="#231f20"/><path d="M427.8,334C399.53,350.6 365.57,346.27 325.9,321M332.9,319.7L325.9,321M327.1,327.3L325.9,321" fill="none" stroke="#231f20" stroke-width="1.3" stroke-linecap="round" stroke-linejoin="round"/><circle cx="427.8" cy="334" r="1.9" fill="#231f20"/><path d="M682.7,108.7C668.07,99.3 649.5,100.03 627,110.9M629.4,104.4L627,110.9M633.8,112.8L627,110.9" fill="none" stroke="#231f20" stroke-width="1.2" stroke-linecap="round" stroke-linejoin="round"/><circle cx="682.7" cy="108.7" r="1.7" fill="#231f20"/><path d="M685.6,161.7C667.1,169.47 648.53,168.5 629.9,158.8M636,158.1L629.9,158.8M632.3,165.3L629.9,158.8" fill="none" stroke="#231f20" stroke-width="1.2" stroke-linecap="round" stroke-linejoin="round"/><circle cx="685.6" cy="161.7" r="1.7" fill="#231f20"/><path d="M851.2,119C865,109 890,110 907.4,121.3M905.4,114.5L907.4,121.3M900.7,122.8L907.4,121.3" fill="none" stroke="#231f20" stroke-width="1.2" stroke-linecap="round" stroke-linejoin="round"/><circle cx="851.2" cy="119" r="1.7" fill="#231f20"/><path d="M722.8,218C722,230 710,238 698.1,242.2M702.5,237L698.1,242.2M703,245L698.1,242.2" fill="none" stroke="#231f20" stroke-width="1.2" stroke-linecap="round" stroke-linejoin="round"/><circle cx="722.8" cy="218" r="1.7" fill="#231f20"/><path d="M737.9,291.6C725,300 700,300 682.2,289.6M688.7,287.5L682.2,289.6M684.5,295.8L682.2,289.6" fill="none" stroke="#231f20" stroke-width="1.2" stroke-linecap="round" stroke-linejoin="round"/><circle cx="737.9" cy="291.6" r="1.7" fill="#231f20"/><path d="M861.4,240.5C875,243 885,252 885.4,265.6M879.7,260.4L885.4,265.6M889.3,259.2L885.4,265.6" fill="none" stroke="#231f20" stroke-width="1.2" stroke-linecap="round" stroke-linejoin="round"/><circle cx="861.4" cy="240.5" r="1.7" fill="#231f20"/><path d="M876.2,324.3C895,326 915,320 928.7,304.9M921.9,304.9L928.7,304.9M928.7,311.7L928.7,304.9" fill="none" stroke="#231f20" stroke-width="1.2" stroke-linecap="round" stroke-linejoin="round"/><circle cx="876.2" cy="324.3" r="1.7" fill="#231f20"/><path d="M772.8,372.3C785,374 796,385 797.1,396.5M791.1,394.2L797.1,396.5M800.4,390.6L797.1,396.5" fill="none" stroke="#231f20" stroke-width="1.2" stroke-linecap="round" stroke-linejoin="round"/><circle cx="772.8" cy="372.3" r="1.7" fill="#231f20"/><path d="M767.9,451.7C790,453 810,445 820.1,433M813.2,433L820.1,433M819.7,439.5L820.1,433" fill="none" stroke="#231f20" stroke-width="1.2" stroke-linecap="round" stroke-linejoin="round"/><circle cx="767.9" cy="451.7" r="1.7" fill="#231f20"/></svg></body></html>
